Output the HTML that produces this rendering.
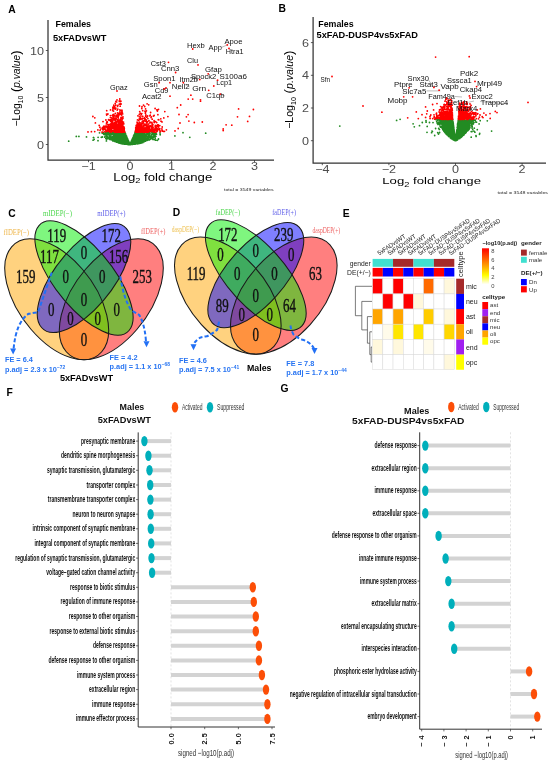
<!DOCTYPE html>
<html><head><meta charset="utf-8"><style>
html,body{margin:0;padding:0;background:#fff;}
svg{display:block;font-family:"Liberation Sans",sans-serif;will-change:transform;}
</style></head><body>
<svg width="550" height="763" viewBox="0 0 550 763">
<rect width="550" height="763" fill="#fff"/>
<text transform="translate(8.20,12.50)" font-size="10.3" text-anchor="start" fill="#000" font-weight="bold">A</text>
<text transform="translate(278.60,12.30)" font-size="10.3" text-anchor="start" fill="#000" font-weight="bold">B</text>
<text transform="translate(8.20,216.80)" font-size="10.3" text-anchor="start" fill="#000" font-weight="bold">C</text>
<text transform="translate(172.80,215.50)" font-size="10.3" text-anchor="start" fill="#000" font-weight="bold">D</text>
<text transform="translate(342.70,216.90)" font-size="10.3" text-anchor="start" fill="#000" font-weight="bold">E</text>
<text transform="translate(6.40,396.10)" font-size="10.3" text-anchor="start" fill="#000" font-weight="bold">F</text>
<text transform="translate(280.40,391.70)" font-size="10.3" text-anchor="start" fill="#000" font-weight="bold">G</text>
<path d="M148.2 138.5h0M133.4 139.7h0M125.5 139.6h0M111.1 138.9h0M121.7 142.4h0M131.6 142.4h0M127.0 140.3h0M120.0 132.8h0M134.0 138.2h0M138.3 140.3h0M129.8 144.0h0M134.6 140.9h0M127.9 141.5h0M147.3 134.2h0M127.4 140.0h0M121.5 136.1h0M137.6 141.4h0M130.4 144.2h0M103.8 133.3h0M120.8 134.2h0M132.1 141.0h0M125.5 139.8h0M129.8 144.1h0M142.4 133.8h0M131.4 142.9h0M127.7 140.6h0M134.9 134.2h0M127.6 141.3h0M131.7 142.0h0M135.9 142.0h0M114.6 134.6h0M120.8 133.2h0M111.0 133.4h0M136.1 132.7h0M109.9 133.8h0M132.6 144.1h0M144.1 141.2h0M132.8 143.0h0M142.4 141.3h0M126.2 139.9h0M144.9 132.6h0M136.5 141.5h0M132.8 139.8h0M122.3 136.0h0M142.1 136.6h0M124.1 136.2h0M131.6 142.3h0M118.2 137.6h0M129.5 144.0h0M136.5 134.9h0M126.7 144.2h0M127.4 143.1h0M122.3 139.3h0M128.6 141.4h0M131.6 143.1h0M143.3 137.5h0M111.0 135.8h0M124.0 137.4h0M108.8 132.6h0M139.3 135.1h0M120.7 134.3h0M130.0 144.5h0M148.3 138.3h0M136.6 140.3h0M145.7 136.1h0M142.1 138.1h0M127.8 140.8h0M143.3 140.6h0M126.8 141.3h0M134.0 141.2h0M121.1 133.0h0M152.1 137.6h0M124.5 140.1h0M117.4 137.0h0M137.4 142.4h0M132.6 140.3h0M130.9 142.5h0M127.2 140.8h0M130.6 144.4h0M125.2 142.3h0M126.5 136.7h0M125.9 144.2h0M137.0 139.1h0M145.1 139.5h0M137.4 139.1h0M130.8 143.1h0M139.5 139.3h0M131.0 143.3h0M127.0 140.7h0M136.9 138.8h0M149.3 135.6h0M149.4 139.9h0M126.1 137.2h0M136.3 137.4h0M133.1 138.1h0M144.3 136.7h0M139.1 136.0h0M120.8 136.0h0M118.7 134.6h0M139.0 143.2h0M135.3 134.0h0M132.1 141.3h0M127.1 141.9h0M136.5 143.1h0M135.5 133.7h0M139.9 141.8h0M122.1 133.5h0M124.5 140.9h0M130.0 144.4h0M127.9 142.0h0M127.9 140.8h0M128.1 140.9h0M139.8 138.5h0M111.8 138.2h0M128.4 143.7h0M134.4 142.5h0M113.4 133.2h0M128.2 143.9h0M118.3 138.5h0M136.3 135.4h0M123.6 136.5h0M124.4 139.9h0M131.5 142.4h0M122.4 137.9h0M150.5 136.3h0M130.7 144.2h0M129.2 142.9h0M124.7 141.4h0M131.0 144.0h0M118.8 137.8h0M128.5 141.3h0M121.0 134.4h0M134.7 134.1h0M136.5 137.4h0M136.1 138.1h0M137.2 133.3h0M128.7 142.4h0M141.3 141.5h0M126.3 137.5h0M146.9 136.5h0M128.7 143.0h0M140.8 135.0h0M132.9 142.9h0M122.2 138.1h0M134.5 136.1h0M131.4 141.9h0M124.4 141.4h0M121.4 132.4h0M128.8 142.6h0M130.0 144.5h0M124.4 139.4h0M119.1 138.1h0M132.9 137.9h0M114.1 132.8h0M137.4 133.0h0M138.1 135.4h0M129.9 144.4h0M117.7 136.1h0M137.6 142.0h0M134.6 137.7h0M132.3 139.8h0M126.6 142.4h0M115.2 135.6h0M119.5 140.5h0M135.7 141.0h0M156.2 133.9h0M123.8 135.8h0M132.8 142.2h0M139.7 140.7h0M136.8 140.5h0M143.2 134.3h0M118.8 142.1h0M119.8 134.9h0M142.8 138.2h0M128.8 142.4h0M137.2 132.7h0M135.2 139.2h0M150.9 137.3h0M121.2 141.2h0M126.0 135.7h0M130.8 142.9h0M123.6 133.6h0M106.3 136.5h0M143.6 139.2h0M123.2 142.9h0M134.9 144.0h0M118.7 132.9h0M132.0 142.7h0M123.7 133.8h0M133.3 139.1h0M124.8 137.9h0M137.4 137.8h0M139.4 142.6h0M141.9 135.1h0M129.0 142.7h0M132.3 142.4h0M131.1 143.5h0M127.0 138.5h0M126.1 142.4h0M142.0 138.6h0M125.1 133.0h0M128.2 143.5h0M133.8 139.9h0M142.6 139.0h0M138.5 135.9h0M140.1 140.6h0M130.9 144.4h0M136.7 143.3h0M143.3 134.5h0M148.1 136.5h0M136.0 141.6h0M126.5 142.8h0M136.4 140.0h0M124.7 141.0h0M138.9 135.6h0M130.5 143.9h0M131.4 142.5h0M120.0 136.9h0M130.7 142.9h0M124.2 139.6h0M134.0 140.8h0M124.0 136.1h0M136.9 142.9h0M134.6 137.7h0M117.9 134.5h0M125.9 142.5h0M125.5 143.8h0M129.1 143.4h0M139.2 136.9h0M125.3 141.2h0M140.3 139.4h0M141.3 142.9h0M128.2 140.4h0M126.0 139.1h0M136.2 135.8h0M128.8 142.7h0M145.4 137.0h0M128.7 141.7h0M108.8 133.9h0M129.5 143.6h0M136.8 139.6h0M127.6 143.5h0M118.2 135.2h0M139.2 136.7h0M116.7 135.6h0M129.3 142.9h0M126.9 141.5h0M128.3 141.6h0M133.1 143.5h0M142.1 142.1h0M139.4 135.2h0M136.0 132.5h0M137.4 139.2h0M144.4 137.1h0M134.4 136.2h0M144.9 140.4h0M127.1 143.4h0M125.6 138.7h0M129.5 143.6h0M147.1 139.4h0M129.9 144.5h0M135.7 132.3h0M123.3 142.4h0M134.6 144.2h0M125.0 143.3h0M134.3 134.6h0M132.5 138.8h0M133.6 138.0h0M126.7 139.4h0M132.3 144.4h0M118.5 139.6h0M145.0 136.7h0M133.2 139.5h0M136.7 138.4h0M144.3 134.0h0M141.1 137.6h0M126.0 138.3h0M137.8 138.7h0M126.2 141.5h0M113.9 140.4h0M134.9 134.2h0M140.2 135.5h0M117.4 142.0h0M128.9 143.3h0M138.5 142.2h0M120.1 135.5h0M125.3 137.0h0M135.1 138.2h0M136.3 140.7h0M136.8 142.0h0M133.2 143.9h0M134.3 140.9h0M141.5 135.2h0M122.8 141.6h0M125.7 137.7h0M139.2 138.3h0M122.4 134.5h0M141.2 139.4h0M139.5 141.6h0M136.6 143.5h0M136.7 142.0h0M120.6 141.4h0M129.7 144.2h0M140.8 137.2h0M123.1 143.0h0M126.7 139.2h0M122.1 135.6h0M132.2 144.4h0M117.4 139.7h0M135.9 138.3h0M140.5 142.4h0M132.7 143.4h0M151.6 134.3h0M121.4 133.7h0M128.2 144.4h0M108.0 134.4h0M123.8 138.1h0M128.3 142.1h0M126.9 138.4h0M134.4 143.2h0M126.7 137.8h0M132.0 143.6h0M143.5 133.7h0M138.8 143.0h0M133.7 140.5h0M121.9 141.6h0M131.3 141.8h0M125.6 134.7h0M116.8 134.9h0M128.1 140.3h0M123.2 141.0h0M128.3 142.4h0M144.8 138.9h0M140.8 137.7h0M125.0 134.0h0M126.4 136.0h0M124.3 140.3h0M144.4 133.9h0M121.7 136.3h0M122.4 138.3h0M128.6 144.2h0M153.1 132.7h0M150.9 138.2h0M126.6 140.4h0M145.3 136.7h0M130.3 144.0h0M127.8 141.2h0M128.8 144.3h0M116.7 135.9h0M136.9 139.1h0M131.9 141.7h0M145.7 139.0h0M128.3 141.7h0M109.8 138.6h0M128.3 143.9h0M141.9 139.7h0M112.9 138.6h0M131.5 142.3h0M117.9 135.2h0M134.6 137.9h0M129.4 144.0h0M145.8 138.3h0M126.3 143.3h0M128.1 142.8h0M118.8 142.2h0M117.8 134.7h0M130.8 143.6h0M137.7 142.7h0M123.3 133.7h0M125.8 141.2h0M138.0 134.6h0M124.6 143.5h0M126.2 135.9h0M127.6 140.0h0M128.8 141.9h0M137.5 133.0h0M129.6 144.3h0M119.6 143.1h0M115.1 137.9h0M115.9 134.3h0M124.7 133.7h0M144.0 140.6h0M135.6 141.1h0M127.4 143.2h0M113.1 134.4h0M144.5 138.1h0M124.7 137.3h0M125.6 134.8h0M118.5 138.2h0M127.3 139.8h0M127.7 144.0h0M124.1 142.1h0M114.0 137.9h0M136.0 137.8h0M135.1 140.1h0M114.1 140.5h0M139.6 135.5h0M131.5 141.8h0M134.6 138.8h0M125.0 136.6h0M131.0 143.3h0M112.7 137.9h0M122.4 138.3h0M131.9 144.2h0M132.0 144.3h0M130.2 144.3h0M122.9 137.3h0M136.0 143.8h0M142.8 135.0h0M138.2 134.3h0M122.6 137.3h0M133.7 135.9h0M130.1 144.5h0M139.3 141.1h0M131.6 140.6h0M134.7 139.0h0M130.5 143.9h0M143.2 139.4h0M120.1 139.9h0M114.7 137.8h0M119.8 133.7h0M135.7 137.5h0M115.8 133.2h0M112.0 137.4h0M129.2 142.7h0M124.6 140.6h0M142.6 138.2h0M129.9 144.3h0M122.8 143.4h0M120.8 134.0h0M118.3 132.5h0M129.5 143.6h0M116.5 137.8h0M130.8 143.4h0M121.9 135.0h0M127.1 142.9h0M134.7 143.1h0M109.5 139.3h0M140.4 141.7h0M137.6 140.3h0M117.1 139.0h0M130.5 144.3h0M117.0 138.4h0M123.9 140.1h0M124.3 134.2h0M124.2 135.3h0M129.8 144.4h0M120.2 137.1h0M142.9 133.8h0M121.8 137.2h0M140.3 141.5h0M136.8 133.9h0M138.6 136.5h0M144.7 135.7h0M143.7 141.6h0M138.4 142.5h0M116.1 134.9h0M122.3 133.4h0M120.1 138.4h0M130.0 144.5h0M131.6 140.8h0M122.9 142.9h0M148.7 136.4h0M129.9 144.5h0M135.3 136.9h0M102.3 133.2h0M120.2 139.6h0M131.4 143.5h0M119.5 135.7h0M122.5 139.1h0M129.3 143.4h0M131.1 142.5h0M142.1 137.7h0M115.1 135.9h0M131.4 142.9h0M123.5 140.3h0M132.2 142.4h0M138.0 136.0h0M121.1 135.0h0M136.9 138.9h0M127.2 143.3h0M128.9 143.6h0M118.5 132.6h0M126.7 137.4h0M123.4 141.4h0M146.3 134.4h0M135.0 142.1h0M146.4 134.7h0M122.6 136.8h0M133.6 139.9h0M133.5 137.5h0M125.3 136.7h0M129.8 144.3h0M148.8 137.1h0M125.1 139.0h0M136.5 138.5h0M132.5 138.9h0M116.5 133.4h0M125.9 143.0h0M134.7 136.1h0M122.3 139.0h0M137.7 141.3h0M132.3 142.4h0M120.2 134.3h0M121.7 141.4h0M108.5 137.3h0M134.7 139.6h0M128.8 143.3h0M119.7 132.9h0M132.2 140.3h0M141.4 134.9h0M125.6 144.1h0M124.1 140.3h0M140.2 142.9h0M130.9 143.2h0M119.7 137.0h0M133.9 139.7h0M133.4 137.8h0M109.6 138.2h0M121.4 143.1h0M132.2 141.7h0M130.2 144.2h0M140.1 134.6h0M133.7 137.7h0M128.6 142.5h0M128.7 144.4h0M119.6 136.7h0M114.2 138.9h0M141.9 135.6h0M120.6 136.5h0M137.0 142.0h0M117.2 138.0h0M131.3 141.5h0M132.9 142.0h0M132.7 138.5h0M127.6 139.3h0M137.3 138.2h0M115.7 141.5h0M140.2 140.9h0M139.7 136.6h0M123.3 135.9h0M129.5 144.0h0M129.6 144.0h0M121.0 136.4h0M140.6 140.2h0M139.3 142.5h0M133.4 137.1h0M126.3 139.4h0M125.4 140.7h0M136.1 138.7h0M133.6 136.3h0M130.4 144.4h0M138.1 135.8h0M115.6 136.2h0M141.9 139.9h0M110.7 132.4h0M130.0 144.4h0M134.0 138.2h0M134.2 138.4h0M135.4 133.0h0M122.5 135.3h0M138.7 143.1h0M129.2 143.8h0M121.8 138.5h0M138.7 141.4h0M138.6 142.7h0M125.8 138.5h0M131.7 140.7h0M130.6 144.4h0M125.1 142.8h0M131.1 143.9h0M128.3 142.3h0M131.1 144.3h0M119.7 137.9h0M138.4 139.5h0M142.9 137.0h0M134.8 135.7h0M118.0 137.2h0M134.4 138.9h0M147.3 140.3h0M125.9 138.8h0M124.3 137.5h0M117.5 139.3h0M143.7 140.1h0M134.6 140.6h0M137.6 143.4h0M121.5 133.1h0M131.7 142.5h0M129.4 143.0h0M148.3 138.9h0M118.6 135.8h0M133.9 143.1h0M132.3 140.2h0M134.6 138.6h0M137.2 143.2h0M122.4 142.3h0M125.6 137.0h0M129.5 143.6h0M131.8 144.0h0M115.7 132.5h0M122.6 141.7h0M130.8 144.3h0M135.0 132.6h0M141.6 141.5h0M145.0 137.2h0M125.8 136.4h0M140.0 138.6h0M139.3 140.1h0M136.4 137.7h0M133.5 138.0h0M136.2 137.0h0M133.1 141.9h0M135.3 144.1h0M134.9 134.8h0M122.4 143.5h0M128.7 141.5h0M121.9 138.8h0M115.7 132.6h0M129.7 143.9h0M124.4 134.0h0M133.8 137.5h0M120.1 139.9h0M123.7 136.5h0M136.1 132.6h0M150.9 138.3h0M126.6 142.8h0M131.0 143.0h0M140.0 136.9h0M126.4 141.5h0M126.9 139.2h0M124.1 143.1h0M129.2 144.2h0M138.6 135.3h0M121.4 139.9h0M130.1 144.4h0M133.6 141.9h0M128.4 142.3h0M112.8 133.6h0M121.4 132.5h0M142.7 132.4h0M125.2 142.5h0M129.2 144.0h0M135.0 136.8h0M131.1 142.2h0M136.5 133.8h0M143.8 132.4h0M138.1 138.6h0M116.9 139.5h0M123.5 140.7h0M139.7 141.5h0M121.8 133.4h0M141.1 140.7h0M115.8 133.1h0M128.5 144.1h0M138.1 143.1h0M140.9 134.0h0M134.3 136.0h0M121.0 139.3h0M135.1 139.1h0M137.3 138.5h0M139.4 132.6h0M130.9 143.8h0M137.2 133.1h0M132.0 142.3h0M129.2 142.8h0M153.4 137.2h0M128.9 142.1h0M123.9 135.5h0M128.6 142.9h0M121.4 142.1h0M136.9 137.7h0M136.4 139.0h0M133.1 143.8h0M135.4 142.0h0M128.3 141.2h0M118.0 133.3h0M134.4 142.2h0M129.4 143.3h0M131.0 143.5h0M127.8 141.6h0M132.2 144.0h0M126.6 136.7h0M136.9 133.2h0M131.8 142.0h0M128.8 143.3h0M138.5 134.4h0M137.2 140.8h0M122.4 139.1h0M126.8 137.5h0M123.0 133.5h0M129.8 144.4h0M120.7 136.8h0M133.1 143.7h0M129.2 144.3h0M129.3 144.3h0M135.2 139.0h0M133.1 138.5h0M126.6 141.3h0M151.9 138.5h0M131.8 143.9h0M128.5 141.3h0M132.9 141.2h0M142.3 132.7h0M119.6 138.2h0M129.7 143.7h0M131.4 144.1h0M123.1 141.0h0M121.9 140.2h0M130.5 143.3h0M137.8 142.3h0M123.4 142.1h0M144.4 139.5h0M132.3 139.5h0M131.7 144.3h0M129.3 143.4h0M122.3 142.4h0M133.1 142.3h0M137.8 139.4h0M121.9 134.4h0M135.0 141.3h0M136.7 141.9h0M144.6 133.8h0M117.8 133.1h0M113.1 137.2h0M119.5 132.7h0M112.1 134.0h0M138.3 143.0h0M133.5 138.6h0M142.6 142.1h0M139.0 137.3h0M132.6 140.8h0M132.7 140.0h0M119.2 142.9h0M140.1 134.4h0M134.9 138.9h0M123.4 136.0h0M130.8 143.9h0M133.5 140.2h0M119.4 134.2h0M127.4 141.4h0M113.9 138.8h0M121.5 139.9h0M129.9 144.4h0M125.2 140.5h0M121.0 137.3h0M133.6 135.9h0M134.4 140.0h0M134.4 142.9h0M138.5 143.6h0M147.6 133.0h0M133.6 138.4h0M130.8 143.0h0M131.2 142.8h0M124.8 137.6h0M139.8 143.2h0M123.6 140.0h0M136.8 138.2h0M126.3 140.1h0M137.3 136.3h0M143.9 136.8h0M127.6 144.3h0M129.7 143.9h0M139.0 135.1h0M142.5 136.8h0M127.9 143.8h0M130.7 143.1h0M125.9 144.1h0M128.9 142.4h0M126.8 142.4h0M135.9 138.4h0M130.9 144.1h0M138.2 132.9h0M115.6 137.6h0M141.9 139.9h0M133.1 138.2h0M117.3 139.7h0M116.4 139.0h0M123.7 142.3h0M147.5 133.6h0M127.4 139.4h0M120.5 135.8h0M133.2 140.9h0M124.6 140.6h0M130.8 144.1h0M128.6 143.3h0M129.0 143.9h0M137.4 135.6h0M141.0 135.2h0M144.4 138.5h0M125.6 144.0h0M122.7 139.5h0M113.7 139.4h0M122.6 138.1h0M143.1 132.8h0M137.2 141.9h0M126.8 140.3h0M114.9 133.3h0M130.5 143.6h0M125.0 137.5h0M128.5 142.5h0M131.9 144.0h0M131.8 142.7h0M141.0 132.6h0M131.4 141.3h0M113.0 141.0h0M142.6 135.2h0M106.5 134.0h0M126.5 143.8h0M131.4 144.1h0M124.9 142.7h0M115.1 140.9h0M121.5 141.4h0M114.8 141.4h0M136.7 142.4h0M137.0 141.8h0M133.6 142.5h0M150.0 133.3h0M142.7 142.5h0M130.6 143.7h0M135.0 143.1h0M136.2 139.9h0M151.4 135.8h0M146.7 139.8h0M134.1 135.8h0M136.3 143.2h0M123.1 137.5h0M132.4 142.7h0M136.5 139.0h0M124.4 134.2h0M133.5 143.0h0M133.1 142.7h0M128.2 144.4h0M108.7 134.5h0M129.4 144.4h0M133.4 143.9h0M124.9 134.3h0M136.7 141.7h0M136.7 143.4h0M131.6 142.1h0M129.2 144.1h0M127.8 142.4h0M107.6 132.3h0M143.9 133.7h0M125.8 141.8h0M135.4 143.5h0M145.9 135.0h0M123.2 135.3h0M143.6 141.0h0M144.6 136.6h0M132.8 139.3h0M131.5 143.2h0M150.4 137.9h0M126.0 142.5h0M142.0 134.5h0M134.9 136.6h0M121.5 134.8h0M144.3 135.5h0M130.4 144.5h0M117.2 134.7h0M114.2 139.5h0M116.8 134.1h0M125.2 138.1h0M127.8 140.5h0M144.1 138.2h0M119.6 140.0h0M132.4 140.9h0M125.8 138.7h0M134.5 134.4h0M133.7 143.8h0M128.2 141.9h0M129.8 144.4h0M132.3 140.9h0M129.2 142.7h0M151.0 136.5h0M133.8 141.8h0M141.5 138.8h0M122.3 133.9h0M134.4 135.7h0M115.1 141.1h0M135.4 143.0h0M117.5 142.1h0M137.2 142.6h0M125.5 141.0h0M117.6 136.1h0M132.4 140.3h0M130.5 143.4h0M131.5 143.7h0M124.6 132.7h0M122.4 132.5h0M125.5 135.6h0M121.4 133.3h0M125.1 134.8h0M126.6 136.6h0M137.6 142.0h0M140.8 141.2h0M120.2 139.3h0M135.1 137.3h0M116.8 137.3h0M145.2 139.4h0M115.9 136.0h0M137.1 137.8h0M114.8 137.9h0M114.0 134.7h0M149.2 133.6h0M116.1 141.0h0M133.7 140.8h0M134.8 141.8h0M127.7 139.3h0M120.1 135.2h0M118.6 135.1h0M127.6 141.6h0M128.9 142.0h0M121.3 135.7h0M147.7 139.0h0M131.2 142.5h0M135.4 139.5h0M127.9 140.0h0M118.8 134.5h0M140.3 138.3h0M128.8 143.7h0M125.6 142.0h0M125.9 142.0h0M128.9 142.1h0M148.8 133.9h0M126.3 136.6h0M145.1 139.6h0M131.1 143.8h0M116.2 141.6h0M127.9 139.9h0M145.2 137.0h0M128.2 144.3h0M133.4 138.5h0M116.7 134.1h0M130.3 144.1h0M125.9 143.7h0M139.2 141.3h0M124.2 136.7h0M145.3 139.9h0M121.6 136.0h0M121.2 135.5h0M125.6 136.7h0M131.4 142.6h0M122.3 141.2h0M140.4 141.9h0M131.9 140.1h0M119.7 138.3h0M138.1 136.5h0M154.4 133.8h0M119.3 137.2h0M134.4 138.8h0M110.8 136.3h0M134.5 144.0h0M123.8 143.3h0M124.1 139.6h0M127.5 142.5h0M124.9 138.7h0M139.3 138.9h0M129.0 144.1h0M137.8 141.9h0M133.4 143.4h0M132.7 139.0h0M118.1 134.8h0M117.9 133.7h0M122.1 143.2h0M137.0 132.6h0M143.5 136.7h0M130.1 144.4h0M131.0 143.1h0M120.0 139.3h0M127.1 143.6h0M123.6 135.8h0M127.1 142.4h0M118.6 134.5h0M127.3 143.9h0M131.6 142.0h0M130.8 143.1h0M137.9 142.9h0M128.9 142.2h0M132.9 140.2h0M138.6 137.7h0M131.9 141.9h0M114.1 138.7h0M120.9 137.1h0M124.6 139.6h0M119.3 137.7h0M136.5 138.9h0M117.8 141.0h0M138.0 136.5h0M134.2 134.6h0M144.2 137.0h0M116.4 132.8h0M123.8 134.4h0M134.3 142.5h0M125.4 138.8h0M117.3 140.4h0M137.8 143.0h0M133.5 137.8h0M126.0 138.3h0M121.0 138.3h0M124.4 139.0h0M129.6 144.3h0M147.3 134.2h0M122.6 135.1h0M121.4 139.3h0M120.8 142.8h0M130.1 144.3h0M139.1 133.2h0M119.5 134.7h0M133.5 137.3h0M121.7 140.0h0M128.8 144.0h0M127.3 142.7h0M134.2 142.2h0M110.4 134.2h0M125.6 144.2h0M135.6 133.5h0M140.6 137.7h0M130.8 144.1h0M135.2 141.1h0M131.0 143.5h0M124.2 142.5h0M137.3 143.5h0M137.6 135.6h0M149.6 134.0h0M139.6 134.6h0M137.2 136.8h0M134.8 134.7h0M131.8 143.4h0M132.4 144.2h0M141.3 135.8h0M136.9 137.5h0M121.6 143.2h0M135.0 140.7h0M129.8 144.3h0M139.1 139.3h0M120.9 140.0h0M118.3 142.8h0M123.9 137.9h0M135.2 143.6h0M129.1 144.5h0M120.8 139.5h0M131.6 141.9h0M123.9 139.1h0M131.3 144.3h0M141.4 133.8h0M110.4 137.7h0M113.1 138.8h0M124.0 135.5h0M133.8 142.4h0M138.4 136.9h0M134.8 140.2h0M134.6 136.6h0M118.6 134.3h0M134.4 143.4h0M131.6 141.8h0M136.7 137.9h0M123.1 135.1h0M109.2 135.4h0M134.3 138.0h0M124.4 141.2h0M137.9 139.6h0M120.1 140.5h0M131.6 141.2h0M135.5 136.4h0M129.9 144.5h0M137.0 132.6h0M133.7 141.2h0M124.7 144.0h0M133.6 144.1h0M155.9 136.2h0M125.1 139.2h0M120.3 142.8h0M137.3 132.9h0M127.4 140.0h0M131.6 144.3h0M146.3 136.8h0M128.4 142.7h0M149.1 139.5h0M134.8 139.5h0M132.1 142.3h0M147.7 138.4h0M117.4 137.0h0M106.9 135.3h0M137.5 132.4h0M149.7 134.4h0M134.6 141.7h0M137.8 139.6h0M137.8 134.6h0M142.9 142.4h0M128.3 141.8h0M127.0 138.6h0M127.3 143.9h0M134.6 136.9h0M140.4 137.1h0M119.8 140.9h0M141.0 133.8h0M120.1 135.8h0M120.8 138.9h0M121.7 136.0h0M119.1 133.5h0M125.6 140.7h0M139.6 140.5h0M135.1 136.4h0M136.5 134.5h0M128.7 141.5h0M137.6 138.1h0M131.8 143.9h0M131.2 144.0h0M120.9 143.5h0M133.0 139.6h0M121.2 136.6h0M135.7 137.6h0M125.6 137.9h0M117.1 142.1h0M141.9 133.9h0M123.7 142.8h0M136.2 141.8h0M141.0 141.6h0M128.5 141.6h0M137.9 134.5h0M144.1 138.5h0M123.8 136.7h0M125.5 140.5h0M121.0 141.9h0M123.6 134.7h0M136.1 133.9h0M138.1 141.4h0M125.5 138.3h0M135.3 143.5h0M126.3 143.2h0M142.6 140.6h0M131.1 142.3h0M129.2 142.7h0M136.7 136.3h0M126.9 142.4h0M119.9 135.8h0M129.9 144.2h0M107.8 133.9h0M120.3 135.3h0M119.6 140.2h0M130.8 143.9h0M111.0 132.9h0M127.0 144.2h0M123.5 133.7h0M135.9 140.9h0M138.3 135.0h0M147.7 133.7h0M124.5 138.7h0M127.2 140.0h0M113.3 136.0h0M112.2 138.2h0M131.3 144.3h0M142.8 141.9h0M122.1 142.0h0M113.7 136.4h0M125.8 142.5h0M119.1 136.3h0M123.7 143.8h0M119.3 139.6h0M123.4 132.7h0M135.2 135.0h0M121.2 134.0h0M128.8 142.8h0M123.6 140.8h0M127.1 143.0h0M138.9 134.4h0M129.5 144.2h0M125.4 136.7h0M137.2 143.0h0M116.4 141.6h0M125.4 142.4h0M122.6 142.9h0M120.3 132.7h0M131.1 142.5h0M119.8 138.5h0M117.1 135.7h0M139.1 140.3h0M129.8 144.1h0M123.1 136.4h0M127.4 143.0h0M134.2 138.8h0M128.8 144.5h0M116.7 140.0h0M143.3 135.0h0M124.0 134.6h0M143.2 133.9h0M142.7 139.8h0M144.5 139.2h0M126.8 139.2h0M134.5 142.0h0M149.1 136.7h0M140.0 142.8h0M112.8 136.7h0M128.5 141.9h0M145.5 136.8h0M126.9 140.9h0M129.0 142.9h0M109.2 137.0h0M139.8 139.2h0M121.1 135.1h0M129.6 143.9h0M121.7 138.6h0M134.1 135.5h0M141.7 135.9h0M116.6 142.0h0M132.8 138.2h0M140.8 135.5h0M136.7 140.2h0M130.8 143.2h0M128.3 142.9h0M116.7 140.2h0M130.8 142.8h0M121.6 137.0h0M131.7 141.9h0M119.9 133.2h0M103.6 133.6h0M134.5 136.9h0M133.5 141.8h0M128.5 144.5h0M128.7 142.1h0M128.9 143.2h0M126.1 141.4h0M125.9 137.5h0M114.5 138.2h0M116.0 141.8h0M122.3 136.2h0M154.6 132.5h0M126.5 138.5h0M140.9 138.1h0M139.7 133.2h0M141.0 140.4h0M136.6 138.1h0M126.8 137.3h0M134.7 143.2h0M134.6 143.8h0M127.7 139.3h0M125.7 135.6h0M137.0 133.5h0M138.1 133.2h0M116.6 139.8h0M147.9 139.8h0M130.9 143.2h0M120.2 133.9h0M133.9 144.2h0M136.7 134.7h0M132.5 138.6h0M113.4 136.3h0M132.0 144.0h0M128.2 141.5h0M138.9 137.1h0M114.8 134.5h0M123.0 143.8h0M142.1 141.2h0M129.4 143.8h0M115.5 140.5h0M139.0 141.0h0M148.9 133.9h0M133.9 140.7h0M124.2 141.8h0M115.0 138.1h0M135.3 141.8h0M135.4 138.8h0M119.1 140.8h0M138.5 135.7h0M125.5 141.4h0M116.5 133.8h0M127.8 142.4h0M130.1 144.3h0M114.2 140.1h0M113.0 134.3h0M136.9 135.3h0M134.8 135.8h0M133.6 136.3h0M128.6 142.3h0M145.6 141.2h0M133.5 139.7h0M132.0 141.2h0M128.3 144.4h0M137.9 138.9h0M130.8 143.0h0M141.6 134.0h0M129.5 144.1h0M127.4 138.3h0M137.4 133.8h0M139.6 136.7h0M129.2 143.4h0M136.8 137.8h0M146.5 132.6h0M118.2 132.9h0M110.0 137.9h0M127.7 141.5h0M114.2 136.2h0M132.6 144.2h0M124.8 139.2h0M146.6 135.1h0M114.9 141.3h0M124.9 139.5h0M125.8 139.5h0M126.1 141.8h0M114.9 136.2h0M143.6 137.4h0M124.4 138.9h0M140.3 139.3h0M110.7 138.2h0M123.1 139.3h0M117.9 140.0h0M132.1 141.7h0M116.0 134.7h0M128.7 144.3h0M140.2 134.7h0M141.6 137.9h0M144.0 137.3h0M120.7 137.7h0M131.3 142.8h0M135.7 140.5h0M120.5 135.0h0M135.6 135.6h0M127.2 141.5h0M143.9 140.1h0M131.9 140.6h0M136.2 135.6h0M125.9 141.7h0M127.0 140.1h0M134.1 144.2h0M131.6 140.9h0M140.8 140.7h0M149.5 134.8h0M136.5 142.6h0M124.6 137.4h0M139.4 142.3h0M129.5 143.6h0M133.0 140.5h0M123.8 137.6h0M137.0 135.2h0M117.6 135.7h0M134.3 140.9h0M124.3 135.0h0M148.7 138.1h0M126.1 138.3h0M124.8 133.7h0M124.8 142.2h0M137.6 141.0h0M120.6 132.7h0M120.1 134.8h0M128.1 143.2h0M138.0 142.4h0M118.0 135.8h0M112.5 133.2h0M134.1 140.1h0M120.8 142.9h0M115.3 140.2h0M146.8 134.7h0M144.2 138.0h0M116.2 134.3h0M136.0 142.1h0M126.6 139.6h0M126.3 141.8h0M134.9 140.2h0M111.8 137.5h0M125.2 140.4h0M112.4 140.2h0M143.0 132.5h0M133.1 141.5h0M136.1 138.3h0M131.9 143.4h0M141.1 139.4h0M132.2 143.5h0M130.0 144.5h0M131.3 141.9h0M128.6 142.9h0M132.1 142.8h0M133.4 137.6h0M122.6 143.4h0M126.7 144.2h0M131.1 142.2h0M131.5 141.9h0M128.2 143.8h0M107.6 137.1h0M123.6 137.7h0M131.3 141.7h0M115.4 138.0h0M141.8 142.0h0M140.5 135.7h0M127.0 141.0h0M142.9 136.1h0M120.1 134.1h0M142.4 133.8h0M133.2 138.1h0M131.1 143.1h0M133.7 140.5h0M142.0 139.0h0M122.3 139.7h0M132.3 140.7h0M142.7 136.2h0M131.4 144.1h0M121.3 135.3h0M131.2 142.4h0M136.5 136.0h0M126.1 140.1h0M148.2 136.2h0M135.5 140.0h0M127.8 143.1h0M114.1 138.5h0M132.0 142.5h0M140.9 135.1h0M133.5 138.4h0M118.8 138.7h0M142.1 132.5h0M120.1 135.3h0M148.6 139.8h0M133.4 141.5h0M131.9 141.7h0M124.8 137.5h0M148.7 134.4h0M132.4 144.0h0M125.4 134.7h0M128.3 142.2h0M117.8 134.2h0M119.6 132.9h0M130.6 144.5h0M134.0 135.8h0M147.7 139.1h0M120.0 139.6h0M122.8 143.8h0M138.8 139.2h0M126.1 136.6h0M132.6 143.2h0M118.1 141.2h0M113.7 139.3h0M119.0 133.4h0M136.7 142.5h0M130.6 143.7h0M125.2 136.5h0M116.3 136.9h0M134.7 139.1h0M135.0 139.3h0M103.5 133.8h0M141.9 135.1h0M138.0 135.4h0M154.9 136.1h0M144.2 137.9h0M135.9 141.0h0M126.3 142.4h0M135.1 138.8h0M118.2 142.5h0M118.3 138.0h0M127.2 140.1h0M118.1 132.7h0M139.5 133.4h0M131.7 143.6h0M149.4 133.7h0M134.2 143.4h0M126.9 143.5h0M118.0 140.1h0M111.3 134.3h0M133.4 138.6h0M132.8 144.1h0M122.9 139.1h0M125.9 140.3h0M143.4 134.5h0M124.5 141.8h0M132.5 139.1h0M112.3 138.7h0M129.5 143.5h0M121.3 134.2h0M138.1 141.4h0M130.5 143.4h0M147.1 136.7h0M129.3 143.8h0M137.7 138.7h0M125.5 134.7h0M128.3 142.0h0M120.0 138.4h0M143.3 141.7h0M127.7 142.6h0M134.7 143.6h0M114.2 136.5h0M122.9 133.1h0M134.7 141.9h0M139.8 140.1h0M119.6 137.8h0M139.5 142.1h0M127.7 142.8h0M114.7 137.0h0M138.1 132.4h0M137.5 136.1h0M132.1 142.0h0M120.1 138.4h0M137.8 138.0h0M140.8 133.2h0M138.5 140.0h0M129.7 144.0h0M132.7 141.4h0M120.7 134.0h0M124.6 132.9h0M138.9 135.2h0M133.9 136.8h0M124.3 133.0h0M128.2 140.9h0M128.5 142.3h0M134.1 141.9h0M139.0 137.1h0M139.0 135.5h0M130.8 142.9h0M148.8 133.7h0M132.7 140.0h0M120.9 141.9h0M133.8 136.7h0M131.7 143.7h0M132.5 142.6h0M151.5 136.7h0M116.6 136.3h0M137.2 139.0h0M130.8 143.3h0M145.8 139.0h0M125.3 143.4h0M135.0 135.7h0M122.5 142.8h0M121.9 138.2h0M147.3 136.8h0M127.9 140.3h0M127.1 144.1h0M127.0 138.6h0M134.3 136.1h0M112.0 138.9h0M129.2 143.8h0M105.7 134.4h0M133.8 137.7h0M124.1 136.1h0M142.0 134.1h0M132.9 140.6h0M132.0 144.1h0M111.6 138.4h0M128.3 141.2h0M122.6 132.4h0M129.8 144.3h0M125.7 139.5h0M128.3 140.4h0M128.9 143.5h0M138.0 132.5h0M118.8 136.6h0M114.7 136.5h0M134.1 137.3h0M124.1 144.0h0M118.3 139.8h0M138.6 143.3h0M128.7 142.6h0M130.3 144.2h0M125.7 140.6h0M135.4 139.7h0M138.7 136.6h0M143.4 136.3h0M119.3 138.8h0M121.3 135.3h0M112.9 140.2h0M137.3 140.4h0M140.6 133.9h0M136.6 135.8h0M128.2 140.5h0M141.1 138.5h0M124.7 134.5h0M144.4 141.6h0M126.5 138.2h0M133.6 137.3h0M127.3 141.8h0M124.0 142.4h0M133.4 142.3h0M141.0 138.8h0M136.1 136.0h0M114.0 136.1h0M148.1 138.6h0M129.0 143.7h0M130.6 144.4h0M139.2 136.3h0M136.5 142.6h0M138.0 138.3h0M122.9 143.5h0M123.8 134.5h0M121.2 137.7h0M123.4 132.5h0M127.6 141.7h0M142.6 137.0h0M139.0 140.6h0M136.3 139.6h0M120.8 143.3h0M131.2 144.1h0M137.7 132.5h0M132.6 144.2h0M127.2 142.5h0M130.5 143.3h0M137.0 135.1h0M138.7 141.4h0M126.6 143.8h0M130.8 143.0h0M133.0 139.2h0M114.2 134.9h0M121.2 138.4h0M130.7 144.4h0M129.3 144.4h0M130.2 144.2h0M126.3 140.5h0M140.3 139.5h0M142.1 141.8h0M134.5 143.1h0M132.6 142.8h0M128.1 141.5h0M131.6 142.3h0M134.5 137.7h0M122.8 141.1h0M152.4 134.7h0M131.1 142.7h0M131.8 143.8h0M131.2 143.0h0M123.3 138.7h0M129.5 143.8h0M123.8 136.8h0M114.7 137.1h0M113.1 139.3h0M121.1 132.9h0M126.8 142.0h0M119.2 138.6h0M131.1 144.2h0M121.0 133.0h0M134.1 137.8h0M128.2 144.5h0M117.5 142.2h0M132.4 140.2h0M117.8 135.0h0M130.4 144.2h0M125.8 141.8h0M126.9 143.4h0M133.6 138.2h0M134.8 143.0h0M145.3 137.2h0M124.0 132.5h0M128.3 143.3h0M136.6 139.2h0M129.7 144.4h0M127.9 140.1h0M121.0 132.4h0M144.2 139.1h0M116.9 135.4h0M131.6 140.6h0M122.1 141.7h0M134.7 140.6h0M139.8 134.3h0M132.7 140.7h0M119.0 134.3h0M136.5 140.1h0M132.1 141.4h0M147.5 137.8h0M123.4 136.6h0M125.2 139.1h0M122.2 136.8h0M115.1 134.3h0M133.9 143.6h0M123.0 142.0h0M142.3 142.1h0M129.6 143.8h0M133.4 140.6h0M137.6 140.6h0M143.4 134.2h0M132.7 141.1h0M119.2 142.0h0M140.7 132.8h0M119.6 137.3h0M114.2 133.9h0M125.3 137.0h0M127.0 138.5h0M144.4 140.3h0M119.3 136.5h0M121.4 142.7h0M111.6 139.6h0M114.0 133.0h0M142.6 136.2h0M120.1 140.0h0M116.8 138.8h0M128.5 142.3h0M123.3 133.3h0M125.9 142.1h0M124.3 143.6h0M127.0 139.0h0M134.5 143.1h0M122.0 139.3h0M126.2 143.0h0M121.4 139.5h0M127.8 139.7h0M121.4 135.4h0M135.1 136.4h0M136.0 134.1h0M148.3 132.9h0M132.5 142.0h0M132.3 142.2h0M121.9 133.2h0M129.8 144.4h0M123.6 134.6h0M133.7 142.0h0M124.8 136.6h0M114.2 138.9h0M133.1 143.4h0M135.0 136.0h0M123.6 137.0h0M125.5 139.0h0M111.6 137.5h0M121.0 141.1h0M124.6 142.3h0M141.0 141.5h0M126.7 139.9h0M139.7 140.4h0M129.3 144.3h0M130.7 143.8h0M119.7 136.4h0M131.5 142.7h0M142.9 141.2h0M123.5 142.4h0M141.0 137.3h0M112.7 132.4h0M131.7 144.0h0M127.1 139.5h0M137.0 138.4h0M106.7 134.3h0M135.4 135.4h0M124.0 140.0h0M126.2 136.3h0M141.6 133.9h0M126.7 142.9h0M138.4 138.0h0M116.5 140.5h0M149.6 132.7h0M130.2 144.4h0M128.6 142.5h0M127.2 138.9h0M132.8 141.0h0M133.9 136.0h0M118.3 136.2h0M137.2 142.0h0M141.6 139.8h0M126.1 142.0h0M125.6 136.8h0M137.8 137.0h0M125.3 135.9h0M127.6 144.1h0M142.9 142.0h0M132.3 144.4h0M134.7 139.0h0M121.6 139.5h0M128.0 141.6h0M144.9 133.7h0M127.1 138.2h0M131.6 143.1h0M139.5 143.4h0M138.3 142.0h0M146.6 134.1h0M108.2 134.3h0M113.7 135.5h0M150.4 139.1h0M119.4 142.6h0M130.0 144.5h0M123.1 143.2h0M132.6 140.5h0M128.3 144.0h0M116.1 134.0h0M138.0 135.5h0M117.9 133.7h0M119.3 141.0h0M123.8 136.8h0M136.9 137.4h0M131.7 143.3h0M137.5 143.8h0M132.2 142.3h0M129.2 142.9h0M128.5 141.5h0M131.5 143.3h0M143.5 136.2h0M132.6 143.4h0M126.7 137.2h0M127.6 139.0h0M127.1 140.0h0M118.6 134.3h0M119.4 135.1h0M135.0 132.8h0M128.9 143.0h0M136.1 139.6h0M139.2 137.8h0M131.9 141.6h0M116.3 142.0h0M143.4 133.5h0M127.4 138.4h0M130.5 144.2h0M107.9 138.5h0M125.0 143.9h0M140.4 134.6h0M127.5 143.9h0M136.8 135.6h0M131.0 143.0h0M132.9 141.4h0M135.5 135.3h0M124.5 136.9h0M134.1 139.8h0M125.4 134.9h0M130.1 144.3h0M123.7 135.8h0M122.9 136.8h0M132.1 139.6h0M137.7 141.3h0M123.7 134.0h0M116.2 132.8h0M155.3 134.6h0M125.9 142.6h0M123.2 132.7h0M126.8 140.5h0M137.8 137.0h0M117.9 139.5h0M129.8 144.4h0M122.2 135.8h0M123.0 142.1h0M138.7 136.4h0M139.5 137.9h0M135.1 143.2h0M146.7 140.0h0M137.7 137.9h0M119.9 139.8h0M123.1 138.8h0M122.4 143.8h0M137.8 133.0h0M138.1 135.4h0M119.2 141.1h0M132.5 143.8h0M134.2 141.3h0M127.8 143.5h0M137.0 135.3h0M131.6 143.6h0M137.8 142.4h0M131.5 143.9h0M126.9 142.9h0M132.2 143.3h0M119.7 136.5h0M131.6 144.3h0M114.3 134.7h0M125.5 137.8h0M123.9 143.4h0M140.6 137.0h0M124.1 139.9h0M125.4 138.8h0M138.2 135.7h0M125.6 134.0h0M134.4 135.9h0M125.9 142.0h0M138.1 138.4h0M122.0 141.0h0M106.8 132.9h0M113.8 133.4h0M105.2 134.9h0M122.1 143.2h0M136.6 139.1h0M126.7 142.7h0M122.4 139.2h0M145.0 134.9h0M121.5 139.4h0M133.1 138.3h0M129.2 143.1h0M126.6 136.5h0M130.1 144.4h0M143.7 133.8h0M139.9 133.0h0M129.8 144.4h0M133.0 142.3h0M124.2 141.2h0M118.7 137.1h0M125.4 141.1h0M117.7 141.7h0M136.1 137.5h0M122.0 135.6h0M116.5 141.8h0M132.0 143.3h0M125.1 134.9h0M140.6 135.6h0M126.2 138.3h0M113.2 133.2h0M115.9 133.2h0M126.9 137.7h0M137.9 136.6h0M133.1 138.8h0M138.3 137.1h0M143.4 139.2h0M122.1 135.9h0M134.6 138.3h0M122.6 135.5h0M129.6 143.9h0M132.0 141.6h0M113.6 136.4h0M117.9 138.7h0M128.6 141.6h0M121.2 137.4h0M107.2 136.5h0M116.1 132.3h0M138.7 140.1h0M124.5 143.5h0M141.1 141.0h0M128.3 140.5h0M129.3 144.4h0M134.0 143.9h0M133.7 143.8h0M124.1 134.3h0M132.5 144.1h0M132.2 140.1h0M134.0 139.0h0M118.0 134.7h0M135.7 139.3h0M133.5 137.3h0M136.3 137.0h0M135.6 135.9h0M132.1 144.1h0M127.9 140.1h0M127.3 138.3h0M127.7 142.1h0M118.5 132.4h0M134.8 133.9h0M132.2 144.3h0M146.6 135.1h0M129.1 144.3h0M128.3 143.1h0M131.5 141.2h0M129.6 143.5h0M133.6 140.3h0M120.8 141.7h0M119.2 142.2h0M127.1 138.5h0M121.9 141.0h0M123.9 136.3h0M134.0 141.6h0M123.8 138.2h0M128.6 141.3h0M152.1 136.7h0M126.1 139.1h0M118.5 137.2h0M131.9 141.5h0M133.4 144.0h0M114.0 135.7h0M131.5 142.3h0M129.0 142.1h0M124.5 136.7h0M127.8 141.0h0M141.9 139.3h0M103.2 132.7h0M129.4 144.2h0M130.6 144.4h0M122.2 134.8h0M122.9 133.9h0M134.8 144.2h0M138.1 142.4h0M127.5 141.3h0M126.6 139.5h0M123.7 133.8h0M133.7 139.7h0M137.3 141.7h0M138.3 140.2h0M127.7 143.8h0M140.5 139.3h0M148.5 133.4h0M127.2 140.9h0M122.5 143.5h0M122.7 139.1h0M120.6 142.7h0M151.9 132.6h0M110.8 139.5h0M124.5 139.7h0M127.6 141.5h0M134.8 136.5h0M121.9 143.6h0M135.6 136.4h0M133.1 139.8h0M140.7 135.0h0M116.1 138.6h0M133.4 137.7h0M131.7 144.4h0M125.5 142.8h0M125.5 136.2h0M129.0 144.1h0M137.0 136.9h0M123.4 133.7h0M138.6 143.3h0M107.9 134.4h0M129.9 144.4h0M126.3 137.4h0M140.6 136.9h0M132.1 144.1h0M138.6 137.5h0M120.8 141.2h0M137.0 142.4h0M141.3 137.2h0M128.6 142.2h0M128.1 140.5h0M124.3 135.4h0M128.5 142.7h0M130.1 144.4h0M125.0 134.0h0M131.2 143.1h0M152.9 133.3h0M136.3 134.8h0M123.3 133.0h0M142.0 135.7h0M129.4 143.8h0M128.5 144.4h0M128.4 143.0h0M129.8 143.9h0M130.5 144.2h0M139.8 139.9h0M140.5 135.8h0M142.1 140.1h0M120.9 137.8h0M119.2 138.1h0M126.5 142.8h0M118.2 142.4h0M127.8 143.3h0M131.8 141.0h0M142.6 139.1h0M127.0 142.8h0M122.5 140.7h0M128.5 142.5h0M126.3 137.5h0M128.6 144.3h0M119.9 132.6h0M128.6 141.8h0M118.7 141.2h0M109.0 133.5h0M129.9 144.5h0M133.1 142.8h0M132.4 143.5h0M116.5 133.5h0M135.4 138.8h0M132.5 140.2h0M126.0 143.7h0M128.8 144.0h0M133.9 138.5h0M134.7 135.7h0M135.1 132.3h0M134.1 142.0h0M131.7 142.0h0M141.1 135.3h0M134.2 139.8h0M123.2 143.4h0M130.8 143.8h0M134.2 140.6h0M126.5 143.2h0M145.7 137.5h0M116.9 139.2h0M131.6 142.1h0M138.8 140.3h0M136.5 141.9h0M134.0 135.3h0M144.0 133.3h0M128.7 143.0h0M130.7 143.3h0M130.2 144.4h0M124.9 133.9h0M130.5 143.5h0M135.8 136.1h0M131.0 142.2h0M133.8 136.3h0M128.3 141.8h0M124.4 140.8h0M135.3 135.5h0M130.8 143.7h0M131.1 142.8h0M141.4 141.6h0M127.7 139.9h0M134.6 136.5h0M125.8 141.2h0M122.9 133.8h0M122.5 143.8h0M130.3 144.1h0M131.0 144.1h0M127.8 142.8h0M123.5 134.9h0M124.8 135.2h0M153.5 132.3h0M129.9 144.5h0M134.9 137.7h0M142.3 138.0h0M149.6 135.5h0M130.6 143.2h0M114.6 132.3h0M147.4 138.8h0M121.1 133.8h0M143.1 139.0h0M134.0 138.5h0M136.7 141.5h0M131.9 142.4h0M122.6 137.1h0M132.8 138.0h0M131.0 143.6h0M123.6 138.7h0M125.6 138.4h0M138.7 142.2h0M116.5 137.7h0M117.0 133.1h0M134.4 135.1h0M122.2 137.6h0M126.5 140.6h0M137.3 137.6h0M123.1 136.6h0M128.6 143.1h0M115.8 139.6h0M129.7 144.4h0M148.3 138.2h0M141.7 134.4h0M142.7 134.6h0M126.8 144.1h0M132.5 141.2h0M144.6 137.3h0M139.4 135.9h0M130.2 144.1h0M132.9 142.8h0M141.1 142.2h0M128.8 144.1h0M135.0 140.3h0M137.4 143.4h0M143.8 137.7h0M128.7 144.1h0M126.5 143.4h0M125.7 140.2h0M128.6 143.9h0M114.0 138.0h0M135.2 135.3h0M113.6 132.5h0M129.8 144.0h0M125.9 142.3h0M130.8 143.3h0M128.6 141.8h0M127.4 142.0h0M129.7 144.2h0M119.9 137.6h0M121.4 143.2h0M136.3 138.2h0M138.7 136.2h0M133.6 138.6h0M133.7 139.7h0M142.1 138.1h0M131.4 141.2h0M135.5 135.8h0M120.9 140.7h0M134.3 142.3h0M121.7 141.1h0M111.8 139.4h0M111.1 138.8h0M115.1 135.6h0M145.2 137.4h0M129.5 143.8h0M126.9 141.4h0M122.5 141.7h0M130.9 143.7h0M122.8 134.9h0M135.2 132.4h0M130.1 144.3h0M135.9 140.0h0M120.8 133.8h0M128.0 141.0h0M137.5 141.2h0M141.6 141.1h0M137.9 142.0h0M138.3 141.6h0M127.5 140.9h0M123.5 137.4h0M126.6 140.7h0M137.8 135.9h0M129.4 143.4h0M133.6 141.9h0M135.1 138.2h0M127.3 139.1h0M123.8 133.4h0M113.2 139.8h0M124.9 133.6h0M134.5 137.2h0M133.0 139.3h0M125.2 143.2h0M132.8 144.2h0M120.2 138.6h0M112.7 136.3h0M118.9 137.5h0M127.7 144.2h0M121.2 134.1h0M127.9 139.9h0M145.1 140.3h0M141.5 142.4h0M125.7 134.3h0M126.5 137.8h0M129.4 143.9h0M131.4 142.1h0M131.4 143.1h0M128.3 140.4h0M110.9 135.4h0M131.8 143.5h0M129.3 144.2h0M135.7 139.1h0M112.8 139.7h0M113.8 133.5h0M105.1 133.7h0M120.4 142.0h0M145.7 138.3h0M132.3 142.0h0M148.7 133.0h0M143.7 138.6h0M128.9 143.1h0M120.2 133.2h0M146.6 135.7h0M135.5 138.8h0M122.1 141.8h0M134.6 143.8h0M126.9 141.8h0M133.5 138.1h0M142.3 134.4h0M137.2 138.7h0M147.4 136.8h0M120.1 140.8h0M130.9 142.8h0M107.9 134.0h0M134.1 137.4h0M131.3 142.3h0M132.0 141.4h0M147.1 134.6h0M134.5 136.4h0M143.3 138.5h0M118.6 133.7h0M127.6 141.6h0M134.1 136.2h0M110.9 138.4h0M124.3 137.2h0M130.8 143.7h0M144.0 139.2h0M122.9 137.5h0M122.1 141.9h0M131.1 143.6h0M123.0 139.0h0M132.1 144.1h0M115.9 134.3h0M131.0 143.3h0M150.3 137.8h0M140.9 143.0h0M130.2 144.3h0M139.2 143.2h0M143.9 134.0h0M138.6 134.8h0M126.1 140.0h0M138.4 138.7h0M122.4 138.8h0M122.0 136.1h0M121.2 143.5h0M121.5 138.9h0M144.6 137.4h0M125.1 139.6h0M114.1 140.9h0M139.8 138.4h0M121.1 137.2h0M124.2 142.3h0M143.7 140.5h0M135.7 133.8h0M131.7 142.0h0M130.1 144.4h0M144.3 137.2h0M130.3 144.2h0M122.0 132.4h0M127.2 138.2h0M141.5 142.1h0M131.6 143.9h0M123.8 133.6h0M131.4 143.6h0M129.6 144.4h0M130.5 143.7h0M119.1 142.5h0M124.8 135.1h0M122.5 139.4h0M121.1 134.3h0M116.8 139.6h0M129.7 144.2h0M144.7 132.4h0M123.8 139.7h0M136.5 138.9h0M139.9 136.7h0M121.0 141.5h0M142.9 140.9h0M127.2 144.3h0M134.2 143.7h0M133.0 137.8h0M123.2 141.3h0M135.0 140.6h0M132.0 142.3h0M128.2 142.3h0M133.2 140.2h0M134.7 133.8h0M127.5 139.4h0M119.4 141.4h0M132.2 141.4h0M133.2 139.4h0M136.9 140.8h0M131.6 142.5h0M131.9 140.4h0M118.3 139.3h0M122.6 136.8h0M142.9 140.4h0M105.8 132.8h0M153.8 136.5h0M99.5 132.8h0M160.2 134.8h0M93.4 137.6h0M153.1 139.0h0M155.8 140.2h0M156.5 134.2h0M152.9 139.4h0M106.9 136.6h0M154.0 134.8h0M105.5 134.2h0M107.1 137.9h0M105.1 133.2h0M155.2 138.3h0M158.5 139.0h0M154.6 136.7h0M154.3 133.9h0M174.9 135.9h0M106.1 134.7h0M160.0 133.0h0M93.7 137.7h0M104.8 137.0h0M154.5 139.7h0M155.4 133.8h0M155.2 138.0h0M103.8 134.3h0M104.6 137.1h0M157.5 140.3h0M106.4 140.9h0M101.3 137.3h0M153.9 135.4h0M156.0 133.1h0M106.9 138.2h0M102.3 137.0h0M98.1 137.3h0M105.8 138.6h0M106.7 139.0h0M160.1 134.3h0M93.1 140.2h0" stroke="#228b22" stroke-width="1.8" stroke-linecap="round" fill="none"/>
<path d="M116.6 128.5h0M110.0 129.6h0M113.9 126.4h0M123.2 124.1h0M108.2 131.0h0M116.6 101.9h0M115.9 101.4h0M111.6 120.9h0M121.5 118.4h0M117.2 131.3h0M117.2 126.7h0M120.2 106.2h0M115.0 117.9h0M119.5 130.0h0M115.3 128.1h0M110.1 124.3h0M113.8 119.8h0M119.9 112.9h0M124.3 130.7h0M117.0 125.2h0M122.2 129.0h0M121.8 120.3h0M118.6 115.7h0M121.7 129.8h0M121.0 122.1h0M120.8 122.2h0M123.5 129.6h0M121.3 127.0h0M121.9 111.8h0M121.9 110.2h0M121.3 132.3h0M115.4 113.3h0M88.0 131.9h0M118.6 125.0h0M111.0 123.4h0M117.2 120.5h0M121.7 129.7h0M123.2 129.3h0M120.1 124.7h0M116.7 131.5h0M108.8 128.8h0M117.2 132.3h0M121.1 104.0h0M120.5 110.4h0M108.0 129.1h0M120.4 125.9h0M121.7 115.0h0M112.8 110.0h0M121.5 128.5h0M110.6 120.9h0M117.2 125.6h0M112.1 119.9h0M122.2 130.7h0M116.4 127.6h0M123.9 123.8h0M103.2 129.9h0M118.1 130.4h0M112.2 130.7h0M109.1 130.5h0M111.1 130.0h0M109.0 126.3h0M114.3 128.3h0M109.6 126.4h0M116.0 129.9h0M122.9 127.8h0M122.1 127.9h0M121.9 126.8h0M118.1 127.7h0M117.9 117.2h0M114.3 130.5h0M108.3 129.0h0M110.3 127.8h0M118.3 130.4h0M116.4 126.6h0M117.2 126.1h0M119.4 131.6h0M122.9 118.4h0M122.7 131.2h0M103.4 128.2h0M110.2 129.7h0M123.4 131.9h0M116.2 128.6h0M117.7 130.5h0M120.8 127.0h0M121.9 132.0h0M112.4 128.2h0M115.6 131.2h0M105.4 129.1h0M106.1 131.6h0M105.0 127.2h0M111.4 129.8h0M122.7 126.0h0M114.9 126.8h0M122.8 131.3h0M113.4 125.9h0M116.2 129.6h0M122.4 124.5h0M111.7 127.2h0M116.2 115.7h0M124.4 131.7h0M119.8 99.0h0M114.2 124.2h0M116.9 132.3h0M123.9 131.4h0M121.5 118.7h0M103.0 127.4h0M118.7 129.0h0M118.0 121.5h0M107.1 121.6h0M113.3 117.5h0M111.5 125.5h0M118.6 129.8h0M115.1 127.3h0M110.3 129.7h0M108.3 127.6h0M112.0 128.7h0M118.0 119.7h0M121.3 130.3h0M124.1 127.5h0M122.0 110.4h0M113.8 124.9h0M123.2 122.6h0M105.3 129.6h0M113.0 114.7h0M119.8 111.8h0M122.7 129.4h0M116.1 130.3h0M112.0 122.6h0M114.2 129.7h0M120.5 131.1h0M123.2 131.0h0M107.3 122.5h0M121.3 118.7h0M110.1 129.9h0M121.1 122.3h0M122.1 129.9h0M115.2 120.5h0M121.9 114.1h0M119.7 121.1h0M123.4 129.4h0M119.4 101.4h0M119.9 120.0h0M113.0 123.5h0M122.0 132.3h0M119.7 113.5h0M124.3 131.2h0M116.8 131.9h0M121.8 128.1h0M122.1 119.8h0M117.9 126.6h0M123.4 129.1h0M117.5 128.6h0M117.1 128.6h0M118.8 132.2h0M105.0 126.5h0M116.8 130.9h0M117.2 110.1h0M111.3 125.0h0M113.8 115.0h0M116.9 130.1h0M103.7 129.4h0M102.6 129.5h0M97.9 129.9h0M114.1 130.7h0M121.6 123.6h0M122.2 129.0h0M107.8 126.5h0M121.2 121.9h0M121.4 132.2h0M119.1 125.5h0M118.5 130.1h0M119.6 130.1h0M117.6 125.2h0M117.9 114.5h0M119.4 126.8h0M115.8 108.2h0M115.9 130.7h0M120.2 131.3h0M107.0 127.5h0M115.8 123.0h0M107.6 128.4h0M119.9 121.4h0M117.1 119.7h0M108.2 129.3h0M121.4 128.1h0M111.4 132.0h0M119.1 114.1h0M117.4 127.2h0M115.3 128.8h0M122.3 121.4h0M112.0 130.8h0M118.3 125.8h0M118.9 113.5h0M116.3 125.7h0M121.7 132.2h0M118.3 128.7h0M121.8 131.3h0M113.8 108.3h0M113.6 111.1h0M107.2 129.9h0M119.6 132.0h0M122.3 121.9h0M112.5 120.0h0M120.9 117.8h0M116.4 124.3h0M118.8 128.8h0M117.6 120.4h0M123.3 126.2h0M120.1 119.4h0M117.1 126.1h0M113.6 128.1h0M117.2 128.7h0M122.6 117.4h0M108.4 128.7h0M124.1 130.9h0M116.2 118.4h0M123.7 131.9h0M109.0 120.3h0M122.3 132.0h0M115.0 127.3h0M109.5 129.6h0M120.9 101.2h0M118.0 131.9h0M116.2 129.9h0M115.2 128.2h0M119.8 129.2h0M117.9 125.7h0M114.5 131.3h0M118.1 125.2h0M117.3 130.6h0M119.9 128.3h0M122.1 131.2h0M110.1 119.8h0M121.5 130.2h0M112.2 123.9h0M117.4 130.7h0M118.4 121.1h0M120.6 103.4h0M108.0 127.6h0M116.5 115.9h0M122.3 128.7h0M111.0 130.2h0M123.0 132.1h0M119.2 132.1h0M116.3 115.2h0M119.9 114.3h0M121.1 132.1h0M122.8 124.3h0M120.9 121.7h0M116.6 123.9h0M121.6 117.8h0M123.7 132.0h0M118.8 115.3h0M120.1 120.8h0M114.4 129.6h0M123.9 131.6h0M102.8 128.3h0M123.7 126.6h0M106.1 125.9h0M120.4 130.7h0M124.1 132.2h0M123.6 130.0h0M123.0 127.4h0M112.6 128.0h0M111.2 119.6h0M122.2 125.8h0M121.9 131.0h0M121.8 117.4h0M124.3 131.3h0M118.8 130.0h0M114.0 108.5h0M117.5 128.7h0M113.4 123.9h0M122.1 124.2h0M121.8 128.2h0M121.4 131.0h0M123.5 122.1h0M105.6 130.3h0M99.9 127.2h0M115.3 125.8h0M114.6 107.1h0M121.8 130.0h0M114.2 126.6h0M122.6 113.9h0M120.4 114.2h0M123.9 129.4h0M121.9 124.9h0M119.3 120.5h0M124.0 129.9h0M118.9 130.1h0M119.3 131.4h0M121.2 114.4h0M109.2 127.4h0M112.5 125.0h0M122.2 129.1h0M122.1 123.8h0M109.2 128.7h0M121.5 124.4h0M112.4 125.8h0M115.4 129.9h0M113.1 130.8h0M100.1 130.4h0M114.9 130.5h0M113.7 130.1h0M110.0 127.0h0M121.1 112.8h0M117.9 130.0h0M122.0 128.1h0M122.8 127.1h0M120.0 129.1h0M115.1 125.3h0M123.5 128.6h0M121.8 128.9h0M113.4 131.1h0M120.2 121.6h0M117.4 127.1h0M120.3 131.7h0M113.8 130.1h0M123.4 123.9h0M116.1 125.1h0M113.1 116.6h0M118.0 131.2h0M123.6 131.0h0M122.0 118.4h0M122.2 127.0h0M119.8 123.0h0M121.8 130.6h0M123.0 117.0h0M118.7 131.3h0M124.2 129.5h0M123.0 122.7h0M123.5 128.2h0M120.1 123.5h0M124.2 130.4h0M122.8 127.2h0M117.3 127.5h0M113.0 131.2h0M114.7 106.7h0M118.2 120.0h0M113.2 122.8h0M94.7 131.6h0M116.1 124.8h0M122.9 132.0h0M109.5 127.4h0M122.1 111.9h0M117.5 131.5h0M118.0 124.4h0M118.0 131.1h0M113.8 130.1h0M115.8 126.6h0M121.8 128.4h0M122.8 131.3h0M108.3 125.1h0M121.9 131.9h0M123.5 128.4h0M121.8 125.3h0M121.9 124.2h0M118.3 132.1h0M108.4 131.2h0M109.0 124.6h0M108.6 119.6h0M121.8 129.8h0M109.9 130.4h0M117.1 130.1h0M121.8 125.0h0M119.3 100.9h0M111.7 118.0h0M108.0 124.7h0M117.2 132.2h0M115.4 131.6h0M121.8 126.1h0M116.8 129.7h0M107.2 131.3h0M103.9 126.1h0M116.9 124.2h0M122.0 112.9h0M123.7 128.0h0M111.0 130.0h0M112.0 128.1h0M119.3 104.1h0M121.4 120.3h0M118.8 120.5h0M109.2 131.3h0M118.1 116.5h0M114.9 130.5h0M115.7 131.9h0M106.5 126.8h0M115.5 118.9h0M120.6 124.3h0M118.3 127.5h0M117.3 115.3h0M114.9 122.3h0M112.0 130.6h0M106.9 131.5h0M122.1 128.8h0M121.3 124.0h0M120.7 127.8h0M121.9 129.9h0M111.3 131.4h0M124.8 131.9h0M122.3 125.6h0M116.0 125.9h0M117.0 131.1h0M113.8 126.6h0M116.4 132.0h0M114.5 126.3h0M117.6 125.1h0M123.4 128.4h0M121.9 126.1h0M120.1 125.0h0M123.6 123.9h0M114.4 132.1h0M110.8 124.2h0M121.8 130.4h0M123.0 132.2h0M123.8 128.7h0M121.6 124.3h0M114.7 124.2h0M123.1 123.1h0M117.9 105.3h0M120.5 104.1h0M106.7 122.4h0M121.4 129.8h0M119.4 132.0h0M117.2 126.9h0M123.2 131.7h0M100.5 129.1h0M118.9 131.8h0M112.9 110.7h0M118.4 125.4h0M115.5 108.3h0M117.0 99.9h0M122.8 122.4h0M91.4 131.7h0M114.2 123.0h0M116.9 131.7h0M120.0 122.1h0M121.3 130.5h0M115.6 130.0h0M124.3 128.4h0M106.8 122.1h0M118.5 116.2h0M111.8 127.1h0M116.0 131.4h0M113.5 115.7h0M122.7 123.0h0M120.2 125.4h0M119.6 124.8h0M124.6 131.7h0M116.4 125.0h0M118.2 131.9h0M109.7 131.3h0M121.1 130.6h0M124.3 132.1h0M113.5 128.2h0M118.6 123.6h0M115.4 109.1h0M102.4 132.1h0M121.5 122.6h0M118.4 130.2h0M104.8 127.6h0M122.8 129.4h0M115.7 124.7h0M118.9 128.9h0M122.4 113.1h0M120.2 120.7h0M121.6 125.1h0M109.4 129.1h0M118.6 124.7h0M113.4 123.3h0M122.0 110.8h0M102.1 128.1h0M115.8 105.2h0M117.7 120.2h0M116.5 131.0h0M123.0 123.5h0M123.3 132.2h0M110.4 115.6h0M115.0 132.0h0M123.5 127.6h0M111.4 121.2h0M122.7 123.2h0M117.6 106.4h0M104.4 131.8h0M116.4 121.9h0M116.6 122.5h0M114.8 125.7h0M119.2 127.2h0M122.2 128.3h0M122.2 112.8h0M109.6 128.7h0M112.4 124.2h0M111.3 129.2h0M112.7 128.3h0M114.8 119.0h0M124.2 127.8h0M121.1 117.4h0M116.0 122.1h0M115.2 127.1h0M121.7 130.7h0M123.0 127.7h0M110.4 117.6h0M120.3 120.8h0M110.5 131.7h0M115.2 103.4h0M115.9 130.3h0M103.5 126.7h0M115.5 132.1h0M119.1 128.1h0M121.0 129.6h0M121.6 129.6h0M118.0 131.9h0M113.0 107.1h0M117.6 112.8h0M122.0 131.1h0M121.1 129.4h0M124.0 130.4h0M109.0 127.7h0M116.2 132.0h0M119.2 132.2h0M110.0 124.7h0M120.3 131.7h0M123.1 127.4h0M120.1 129.7h0M102.0 132.1h0M122.7 127.7h0M119.5 122.7h0M112.7 121.3h0M117.8 109.1h0M123.7 131.9h0M118.3 118.0h0M119.6 122.9h0M118.0 129.8h0M113.8 105.2h0M120.6 132.0h0M106.4 123.9h0M115.9 128.9h0M122.6 125.9h0M113.2 131.0h0M112.4 131.0h0M113.9 114.4h0M110.8 121.3h0M119.9 130.4h0M118.5 122.6h0M111.1 128.9h0M119.9 109.9h0M110.3 125.9h0M114.1 115.9h0M112.2 126.7h0M121.3 127.0h0M114.1 106.6h0M118.4 121.6h0M109.7 132.0h0M122.3 129.9h0M116.2 123.1h0M114.3 126.5h0M124.1 129.1h0M105.1 128.8h0M116.2 126.0h0M120.6 101.2h0M145.9 130.5h0M152.4 130.3h0M137.3 126.5h0M155.3 127.9h0M159.8 125.6h0M147.1 126.5h0M148.3 131.9h0M139.0 130.3h0M138.2 129.8h0M140.9 125.7h0M152.0 123.6h0M152.0 129.8h0M144.8 131.6h0M152.9 124.7h0M138.0 123.6h0M156.8 125.7h0M136.2 127.5h0M141.8 108.5h0M157.5 125.0h0M141.9 128.7h0M158.5 126.4h0M140.2 125.5h0M137.6 126.1h0M151.8 127.8h0M150.9 130.6h0M137.9 129.6h0M158.8 129.5h0M148.7 120.8h0M142.8 118.4h0M149.8 129.7h0M136.2 129.3h0M137.3 132.2h0M144.6 118.0h0M146.9 132.0h0M159.8 128.7h0M142.3 123.6h0M135.5 130.3h0M147.4 132.0h0M154.5 132.1h0M143.9 130.3h0M139.7 129.8h0M142.6 128.2h0M157.9 128.6h0M146.6 121.5h0M140.3 132.2h0M150.5 130.1h0M142.0 131.4h0M150.0 129.9h0M150.3 126.1h0M149.7 122.9h0M138.0 125.7h0M150.4 131.6h0M148.5 129.7h0M151.4 116.8h0M146.3 130.1h0M138.1 132.3h0M153.1 127.5h0M166.4 129.8h0M155.8 132.2h0M149.2 128.3h0M136.4 127.6h0M137.1 131.3h0M148.1 132.0h0M158.1 128.8h0M153.3 129.7h0M148.1 130.9h0M141.4 129.7h0M137.1 122.2h0M145.6 131.1h0M143.6 131.5h0M162.4 131.0h0M149.3 129.3h0M135.9 132.0h0M136.6 129.8h0M160.0 130.9h0M146.1 129.9h0M140.2 127.1h0M160.4 131.2h0M150.8 131.5h0M138.7 125.5h0M144.4 120.7h0M138.3 130.2h0M139.4 116.8h0M144.4 129.3h0M141.2 127.1h0M145.5 132.2h0M140.9 125.4h0M137.4 124.7h0M135.6 131.9h0M141.1 127.6h0M148.3 129.8h0M143.5 132.0h0M144.1 131.8h0M139.9 130.9h0M152.8 130.5h0M144.6 124.8h0M143.4 131.1h0M140.0 130.4h0M140.6 130.4h0M136.0 131.9h0M147.4 125.1h0M144.5 130.6h0M139.3 118.9h0M137.5 119.9h0M146.4 131.8h0M138.7 130.6h0M144.6 129.7h0M144.4 130.8h0M141.3 126.8h0M154.0 129.8h0M138.3 127.3h0M150.3 122.5h0M154.8 128.8h0M139.2 122.2h0M143.5 121.2h0M147.4 132.0h0M143.0 132.1h0M155.3 126.8h0M142.8 127.4h0M146.2 121.5h0M156.6 127.5h0M154.1 122.0h0M138.0 127.5h0M149.1 131.4h0M141.5 128.0h0M149.1 130.2h0M141.8 126.7h0M136.3 131.4h0M155.1 126.8h0M150.4 131.2h0M142.3 130.0h0M144.2 128.5h0M137.1 124.8h0M138.7 128.7h0M141.1 132.0h0M140.7 131.8h0M144.8 131.5h0M137.1 127.1h0M135.5 131.9h0M147.7 130.8h0M136.9 127.8h0M149.5 126.1h0M141.1 130.3h0M147.4 129.2h0M141.1 130.8h0M154.1 129.7h0M152.1 128.0h0M150.8 125.7h0M151.3 127.3h0M145.4 113.2h0M151.5 127.5h0M141.3 130.6h0M144.5 132.1h0M151.9 129.2h0M139.9 119.1h0M152.4 127.2h0M145.0 130.6h0M153.1 131.8h0M138.4 125.0h0M146.7 126.7h0M141.2 128.1h0M142.5 128.2h0M143.2 128.7h0M147.4 122.0h0M140.4 113.3h0M143.9 121.1h0M143.9 128.9h0M144.5 118.8h0M138.4 124.6h0M151.0 129.6h0M142.9 127.4h0M147.1 126.7h0M152.7 131.5h0M154.9 130.2h0M144.9 130.8h0M137.3 128.1h0M136.2 125.5h0M137.5 130.1h0M137.9 132.2h0M136.4 131.4h0M136.2 130.0h0M140.3 131.6h0M135.9 129.5h0M145.7 130.2h0M155.3 125.4h0M149.0 120.7h0M143.2 128.9h0M149.2 127.9h0M151.7 130.4h0M145.6 119.3h0M141.5 131.4h0M142.8 116.4h0M151.5 129.9h0M142.3 127.2h0M145.6 121.2h0M143.1 131.4h0M136.9 129.3h0M141.2 126.3h0M155.5 127.7h0M142.2 121.3h0M148.7 124.9h0M138.2 125.1h0M143.4 125.3h0M142.5 130.4h0M153.8 130.6h0M145.5 129.5h0M141.6 129.5h0M150.0 130.8h0M140.6 117.8h0M157.4 130.8h0M144.3 128.2h0M135.6 131.5h0M137.6 127.9h0M139.7 131.8h0M135.3 131.6h0M144.9 125.7h0M135.9 131.9h0M140.9 125.7h0M143.4 122.7h0M141.4 127.5h0M138.5 130.8h0M145.3 130.7h0M138.7 131.2h0M154.1 131.5h0M137.5 124.2h0M137.5 131.8h0M146.9 129.3h0M138.2 128.8h0M143.8 129.0h0M136.0 132.0h0M142.6 130.6h0M143.1 130.0h0M141.0 131.6h0M147.4 127.8h0M139.7 127.1h0M143.5 125.9h0M144.8 117.9h0M160.2 131.7h0M146.1 124.0h0M145.0 127.7h0M144.0 129.9h0M146.9 129.8h0M135.4 131.5h0M136.7 130.9h0M140.3 128.0h0M136.7 127.5h0M149.1 127.1h0M141.5 131.7h0M143.6 130.6h0M144.4 129.1h0M149.8 130.6h0M141.6 130.4h0M158.3 124.8h0M141.0 118.7h0M141.6 125.0h0M141.3 114.3h0M139.9 131.6h0M149.3 127.0h0M148.0 123.8h0M153.0 128.4h0M136.3 131.3h0M138.3 130.7h0M137.3 123.4h0M146.8 131.4h0M152.6 126.2h0M146.8 131.5h0M162.2 127.0h0M149.8 129.3h0M145.6 108.9h0M138.2 126.0h0M149.8 115.8h0M151.1 117.6h0M144.5 131.7h0M143.1 132.3h0M140.9 129.5h0M146.5 125.8h0M139.2 124.1h0M145.9 130.4h0M155.5 130.2h0M146.6 125.7h0M140.1 131.6h0M146.2 131.0h0M139.6 128.0h0M142.5 123.6h0M143.1 121.0h0M147.7 130.2h0M137.2 129.9h0M140.5 130.1h0M139.1 131.1h0M144.7 131.4h0M142.9 130.2h0M138.6 129.5h0M152.9 129.2h0M157.1 130.1h0M146.8 125.2h0M140.0 131.5h0M137.9 115.8h0M145.5 121.2h0M136.8 127.0h0M144.8 129.7h0M137.3 132.1h0M139.2 130.7h0M143.5 126.3h0M138.3 129.2h0M159.7 129.0h0M151.0 131.4h0M145.9 130.0h0M146.2 128.1h0M151.7 129.1h0M141.4 129.1h0M151.5 128.7h0M135.7 127.9h0M148.2 126.8h0M157.1 126.1h0M149.7 129.8h0M145.4 127.9h0M142.6 129.7h0M150.6 130.3h0M138.5 131.1h0M143.8 132.0h0M150.4 130.2h0M136.9 130.7h0M137.4 131.5h0M143.1 121.9h0M143.5 131.5h0M135.9 129.3h0M145.3 125.2h0M138.6 130.9h0M155.3 127.0h0M138.9 129.2h0M152.2 119.2h0M142.7 128.8h0M156.3 131.1h0M144.0 128.9h0M164.5 131.3h0M144.6 130.0h0M141.4 126.9h0M147.0 132.2h0M140.5 119.4h0M142.4 131.5h0M138.9 126.0h0M136.3 130.2h0M139.1 131.9h0M148.6 128.4h0M154.2 131.7h0M157.1 131.4h0M137.0 129.0h0M141.6 127.7h0M144.7 130.9h0M135.6 130.6h0M138.8 120.3h0M139.2 123.1h0M144.3 124.1h0M155.1 128.7h0M146.8 117.2h0M143.7 131.3h0M145.5 124.9h0M154.0 129.9h0M135.9 127.2h0M141.6 131.9h0M139.5 122.6h0M146.1 131.9h0M141.5 124.8h0M158.5 127.1h0M138.9 130.9h0M154.1 120.7h0M146.3 129.3h0M146.2 125.4h0M145.5 131.4h0M156.2 129.2h0M139.1 131.0h0M149.6 131.3h0M151.9 122.5h0M149.5 128.3h0M137.5 126.7h0M155.6 128.0h0M143.5 132.3h0M141.7 126.9h0M141.6 125.8h0M149.3 129.5h0M143.7 130.4h0M151.8 130.8h0M178.2 128.5h0M151.7 130.7h0M145.6 116.2h0M161.0 121.2h0M157.4 111.1h0M180.0 123.0h0M154.2 122.5h0M149.3 126.0h0M188.1 114.6h0M141.8 113.6h0M156.8 109.8h0M158.5 109.3h0M167.9 116.6h0M158.9 119.8h0M150.6 112.5h0M147.9 118.6h0M150.3 115.2h0M146.6 122.4h0M150.3 122.1h0M142.1 119.0h0M145.2 131.3h0M154.1 115.5h0M160.8 118.8h0M158.3 119.7h0M155.1 108.5h0M161.9 129.0h0M158.1 109.6h0M145.9 114.9h0M163.8 117.9h0M140.8 115.9h0M140.3 129.5h0M140.4 124.2h0M139.7 111.7h0M143.5 105.1h0M147.6 116.0h0M145.6 112.1h0M146.3 119.9h0M156.7 122.6h0M144.7 106.5h0M142.0 106.7h0M142.7 110.7h0M140.7 118.5h0M142.6 116.3h0M164.8 111.6h0M156.7 128.6h0M148.7 104.8h0M155.6 121.7h0M147.1 103.8h0M152.1 124.7h0M141.1 123.0h0M157.9 114.7h0M153.5 116.0h0M143.2 130.6h0M163.4 131.3h0M162.1 130.4h0M146.4 110.8h0M162.0 121.9h0M143.5 128.0h0M145.4 113.0h0M139.5 106.0h0M145.0 111.2h0M188.9 121.1h0M142.2 126.9h0M139.3 114.5h0M114.9 116.1h0M105.9 120.0h0M113.0 118.3h0M116.6 115.5h0M111.3 125.5h0M94.8 117.8h0M116.4 130.4h0M111.6 124.1h0M106.5 114.1h0M113.3 125.4h0M108.1 128.8h0M106.7 115.0h0M110.1 126.7h0M113.4 118.7h0M114.7 125.3h0M110.6 125.1h0M110.5 109.9h0M107.9 114.0h0M112.3 115.5h0M116.4 116.5h0M106.7 110.7h0M112.8 108.0h0" stroke="#ff0000" stroke-width="1.8" stroke-linecap="round" fill="none"/>
<circle cx="190.9" cy="95.2" r="0.90" fill="#ff0000"/>
<circle cx="188.2" cy="99.1" r="0.90" fill="#ff0000"/>
<circle cx="192.7" cy="99.1" r="0.90" fill="#ff0000"/>
<circle cx="200.5" cy="99.8" r="0.90" fill="#ff0000"/>
<circle cx="200.5" cy="101.2" r="0.90" fill="#ff0000"/>
<circle cx="238.6" cy="108.9" r="0.90" fill="#ff0000"/>
<circle cx="253.4" cy="109.5" r="0.90" fill="#ff0000"/>
<circle cx="237.5" cy="116.8" r="0.90" fill="#ff0000"/>
<circle cx="249.5" cy="116.4" r="0.90" fill="#ff0000"/>
<circle cx="247.7" cy="121.4" r="0.90" fill="#ff0000"/>
<circle cx="194.3" cy="122.5" r="0.90" fill="#ff0000"/>
<circle cx="202.3" cy="122.0" r="0.90" fill="#ff0000"/>
<circle cx="226.1" cy="124.8" r="0.90" fill="#ff0000"/>
<circle cx="231.8" cy="125.2" r="0.90" fill="#ff0000"/>
<circle cx="223.2" cy="128.9" r="0.90" fill="#ff0000"/>
<circle cx="223.2" cy="130.5" r="0.90" fill="#ff0000"/>
<circle cx="186.4" cy="116.8" r="0.90" fill="#ff0000"/>
<circle cx="175.0" cy="130.9" r="0.90" fill="#ff0000"/>
<circle cx="177.3" cy="107.7" r="0.90" fill="#ff0000"/>
<circle cx="180.7" cy="105.0" r="0.90" fill="#ff0000"/>
<circle cx="179.0" cy="114.5" r="0.90" fill="#ff0000"/>
<circle cx="183.0" cy="132.7" r="0.90" fill="#228b22"/>
<circle cx="189.8" cy="137.3" r="0.90" fill="#228b22"/>
<circle cx="205.7" cy="133.2" r="0.90" fill="#228b22"/>
<circle cx="68.7" cy="141.2" r="0.90" fill="#228b22"/>
<circle cx="76.3" cy="136.4" r="0.90" fill="#228b22"/>
<circle cx="78.9" cy="136.4" r="0.90" fill="#228b22"/>
<circle cx="86.5" cy="136.9" r="0.90" fill="#228b22"/>
<circle cx="94.1" cy="139.4" r="0.90" fill="#228b22"/>
<circle cx="98.0" cy="140.7" r="0.90" fill="#228b22"/>
<circle cx="92.9" cy="116.5" r="0.90" fill="#ff0000"/>
<circle cx="95.4" cy="122.9" r="0.90" fill="#ff0000"/>
<circle cx="99.2" cy="125.4" r="0.90" fill="#ff0000"/>
<circle cx="103.0" cy="121.6" r="0.90" fill="#ff0000"/>
<path d="M48 20V160H274" stroke="#333333" stroke-width="1.25" fill="none"/>
<path d="M45.8 144.5H48" stroke="#333333" stroke-width="0.8"/>
<text transform="translate(44.00,148.50) scale(1.200,1)" font-size="10.5" text-anchor="end" fill="#4d4d4d">0</text>
<path d="M45.8 97.5H48" stroke="#333333" stroke-width="0.8"/>
<text transform="translate(44.00,101.50) scale(1.200,1)" font-size="10.5" text-anchor="end" fill="#4d4d4d">5</text>
<path d="M45.8 50.5H48" stroke="#333333" stroke-width="0.8"/>
<text transform="translate(44.00,54.50) scale(1.200,1)" font-size="10.5" text-anchor="end" fill="#4d4d4d">10</text>
<path d="M88.5 160V162.2" stroke="#333333" stroke-width="0.8"/>
<text transform="translate(88.50,170.20) scale(1.200,1)" font-size="10.5" text-anchor="middle" fill="#4d4d4d">−1</text>
<path d="M130.0 160V162.2" stroke="#333333" stroke-width="0.8"/>
<text transform="translate(130.00,170.20) scale(1.200,1)" font-size="10.5" text-anchor="middle" fill="#4d4d4d">0</text>
<path d="M171.5 160V162.2" stroke="#333333" stroke-width="0.8"/>
<text transform="translate(171.50,170.20) scale(1.200,1)" font-size="10.5" text-anchor="middle" fill="#4d4d4d">1</text>
<path d="M213.0 160V162.2" stroke="#333333" stroke-width="0.8"/>
<text transform="translate(213.00,170.20) scale(1.200,1)" font-size="10.5" text-anchor="middle" fill="#4d4d4d">2</text>
<path d="M254.5 160V162.2" stroke="#333333" stroke-width="0.8"/>
<text transform="translate(254.50,170.20) scale(1.200,1)" font-size="10.5" text-anchor="middle" fill="#4d4d4d">3</text>
<text x="113.3" y="180.7" font-size="10" fill="#000" textLength="99" lengthAdjust="spacingAndGlyphs">Log<tspan font-size="7.0" dy="2.2">2</tspan><tspan dy="-2.2"> fold change</tspan></text>
<text transform="translate(20.4,126.5) rotate(-90)" font-size="10.6" fill="#000" textLength="76" lengthAdjust="spacingAndGlyphs">−Log<tspan font-size="7.2" dy="2.4">10</tspan><tspan dy="-2.4" font-size="13.2"> (</tspan><tspan font-style="italic">p.value</tspan><tspan font-size="13.2">)</tspan></text>
<text x="55.5" y="26.7" font-size="8.9" font-weight="bold" fill="#000" textLength="35.5" lengthAdjust="spacingAndGlyphs">Females</text>
<text x="52.9" y="41.2" font-size="9.2" font-weight="bold" fill="#000" textLength="53.5" lengthAdjust="spacingAndGlyphs">5xFADvsWT</text>
<text x="224" y="190.8" font-size="4.3" fill="#222" textLength="49.6" lengthAdjust="spacingAndGlyphs">total = 3549 variables</text>
<path d="M222 47.2L227.3 44.9" stroke="#666" stroke-width="0.45"/>
<path d="M189.6 87L183.3 83" stroke="#666" stroke-width="0.45"/>
<path d="M179.4 88L177 90" stroke="#666" stroke-width="0.45"/>
<path d="M224.5 96L220.2 94.1" stroke="#666" stroke-width="0.45"/>
<text x="187" y="48.2" font-size="6.6" fill="#111" textLength="17.8" lengthAdjust="spacingAndGlyphs">Hexb</text>
<text x="208.6" y="49.8" font-size="6.6" fill="#111" textLength="13.4" lengthAdjust="spacingAndGlyphs">App</text>
<text x="224.5" y="43.9" font-size="6.6" fill="#111" textLength="17.9" lengthAdjust="spacingAndGlyphs">Apoe</text>
<text x="225.8" y="54.1" font-size="6.6" fill="#111" textLength="17.8" lengthAdjust="spacingAndGlyphs">Htra1</text>
<text x="150.7" y="65.5" font-size="6.6" fill="#111" textLength="15.3" lengthAdjust="spacingAndGlyphs">Cst3</text>
<text x="187" y="63.4" font-size="6.6" fill="#111" textLength="11" lengthAdjust="spacingAndGlyphs">Clu</text>
<text x="160.9" y="71.1" font-size="6.6" fill="#111" textLength="18.5" lengthAdjust="spacingAndGlyphs">Cnn3</text>
<text x="204.9" y="72.4" font-size="6.6" fill="#111" textLength="17" lengthAdjust="spacingAndGlyphs">Gfap</text>
<text x="153.2" y="81.3" font-size="6.6" fill="#111" textLength="22.4" lengthAdjust="spacingAndGlyphs">Spon1</text>
<text x="179.4" y="81.8" font-size="6.6" fill="#111" textLength="18.6" lengthAdjust="spacingAndGlyphs">Itm2b</text>
<text x="190.9" y="78.7" font-size="6.6" fill="#111" textLength="25.4" lengthAdjust="spacingAndGlyphs">Spock2</text>
<text x="219.4" y="78.7" font-size="6.6" fill="#111" textLength="27.5" lengthAdjust="spacingAndGlyphs">S100a6</text>
<text x="143.8" y="87.1" font-size="6.6" fill="#111" textLength="14" lengthAdjust="spacingAndGlyphs">Gsn</text>
<text x="171.8" y="88.9" font-size="6.6" fill="#111" textLength="17.8" lengthAdjust="spacingAndGlyphs">Nell2</text>
<text x="216.3" y="85.1" font-size="6.6" fill="#111" textLength="15.8" lengthAdjust="spacingAndGlyphs">Lcp1</text>
<text x="154.8" y="93.2" font-size="6.6" fill="#111" textLength="13.7" lengthAdjust="spacingAndGlyphs">Cd9</text>
<text x="192.2" y="91.4" font-size="6.6" fill="#111" textLength="14" lengthAdjust="spacingAndGlyphs">Grn</text>
<text x="142" y="99.1" font-size="6.6" fill="#111" textLength="19.6" lengthAdjust="spacingAndGlyphs">Acat2</text>
<text x="206.2" y="97.8" font-size="6.6" fill="#111" textLength="18.3" lengthAdjust="spacingAndGlyphs">C1qb</text>
<text x="110" y="90.2" font-size="6.6" fill="#111" textLength="17.6" lengthAdjust="spacingAndGlyphs">Gnaz</text>
<circle cx="192.7" cy="49" r="0.90" fill="#ff0000"/>
<circle cx="227.3" cy="44.9" r="0.90" fill="#ff0000"/>
<circle cx="229" cy="48.4" r="0.90" fill="#ff0000"/>
<circle cx="168.5" cy="62.3" r="0.90" fill="#ff0000"/>
<circle cx="198" cy="64.9" r="0.90" fill="#ff0000"/>
<circle cx="175.6" cy="72.5" r="0.90" fill="#ff0000"/>
<circle cx="208.2" cy="73.8" r="0.90" fill="#ff0000"/>
<circle cx="199.8" cy="79.6" r="0.90" fill="#ff0000"/>
<circle cx="217.6" cy="80.2" r="0.90" fill="#ff0000"/>
<circle cx="213.8" cy="86" r="0.90" fill="#ff0000"/>
<circle cx="170" cy="82.7" r="0.90" fill="#ff0000"/>
<circle cx="183.3" cy="82.7" r="0.90" fill="#ff0000"/>
<circle cx="159.1" cy="82.7" r="0.90" fill="#ff0000"/>
<circle cx="166" cy="87.8" r="0.90" fill="#ff0000"/>
<circle cx="164.2" cy="89" r="0.90" fill="#ff0000"/>
<circle cx="208.7" cy="90.3" r="0.90" fill="#ff0000"/>
<circle cx="170" cy="96.2" r="0.90" fill="#ff0000"/>
<circle cx="220.2" cy="94.1" r="0.90" fill="#ff0000"/>
<circle cx="117" cy="91" r="0.90" fill="#ff0000"/>
<path d="M450.2 122.9h0M453.8 136.6h0M463.1 129.5h0M451.8 138.0h0M460.5 119.5h0M457.3 136.8h0M449.1 119.9h0M456.9 131.7h0M454.9 138.5h0M451.3 137.3h0M450.7 133.0h0M455.1 140.4h0M458.2 122.0h0M444.6 120.8h0M449.0 136.3h0M446.9 134.7h0M455.2 139.8h0M448.5 130.8h0M448.2 130.7h0M457.0 132.3h0M463.3 122.7h0M442.2 126.4h0M448.2 127.5h0M455.8 140.1h0M453.9 129.3h0M461.9 122.1h0M460.4 120.4h0M453.3 124.4h0M465.1 130.2h0M471.7 121.6h0M461.1 129.1h0M451.5 126.3h0M464.5 124.0h0M456.8 136.7h0M459.6 134.9h0M454.5 134.3h0M456.2 136.8h0M461.5 120.5h0M447.5 123.8h0M461.9 134.1h0M449.0 122.1h0M458.3 128.4h0M447.0 120.1h0M447.5 128.9h0M455.5 140.5h0M455.1 138.0h0M452.1 132.6h0M443.3 128.7h0M453.2 137.0h0M452.4 137.8h0M450.7 122.6h0M456.6 136.1h0M456.2 138.0h0M458.7 137.1h0M467.0 128.2h0M449.2 135.8h0M455.6 140.5h0M451.3 120.8h0M455.8 139.5h0M453.3 129.1h0M468.0 126.8h0M457.2 134.9h0M448.4 123.8h0M455.4 140.1h0M452.0 138.9h0M460.3 135.3h0M461.3 133.6h0M458.8 134.9h0M459.7 121.6h0M460.2 131.3h0M453.3 128.4h0M459.7 120.6h0M455.6 140.3h0M468.5 121.3h0M448.4 121.6h0M455.7 139.5h0M452.7 133.1h0M466.1 132.0h0M453.8 133.4h0M453.0 124.0h0M457.0 134.1h0M459.7 127.1h0M447.8 127.1h0M450.8 128.9h0M444.3 128.9h0M461.6 125.2h0M461.5 119.6h0M439.6 119.8h0M452.9 131.1h0M454.7 140.2h0M455.1 139.9h0M469.9 126.9h0M449.3 132.6h0M458.2 135.7h0M451.7 129.1h0M458.7 130.2h0M458.1 130.1h0M458.9 135.1h0M468.0 127.8h0M446.6 129.5h0M465.2 120.4h0M441.5 127.1h0M455.5 140.7h0M448.7 129.3h0M460.8 119.8h0M454.3 138.0h0M467.0 120.4h0M457.7 125.7h0M454.6 134.9h0M449.8 126.1h0M455.0 140.1h0M454.2 132.3h0M464.3 128.7h0M463.3 129.5h0M456.1 138.5h0M439.5 123.9h0M462.5 131.5h0M448.2 134.9h0M451.9 130.3h0M458.5 136.2h0M451.1 135.8h0M464.3 128.3h0M459.8 138.1h0M446.9 120.5h0M459.8 133.4h0M449.5 132.7h0M456.2 135.2h0M453.2 130.6h0M457.4 134.3h0M461.9 124.4h0M464.4 129.4h0M453.3 133.4h0M458.8 123.6h0M459.2 130.3h0M450.2 131.0h0M463.4 127.3h0M460.2 126.8h0M467.0 121.8h0M454.7 138.5h0M456.3 137.6h0M461.3 134.8h0M453.6 133.4h0M463.9 121.3h0M456.0 138.6h0M439.8 120.8h0M453.3 127.0h0M456.0 137.1h0M448.3 124.8h0M461.1 125.6h0M449.5 130.5h0M456.6 139.8h0M451.5 135.2h0M462.6 132.1h0M463.5 135.2h0M450.8 137.0h0M458.6 123.1h0M454.2 131.0h0M469.4 126.4h0M447.8 132.3h0M446.2 128.7h0M450.7 127.4h0M459.0 124.6h0M446.7 125.5h0M462.4 122.7h0M458.5 129.6h0M459.1 133.8h0M447.3 127.0h0M450.6 127.1h0M450.7 133.3h0M453.3 130.2h0M446.7 124.0h0M467.9 120.6h0M459.9 132.1h0M463.1 126.2h0M460.4 125.1h0M453.7 133.1h0M445.2 131.9h0M447.2 119.6h0M456.9 137.5h0M450.9 132.3h0M451.9 138.2h0M452.8 134.4h0M452.6 123.6h0M459.0 121.1h0M451.1 137.1h0M458.4 128.9h0M455.2 139.0h0M437.5 119.9h0M457.7 135.9h0M460.3 121.6h0M455.6 140.5h0M461.4 122.6h0M458.8 138.7h0M457.3 134.3h0M452.2 123.8h0M449.8 128.0h0M466.6 123.9h0M463.4 120.3h0M460.4 135.7h0M448.4 130.7h0M448.7 133.5h0M466.1 121.8h0M455.2 138.5h0M457.6 135.0h0M466.2 127.0h0M445.2 123.1h0M462.0 132.8h0M459.0 128.8h0M454.0 129.7h0M461.6 122.3h0M456.9 131.8h0M454.2 135.9h0M465.1 133.2h0M452.3 135.4h0M460.3 127.5h0M446.8 121.0h0M452.1 138.8h0M444.3 126.2h0M457.5 135.7h0M447.6 129.4h0M464.4 130.9h0M457.5 124.8h0M450.9 122.4h0M453.3 130.0h0M459.0 128.8h0M468.9 123.8h0M464.2 123.5h0M451.2 130.0h0M461.5 136.9h0M460.7 120.2h0M456.9 131.4h0M457.8 139.1h0M451.2 126.5h0M467.6 125.4h0M451.5 137.4h0M452.7 137.4h0M457.0 130.2h0M457.9 124.8h0M459.9 128.2h0M457.2 138.6h0M449.6 121.8h0M461.0 123.1h0M459.7 120.5h0M457.8 126.0h0M458.1 133.0h0M454.1 135.9h0M453.3 135.9h0M458.5 125.8h0M464.3 130.8h0M444.9 123.3h0M461.8 128.8h0M460.5 122.5h0M449.6 132.0h0M460.0 132.5h0M449.5 130.3h0M457.4 131.2h0M456.0 138.2h0M454.3 132.1h0M458.5 130.4h0M458.3 133.9h0M449.2 128.9h0M465.4 128.5h0M444.5 127.6h0M468.7 120.6h0M455.1 138.4h0M449.2 128.2h0M456.6 140.2h0M442.3 125.0h0M450.5 137.9h0M457.1 134.1h0M464.6 129.3h0M464.4 128.9h0M451.8 122.9h0M457.4 139.9h0M442.3 124.7h0M460.4 127.5h0M453.5 129.8h0M444.0 119.7h0M462.4 126.1h0M455.8 138.4h0M448.2 130.3h0M466.9 131.0h0M457.4 130.6h0M451.7 122.7h0M453.1 122.8h0M445.9 132.2h0M464.1 134.2h0M455.8 138.5h0M451.3 133.6h0M453.4 139.3h0M455.3 140.6h0M465.8 124.7h0M457.2 129.2h0M447.9 125.9h0M459.5 134.7h0M450.4 130.3h0M448.2 133.9h0M454.9 138.6h0M462.2 128.7h0M461.5 123.7h0M456.3 140.4h0M460.6 120.5h0M457.2 134.3h0M453.5 132.8h0M450.5 128.4h0M452.2 137.8h0M448.0 132.8h0M455.1 137.6h0M461.3 119.6h0M445.3 121.7h0M456.7 133.3h0M471.8 120.5h0M457.7 125.5h0M441.1 121.8h0M450.5 132.4h0M456.2 137.5h0M469.0 123.7h0M464.0 128.7h0M458.5 127.4h0M445.9 123.4h0M450.7 131.9h0M466.4 129.2h0M450.8 130.6h0M456.3 139.9h0M451.4 131.7h0M459.9 129.2h0M463.7 130.6h0M453.3 129.8h0M458.5 127.4h0M455.1 139.6h0M459.1 136.4h0M455.9 140.5h0M461.6 135.5h0M456.7 133.5h0M460.5 123.2h0M451.0 131.6h0M450.2 122.1h0M455.0 140.4h0M451.7 124.2h0M454.8 139.7h0M450.4 137.0h0M465.7 123.5h0M451.9 129.6h0M445.8 120.4h0M453.0 134.7h0M453.7 132.1h0M457.6 131.1h0M443.9 130.2h0M460.5 124.9h0M458.5 128.2h0M460.9 134.7h0M451.8 138.7h0M451.5 132.1h0M463.9 120.5h0M467.5 127.6h0M452.5 133.4h0M463.7 127.6h0M449.3 135.1h0M456.6 133.8h0M455.7 139.7h0M452.0 129.3h0M462.9 129.3h0M446.8 124.5h0M457.4 132.6h0M467.0 126.4h0M449.0 122.2h0M464.7 122.7h0M461.4 120.6h0M456.2 138.6h0M457.7 132.5h0M458.2 135.3h0M453.9 135.1h0M457.1 134.4h0M469.2 129.0h0M453.3 127.1h0M456.2 138.5h0M456.3 139.7h0M448.3 119.9h0M453.7 131.8h0M459.4 120.6h0M467.7 127.1h0M456.6 139.6h0M453.4 138.9h0M451.5 127.6h0M442.1 125.2h0M461.5 125.3h0M456.0 137.5h0M450.3 124.5h0M456.7 134.2h0M458.9 136.4h0M458.0 125.1h0M447.7 125.6h0M449.2 130.4h0M452.1 127.9h0M450.2 123.1h0M456.7 139.2h0M467.1 129.6h0M453.5 125.5h0M448.7 134.3h0M464.8 126.1h0M460.1 119.5h0M468.0 130.2h0M453.0 139.6h0M448.8 121.3h0M457.7 133.0h0M460.7 126.8h0M448.6 124.3h0M462.6 128.3h0M451.0 127.2h0M460.7 124.0h0M454.1 133.4h0M462.6 134.9h0M471.7 126.0h0M460.6 130.6h0M461.7 125.3h0M452.6 134.5h0M451.4 128.5h0M466.3 121.8h0M448.6 134.4h0M456.7 133.4h0M456.8 139.8h0M457.6 134.9h0M443.2 123.2h0M444.8 129.1h0M457.9 135.6h0M454.7 138.2h0M468.2 128.5h0M442.8 127.3h0M458.1 137.0h0M452.7 131.4h0M459.6 126.1h0M448.5 133.7h0M444.7 124.6h0M451.3 136.9h0M452.2 131.8h0M458.2 127.1h0M463.5 127.6h0M449.2 126.0h0M440.1 119.7h0M451.5 125.3h0M475.3 120.2h0M455.5 140.6h0M452.9 130.6h0M453.3 130.4h0M452.9 130.8h0M446.4 131.4h0M454.8 136.0h0M458.0 122.3h0M453.5 135.5h0M457.1 130.5h0M442.7 129.2h0M444.8 129.7h0M460.4 127.7h0M467.0 128.4h0M448.5 123.0h0M452.7 128.1h0M466.2 121.9h0M452.7 134.1h0M462.4 119.5h0M450.1 127.8h0M460.3 121.3h0M453.6 133.6h0M463.3 123.2h0M445.9 123.9h0M449.5 131.1h0M460.1 136.9h0M467.8 125.2h0M448.4 134.5h0M461.9 119.6h0M454.6 133.7h0M463.9 128.2h0M460.9 127.8h0M457.2 132.8h0M445.0 119.7h0M453.4 139.6h0M456.4 136.5h0M462.6 119.6h0M453.2 131.7h0M456.5 137.2h0M461.3 136.2h0M456.5 133.2h0M462.4 136.0h0M465.1 131.0h0M444.3 122.0h0M456.9 136.2h0M451.5 138.1h0M458.3 123.7h0M464.8 130.5h0M451.8 124.9h0M461.4 123.3h0M456.9 138.4h0M462.6 127.0h0M465.4 124.0h0M460.2 137.1h0M457.0 130.2h0M449.6 121.8h0M462.1 127.6h0M456.7 138.9h0M453.6 137.2h0M455.9 140.4h0M456.6 135.7h0M459.8 119.9h0M457.2 137.0h0M453.4 127.2h0M451.4 124.2h0M459.6 136.0h0M467.6 120.6h0M454.5 134.6h0M442.5 126.1h0M459.2 121.0h0M464.9 130.1h0M454.5 139.0h0M457.5 128.9h0M448.6 125.1h0M460.2 120.9h0M463.4 124.3h0M456.0 137.3h0M462.3 132.1h0M462.2 128.7h0M457.2 136.3h0M454.2 132.7h0M454.4 135.4h0M456.3 139.6h0M451.9 126.7h0M463.4 130.6h0M453.9 133.5h0M461.3 135.1h0M451.7 136.7h0M465.5 122.8h0M462.4 122.0h0M461.0 137.1h0M447.8 131.5h0M452.5 136.0h0M458.4 136.6h0M461.0 129.8h0M446.7 122.7h0M452.5 138.1h0M452.6 138.1h0M456.5 134.9h0M455.5 140.5h0M455.1 138.0h0M472.0 125.4h0M450.1 123.6h0M460.3 129.1h0M461.1 121.0h0M454.7 138.9h0M450.6 125.9h0M450.5 122.0h0M466.6 130.1h0M455.5 140.7h0M452.2 135.8h0M457.6 133.9h0M461.4 128.0h0M453.2 136.0h0M443.0 124.6h0M450.8 136.1h0M450.5 125.8h0M450.9 133.4h0M459.6 121.8h0M456.5 137.1h0M448.1 129.4h0M461.7 123.4h0M462.8 134.7h0M463.0 120.2h0M463.8 122.4h0M469.3 124.6h0M457.7 126.7h0M456.7 137.5h0M453.9 138.6h0M462.1 124.0h0M456.5 136.8h0M452.1 132.0h0M452.0 121.3h0M458.6 120.4h0M452.3 130.1h0M465.6 133.0h0M460.8 129.2h0M460.6 137.6h0M454.7 136.7h0M456.8 131.1h0M455.4 140.3h0M460.1 128.7h0M446.6 120.6h0M465.6 130.4h0M458.4 133.0h0M454.6 135.1h0M445.0 120.7h0M444.9 121.3h0M462.4 121.4h0M457.4 139.8h0M456.9 130.8h0M454.0 129.9h0M446.8 129.4h0M451.6 133.6h0M453.1 125.3h0M454.3 134.6h0M458.4 135.2h0M467.7 128.7h0M451.7 138.5h0M462.5 129.5h0M460.8 121.6h0M466.1 128.0h0M463.0 129.2h0M445.1 121.4h0M457.8 127.1h0M436.7 121.4h0M463.2 134.1h0M452.4 123.4h0M455.9 139.8h0M463.0 132.1h0M452.3 120.6h0M447.2 125.6h0M464.4 129.4h0M457.1 136.3h0M451.3 124.1h0M461.7 122.4h0M455.5 140.7h0M446.3 128.2h0M452.2 124.3h0M451.6 135.7h0M456.2 138.4h0M456.2 139.6h0M453.9 133.0h0M454.4 132.7h0M449.2 127.8h0M459.4 131.7h0M453.6 128.7h0M453.5 126.3h0M452.0 121.0h0M462.5 125.7h0M452.4 137.9h0M456.6 133.1h0M454.4 136.6h0M450.0 130.0h0M458.6 128.1h0M455.6 140.7h0M454.4 134.9h0M446.8 119.8h0M459.5 137.0h0M451.7 121.5h0M449.7 121.3h0M454.8 137.7h0M454.7 137.0h0M452.5 122.9h0M453.7 139.6h0M456.2 138.2h0M446.5 119.9h0M456.9 137.5h0M442.5 125.5h0M450.7 135.2h0M457.0 135.4h0M463.2 129.8h0M446.4 124.9h0M462.5 131.1h0M446.6 126.8h0M462.7 121.7h0M444.2 125.9h0M455.1 138.8h0M457.8 131.1h0M467.1 127.0h0M456.9 140.1h0M462.8 123.7h0M458.2 137.6h0M446.5 127.8h0M459.1 136.8h0M457.4 135.7h0M456.6 134.3h0M453.1 126.8h0M450.0 131.0h0M454.5 137.2h0M456.7 136.5h0M465.5 126.3h0M449.7 134.4h0M460.1 124.3h0M462.2 123.7h0M452.2 135.1h0M444.3 128.8h0M461.2 129.6h0M453.1 130.5h0M459.5 127.0h0M455.7 139.9h0M461.9 120.1h0M455.1 139.3h0M446.6 130.3h0M453.1 123.1h0M457.1 133.8h0M471.9 123.6h0M458.1 130.4h0M462.5 124.3h0M456.6 138.8h0M451.9 135.6h0M452.8 121.3h0M445.1 128.1h0M452.2 126.4h0M464.5 128.1h0M450.9 134.3h0M456.0 136.9h0M455.2 138.1h0M450.5 123.3h0M446.6 127.4h0M451.2 133.3h0M452.1 128.4h0M458.4 131.4h0M457.0 129.6h0M444.7 128.2h0M457.3 137.0h0M452.9 124.8h0M468.7 124.4h0M452.1 120.5h0M457.0 134.3h0M463.0 123.8h0M456.9 138.9h0M461.5 120.1h0M447.0 132.3h0M453.7 135.0h0M453.0 130.1h0M460.1 119.5h0M455.4 139.8h0M448.5 131.2h0M445.3 127.7h0M461.3 124.0h0M464.0 131.6h0M465.9 123.9h0M461.9 127.4h0M458.1 122.0h0M456.1 136.7h0M454.1 132.2h0M458.1 136.9h0M469.0 119.9h0M455.9 140.4h0M459.6 133.7h0M452.9 137.2h0M456.3 137.2h0M443.1 120.0h0M460.5 125.8h0M458.2 132.0h0M451.5 137.9h0M459.3 128.6h0M449.6 127.1h0M447.5 124.3h0M447.7 125.8h0M452.7 124.4h0M440.9 121.1h0M458.5 124.5h0M444.8 127.9h0M449.2 119.9h0M452.3 129.4h0M462.8 125.2h0M460.0 126.0h0M454.0 139.7h0M450.0 133.0h0M461.4 124.3h0M463.9 132.1h0M452.6 123.6h0M439.7 124.3h0M451.2 133.5h0M465.1 131.7h0M461.4 132.1h0M460.5 125.5h0M463.1 121.3h0M458.5 130.0h0M463.3 121.5h0M456.7 135.5h0M457.7 139.6h0M443.7 121.3h0M469.5 127.2h0M442.7 124.9h0M450.0 134.6h0M455.0 140.0h0M452.6 129.3h0M456.1 140.3h0M453.3 123.8h0M454.8 139.5h0M440.9 123.0h0M453.3 123.9h0M471.7 122.2h0M444.0 120.7h0M462.1 126.8h0M448.0 129.9h0M467.7 129.9h0M443.6 127.1h0M459.8 125.4h0M456.6 133.3h0M435.9 119.6h0M454.8 135.9h0M447.3 123.6h0M454.8 136.8h0M456.6 132.0h0M451.3 129.0h0M461.5 128.8h0M454.9 137.0h0M454.3 139.5h0M460.3 126.3h0M451.3 123.4h0M455.0 138.1h0M451.4 124.3h0M449.0 129.7h0M453.5 129.7h0M454.0 134.6h0M443.6 130.6h0M455.0 139.8h0M444.4 129.4h0M446.0 125.8h0M458.7 126.9h0M450.3 134.1h0M455.9 139.7h0M442.2 124.9h0M460.6 129.6h0M458.7 121.9h0M457.8 133.5h0M457.0 130.7h0M450.4 131.8h0M456.3 134.3h0M454.3 133.9h0M452.8 132.3h0M465.7 126.3h0M445.8 133.0h0M450.7 127.6h0M460.1 137.3h0M460.9 129.8h0M461.8 126.7h0M454.5 135.6h0M465.9 129.0h0M450.9 121.7h0M458.9 133.5h0M456.2 138.5h0M460.4 134.0h0M457.4 129.7h0M458.3 121.0h0M462.7 129.1h0M457.2 127.5h0M471.4 124.0h0M464.1 134.3h0M460.1 136.1h0M451.1 137.4h0M459.7 123.9h0M458.1 128.2h0M460.1 130.0h0M468.0 127.2h0M450.2 126.8h0M456.6 138.1h0M449.3 130.7h0M457.8 124.5h0M446.7 128.8h0M454.7 136.0h0M463.0 133.4h0M459.1 126.8h0M460.1 128.1h0M460.2 128.3h0M459.0 136.0h0M448.7 128.9h0M456.6 132.3h0M447.2 125.6h0M463.7 130.8h0M455.4 140.1h0M455.8 139.4h0M451.2 129.8h0M454.3 139.4h0M453.3 130.2h0M449.8 132.5h0M463.7 125.6h0M457.0 130.0h0M458.9 121.6h0M462.8 120.7h0M451.7 127.1h0M446.7 124.1h0M462.7 129.0h0M454.1 140.1h0M460.3 137.5h0M451.5 122.3h0M450.0 134.2h0M463.4 124.6h0M459.3 132.8h0M462.7 128.0h0M458.9 137.3h0M451.8 132.7h0M459.1 132.2h0M449.7 132.8h0M448.2 125.5h0M469.1 126.0h0M461.7 129.4h0M456.2 136.5h0M454.5 134.6h0M470.0 120.4h0M464.3 124.7h0M460.5 132.5h0M450.9 137.9h0M450.5 133.2h0M448.6 136.1h0M456.8 130.8h0M467.1 127.9h0M452.3 134.5h0M461.1 137.3h0M450.0 131.4h0M455.4 139.8h0M454.3 135.1h0M458.1 129.5h0M460.8 119.8h0M454.6 140.1h0M455.1 139.3h0M453.2 124.8h0M467.4 123.4h0M455.9 138.7h0M460.8 119.9h0M446.0 129.7h0M461.5 128.9h0M450.3 121.9h0M456.5 139.0h0M459.3 137.5h0M455.3 139.9h0M452.1 124.0h0M462.1 130.8h0M457.6 132.8h0M456.3 138.5h0M452.7 125.7h0M449.3 131.3h0M442.7 121.0h0M463.7 120.8h0M453.5 136.4h0M454.0 134.0h0M463.4 120.4h0M465.7 127.8h0M454.9 138.1h0M448.2 126.6h0M461.1 124.0h0M463.5 128.2h0M463.8 126.3h0M459.9 122.2h0M455.5 140.7h0M463.5 130.6h0M463.5 132.5h0M452.6 135.3h0M442.5 123.6h0M446.0 123.4h0M461.7 133.4h0M457.3 139.7h0M453.1 129.4h0M450.9 125.4h0M463.0 125.7h0M455.6 140.5h0M459.2 124.1h0M437.9 119.5h0M457.3 140.0h0M457.2 133.5h0M457.4 128.4h0M456.0 137.9h0M458.2 137.0h0M456.9 133.5h0M452.0 121.1h0M456.8 137.5h0M454.7 134.9h0M461.1 131.5h0M458.3 134.3h0M448.3 120.7h0M456.3 139.5h0M455.3 139.4h0M455.1 139.1h0M447.9 123.8h0M459.8 125.3h0M449.5 127.9h0M455.1 139.2h0M457.9 128.1h0M454.4 135.6h0M450.7 125.1h0M461.6 135.3h0M455.9 140.0h0M462.3 134.3h0M459.9 131.7h0M463.7 125.5h0M458.7 137.8h0M449.6 131.4h0M455.2 139.1h0M458.2 130.6h0M446.0 130.9h0M463.5 134.3h0M453.3 130.3h0M444.3 125.1h0M456.1 138.7h0M460.8 130.9h0M455.8 138.9h0M463.5 120.2h0M450.5 127.4h0M455.2 139.5h0M451.6 123.5h0M452.4 129.8h0M455.9 139.0h0M448.0 119.5h0M464.2 123.6h0M459.1 127.5h0M464.2 125.9h0M450.8 132.7h0M455.9 138.9h0M457.6 139.1h0M454.9 139.0h0M459.3 136.5h0M447.5 133.2h0M469.1 124.8h0M453.9 138.6h0M457.5 129.1h0M457.5 133.7h0M472.5 123.6h0M451.6 138.5h0M438.0 124.4h0M465.9 122.7h0M455.3 140.5h0M456.4 133.6h0M465.9 123.8h0M452.5 127.3h0M455.7 140.2h0M466.6 124.0h0M461.9 122.7h0M443.8 128.5h0M456.3 138.9h0M465.2 123.7h0M458.1 129.1h0M457.4 128.9h0M460.9 126.0h0M452.1 122.6h0M461.1 127.1h0M460.6 119.5h0M457.5 139.8h0M442.4 127.3h0M458.1 129.1h0M453.2 126.9h0M455.7 140.2h0M453.1 131.8h0M459.9 127.8h0M448.7 135.8h0M458.3 133.5h0M457.3 130.9h0M459.8 121.7h0M459.8 126.4h0M450.6 129.9h0M456.2 135.3h0M446.0 123.7h0M461.3 135.8h0M461.1 128.6h0M453.5 138.0h0M449.7 123.2h0M466.8 122.2h0M460.4 133.8h0M469.0 120.0h0M462.6 131.3h0M462.7 128.0h0M449.8 129.0h0M469.5 121.8h0M463.6 133.9h0M456.9 134.3h0M473.4 123.8h0M454.3 139.5h0M461.4 131.4h0M457.4 132.0h0M448.4 128.3h0M451.7 122.9h0M459.6 138.0h0M441.1 126.9h0M457.1 133.1h0M454.2 133.5h0M444.6 122.5h0M440.0 123.5h0M451.0 124.5h0M443.4 127.5h0M464.5 131.6h0M451.9 133.5h0M445.5 125.4h0M438.8 119.8h0M450.5 123.9h0M457.6 129.3h0M447.2 127.8h0M455.2 140.1h0M453.6 137.4h0M458.7 130.6h0M461.7 130.7h0M454.8 135.6h0M449.4 131.5h0M440.0 119.6h0M449.2 134.4h0M448.2 132.8h0M466.7 126.1h0M455.0 138.5h0M442.7 125.3h0M455.6 140.2h0M464.2 125.1h0M444.2 127.9h0M455.4 140.6h0M447.7 120.8h0M468.9 127.1h0M464.2 132.9h0M452.8 129.5h0M456.5 140.1h0M453.1 135.8h0M463.1 121.1h0M461.2 132.7h0M460.1 135.2h0M460.6 132.5h0M449.1 129.0h0M455.2 139.5h0M449.9 128.5h0M471.0 120.6h0M451.6 132.6h0M450.9 121.1h0M462.9 125.3h0M456.8 135.9h0M460.9 130.5h0M456.5 136.8h0M457.6 125.8h0M458.4 121.3h0M449.4 127.1h0M462.1 135.1h0M456.7 136.3h0M467.8 126.0h0M456.7 139.2h0M446.7 124.4h0M474.5 120.2h0M467.6 124.2h0M467.5 122.8h0M457.1 131.8h0M465.3 121.5h0M458.8 132.4h0M450.2 128.3h0M455.5 140.6h0M447.4 129.1h0M440.5 122.9h0M460.7 128.5h0M457.4 136.4h0M445.4 126.2h0M460.6 120.4h0M461.7 128.1h0M469.0 127.0h0M460.9 119.6h0M450.3 122.7h0M460.8 135.7h0M451.4 119.5h0M448.1 124.0h0M447.0 120.4h0M468.2 127.7h0M459.7 120.7h0M442.3 122.1h0M447.6 129.9h0M463.4 125.5h0M457.8 127.1h0M443.6 127.5h0M457.1 139.8h0M459.9 129.4h0M456.2 137.6h0M463.7 120.9h0M442.5 121.4h0M467.6 129.8h0M453.1 122.1h0M462.2 120.7h0M458.9 123.5h0M454.4 137.4h0M458.7 129.5h0M444.7 120.8h0M456.2 139.1h0M459.6 122.3h0M459.2 134.3h0M454.7 137.6h0M454.1 131.4h0M454.0 130.9h0M443.8 122.7h0M465.0 126.6h0M469.4 128.3h0M460.2 127.0h0M448.5 127.8h0M458.6 121.0h0M449.3 133.1h0M454.6 137.8h0M453.6 128.6h0M463.3 127.9h0M464.3 123.0h0M457.6 125.6h0M461.7 135.6h0M445.1 126.8h0M447.8 134.9h0M456.9 135.0h0M455.6 140.5h0M450.9 129.0h0M456.5 139.2h0M467.3 123.8h0M454.6 138.7h0M459.5 120.9h0M468.4 123.7h0M462.5 121.8h0M460.4 126.4h0M444.3 131.5h0M451.7 132.0h0M459.6 128.8h0M453.9 138.9h0M451.9 120.0h0M440.4 122.0h0M454.0 131.3h0M441.1 121.2h0M447.8 132.8h0M449.6 122.9h0M455.1 137.7h0M457.5 138.1h0M450.5 119.7h0M463.5 133.1h0M448.0 120.9h0M451.4 138.0h0M464.9 125.8h0M456.7 139.7h0M450.3 124.4h0M450.8 129.4h0M453.2 124.5h0M455.9 138.8h0M453.8 130.9h0M459.4 124.4h0M454.9 139.2h0M455.9 139.5h0M455.2 139.9h0M445.5 125.5h0M451.2 131.7h0M457.4 135.0h0M461.6 133.4h0M460.8 126.3h0M463.8 127.4h0M458.3 126.7h0M466.3 126.1h0M467.7 126.7h0M455.5 140.6h0M471.5 123.2h0M455.7 138.9h0M450.4 135.4h0M460.0 136.7h0M454.8 139.1h0M465.8 131.5h0M463.5 133.8h0M463.8 131.3h0M447.1 134.2h0M457.1 139.8h0M464.5 132.8h0M456.5 137.3h0M451.0 135.6h0M462.2 123.1h0M454.7 140.4h0M454.7 140.2h0M454.9 140.0h0M451.8 124.1h0M448.1 125.4h0M461.2 135.8h0M453.2 139.6h0M453.2 129.8h0M447.3 126.4h0M464.5 129.0h0M455.2 139.2h0M445.1 128.6h0M461.1 134.6h0M457.9 136.5h0M453.2 131.7h0M446.1 126.1h0M449.5 119.5h0M452.8 123.2h0M460.1 126.2h0M461.0 131.2h0M448.3 125.7h0M457.6 136.3h0M457.1 136.4h0M457.1 129.7h0M462.1 134.4h0M449.8 122.2h0M458.1 126.8h0M456.7 138.6h0M452.8 124.0h0M459.6 129.0h0M463.5 125.1h0M451.3 126.6h0M449.0 123.1h0M469.6 123.4h0M467.6 126.9h0M464.1 123.2h0M456.4 135.3h0M437.2 122.9h0M458.7 134.5h0M450.6 135.8h0M459.9 130.4h0M449.2 136.0h0M449.9 133.7h0M464.2 129.4h0M452.2 130.2h0M450.2 124.2h0M457.2 132.7h0M465.9 123.8h0M460.4 136.3h0M452.7 121.3h0M455.8 138.6h0M446.7 133.3h0M448.4 130.8h0M460.9 124.9h0M452.9 137.6h0M447.3 129.5h0M446.3 130.7h0M449.0 130.3h0M448.0 130.4h0M447.6 131.2h0M449.0 119.5h0M451.6 134.2h0M456.4 137.3h0M454.8 139.9h0M448.1 126.2h0M458.0 136.3h0M458.8 122.9h0M453.2 129.4h0M455.3 139.5h0M451.5 133.1h0M463.4 120.9h0M455.8 140.4h0M447.0 124.5h0M464.1 127.4h0M453.2 124.6h0M458.6 136.4h0M452.1 121.3h0M459.3 135.3h0M460.2 129.4h0M449.8 132.1h0M458.9 120.2h0M451.3 121.4h0M454.2 132.1h0M452.6 123.2h0M460.2 127.9h0M460.6 127.0h0M463.3 122.8h0M454.4 134.3h0M456.8 136.5h0M464.0 127.9h0M453.7 131.5h0M468.7 124.4h0M458.3 120.1h0M452.7 128.4h0M455.4 140.7h0M463.4 120.3h0M466.5 126.8h0M451.1 137.3h0M446.1 123.6h0M456.2 137.7h0M451.2 132.7h0M465.0 130.0h0M454.9 137.0h0M468.9 127.0h0M460.5 129.8h0M458.2 129.8h0M460.9 128.1h0M453.4 127.2h0M443.9 131.3h0M452.9 123.6h0M460.9 128.2h0M453.8 127.5h0M449.1 132.5h0M461.9 122.8h0M443.0 123.9h0M452.3 129.3h0M461.0 135.5h0M459.6 122.4h0M459.5 122.4h0M459.6 137.9h0M449.9 136.5h0M451.0 124.7h0M451.5 119.9h0M458.3 128.2h0M453.3 132.1h0M457.3 133.3h0M450.9 130.2h0M452.7 129.7h0M456.2 140.1h0M459.0 131.1h0M458.9 121.0h0M442.9 129.4h0M453.5 133.0h0M458.2 126.4h0M460.1 126.0h0M458.5 123.5h0M459.3 138.6h0M455.1 138.9h0M470.9 122.5h0M452.4 138.9h0M458.4 121.9h0M466.5 121.2h0M467.7 119.5h0M450.9 119.9h0M456.2 137.0h0M456.2 137.8h0M462.1 133.3h0M447.3 134.2h0M464.8 123.1h0M461.9 122.5h0M457.7 123.5h0M451.9 121.2h0M450.5 122.5h0M452.2 131.0h0M446.5 125.8h0M462.3 133.6h0M461.4 134.7h0M453.8 139.7h0M448.4 124.9h0M464.7 133.6h0M447.0 124.7h0M449.2 129.0h0M455.0 136.8h0M447.3 121.5h0M467.1 126.9h0M465.5 125.0h0M455.5 140.6h0M457.6 123.9h0M437.4 123.4h0M452.8 124.1h0M445.5 123.9h0M459.6 123.4h0M460.7 122.7h0M462.9 133.2h0M454.0 136.2h0M452.8 135.7h0M448.9 125.6h0M440.4 122.0h0M450.2 136.0h0M462.7 135.6h0M455.2 139.5h0M462.9 122.5h0M451.2 136.0h0M458.3 137.7h0M453.4 128.1h0M463.4 124.3h0M454.4 138.8h0M449.7 123.3h0M465.2 120.3h0M457.1 131.0h0M451.5 137.8h0M452.8 137.3h0M455.1 137.8h0M452.5 127.1h0M463.5 123.1h0M450.1 120.0h0M461.0 120.0h0M456.5 134.9h0M457.2 130.3h0M460.0 132.1h0M453.1 130.2h0M454.5 138.3h0M464.0 131.6h0M441.4 121.4h0M458.8 120.6h0M458.0 130.3h0M459.6 130.6h0M445.0 130.8h0M448.8 120.1h0M455.3 140.0h0M447.1 133.2h0M458.8 127.2h0M451.7 132.2h0M458.7 127.2h0M455.0 139.1h0M459.0 137.6h0M456.6 139.8h0M458.6 133.0h0M460.8 129.6h0M468.4 124.6h0M454.0 129.3h0M455.6 140.2h0M452.2 123.9h0M468.9 124.2h0M452.4 137.9h0M448.8 122.6h0M454.6 136.7h0M444.9 124.0h0M454.7 139.3h0M461.3 126.5h0M457.0 136.3h0M449.2 130.5h0M454.0 132.6h0M459.5 123.5h0M450.7 121.1h0M456.5 133.8h0M450.6 119.7h0M458.8 126.6h0M468.1 119.7h0M452.0 126.3h0M450.6 131.7h0M452.2 120.7h0M466.9 130.7h0M439.5 122.8h0M450.9 123.9h0M456.7 137.9h0M458.4 122.0h0M465.0 126.4h0M463.7 131.0h0M458.8 133.2h0M462.9 127.1h0M452.9 128.5h0M458.7 137.9h0M450.5 120.4h0M461.0 137.1h0M451.1 137.5h0M455.2 140.2h0M454.4 137.5h0M446.2 129.4h0M448.0 120.3h0M450.5 136.4h0M454.2 137.4h0M448.2 126.3h0M462.6 127.3h0M464.2 121.9h0M457.9 130.6h0M451.9 136.1h0M453.2 133.7h0M460.6 137.4h0M453.0 129.4h0M462.6 122.9h0M462.4 119.6h0M457.2 134.6h0M457.0 132.9h0M462.5 134.0h0M462.4 131.6h0M459.1 123.9h0M453.3 128.5h0M464.4 123.0h0M456.6 139.8h0M450.7 134.2h0M448.3 130.3h0M458.4 129.0h0M452.7 134.6h0M458.5 128.7h0M448.2 127.6h0M448.0 120.9h0M450.5 126.8h0M455.2 140.1h0M450.5 131.9h0M467.6 120.2h0M463.9 123.7h0M460.6 127.0h0M465.9 130.1h0M462.8 135.0h0M453.5 133.3h0M469.9 121.0h0M448.4 124.4h0M454.5 137.0h0M457.3 138.1h0M454.2 136.5h0M444.9 130.5h0M450.3 134.3h0M454.0 135.1h0M444.9 130.7h0M466.2 132.2h0M461.9 134.3h0M452.0 124.9h0M453.1 138.8h0M455.4 140.5h0M463.1 126.0h0M446.5 127.8h0M447.2 127.0h0M459.9 130.6h0M452.6 138.6h0M454.1 135.4h0M466.9 131.2h0M459.2 133.0h0M462.9 127.1h0M461.4 130.1h0M451.7 127.8h0M457.4 128.9h0M453.3 133.9h0M445.2 126.7h0M460.8 127.6h0M463.8 134.1h0M467.6 121.9h0M451.0 125.2h0M457.2 138.6h0M449.8 131.2h0M456.9 131.5h0M455.7 140.7h0M466.9 125.3h0M447.1 128.7h0M457.0 132.6h0M460.7 137.2h0M450.8 137.6h0M464.2 126.0h0M452.5 132.1h0M455.3 140.7h0M455.0 139.6h0M454.7 135.1h0M455.7 139.4h0M459.3 133.0h0M458.9 123.8h0M443.7 122.7h0M457.5 132.2h0M453.3 134.0h0M453.9 137.6h0M456.9 134.3h0M460.4 131.9h0M458.5 126.0h0M457.1 139.0h0M464.8 132.5h0M449.4 123.3h0M466.3 123.5h0M461.9 128.6h0M451.3 135.3h0M458.5 122.0h0M448.5 123.1h0M464.0 126.2h0M457.9 130.0h0M447.4 120.0h0M461.5 124.4h0M447.7 127.6h0M463.0 130.4h0M448.4 134.4h0M449.5 120.4h0M459.8 134.2h0M454.4 133.3h0M452.1 128.6h0M449.4 131.0h0M463.8 128.6h0M460.7 136.2h0M448.8 134.9h0M463.4 126.4h0M447.8 134.2h0M450.2 125.0h0M454.3 135.1h0M447.1 122.7h0M450.6 129.5h0M455.3 139.5h0M464.8 122.8h0M449.6 131.6h0M454.4 133.8h0M461.1 124.0h0M455.5 140.7h0M451.8 137.5h0M450.9 134.0h0M460.8 131.5h0M463.4 133.1h0M446.5 128.9h0M452.3 121.8h0M470.8 120.5h0M462.4 123.4h0M448.1 127.4h0M456.6 135.9h0M445.2 125.4h0M449.8 132.2h0M456.8 131.8h0M459.5 120.6h0M449.2 126.8h0M443.1 124.2h0M440.9 121.4h0M451.9 132.8h0M447.7 132.3h0M457.9 139.1h0M451.2 122.7h0M453.3 137.6h0M459.2 137.9h0M465.8 131.7h0M439.0 123.3h0M454.6 139.9h0M437.5 120.2h0M454.2 137.3h0M458.4 123.8h0M453.9 135.2h0M458.6 122.0h0M454.6 140.2h0M445.2 126.5h0M451.6 122.9h0M441.2 121.0h0M446.3 134.0h0M457.4 136.7h0M450.7 129.3h0M461.3 127.8h0M451.2 138.4h0M468.0 130.4h0M451.1 131.0h0M459.4 135.3h0M457.8 135.6h0M455.1 139.5h0M447.7 124.8h0M462.4 125.0h0M455.1 140.6h0M456.8 139.0h0M444.5 122.5h0M463.9 120.9h0M452.0 130.7h0M456.2 139.5h0M456.8 134.7h0M467.9 123.3h0M454.6 137.2h0M458.8 138.4h0M455.3 140.3h0M446.0 123.0h0M448.4 124.4h0M461.9 126.1h0M456.4 134.2h0M464.3 124.5h0M460.8 132.2h0M462.8 128.9h0M467.1 125.1h0M454.7 137.1h0M451.7 121.1h0M443.7 128.8h0M461.3 122.0h0M445.3 120.6h0M453.0 130.0h0M461.4 130.2h0M459.7 125.6h0M455.8 139.8h0M454.9 137.6h0M459.0 122.3h0M448.0 126.5h0M442.0 124.2h0M447.8 125.0h0M451.7 136.2h0M448.3 132.8h0M470.2 119.5h0M450.0 120.4h0M456.4 138.7h0M464.9 125.1h0M457.2 139.7h0M463.2 127.9h0M450.4 126.2h0M447.4 123.0h0M449.4 134.5h0M462.1 122.6h0M458.8 120.7h0M450.5 121.7h0M453.2 138.6h0M452.3 121.8h0M446.3 127.2h0M459.6 135.7h0M460.6 126.1h0M473.1 121.2h0M462.0 135.9h0M452.8 119.8h0M473.3 123.1h0M456.5 138.2h0M461.0 122.4h0M468.4 128.9h0M459.3 125.2h0M462.9 127.9h0M466.6 131.3h0M455.7 140.2h0M457.5 135.5h0M454.4 139.1h0M447.7 124.6h0M457.8 138.3h0M467.7 126.5h0M448.5 119.8h0M455.0 140.2h0M458.5 121.8h0M456.7 135.7h0M450.8 137.7h0M444.9 132.5h0M461.9 132.5h0M452.8 132.6h0M458.2 126.5h0M457.2 137.3h0M461.9 135.7h0M451.4 129.8h0M450.7 128.4h0M468.6 129.7h0M464.0 134.7h0M462.4 122.5h0M448.6 134.9h0M458.6 125.1h0M460.1 121.3h0M454.3 134.0h0M447.9 134.0h0M457.8 130.6h0M447.1 122.2h0M453.6 138.4h0M455.0 140.4h0M460.2 127.6h0M459.7 138.4h0M471.0 123.5h0M448.5 132.8h0M452.1 124.5h0M449.7 129.1h0M466.6 125.1h0M463.4 119.8h0M447.7 124.3h0M460.2 132.8h0M465.9 127.6h0M465.1 131.2h0M448.8 121.5h0M459.4 123.0h0M455.4 140.2h0M462.5 128.9h0M450.9 127.3h0M460.0 132.3h0M452.4 126.6h0M458.2 134.9h0M455.2 140.1h0M446.3 132.1h0M465.8 122.2h0M460.2 129.4h0M446.5 126.7h0M449.7 121.3h0M451.0 130.3h0M456.1 139.5h0M452.8 121.5h0M460.9 127.5h0M447.6 126.5h0M458.5 134.2h0M467.9 124.3h0M450.1 120.6h0M463.6 131.7h0M459.5 137.1h0M455.7 139.6h0M453.4 139.7h0M459.1 120.5h0M450.0 121.6h0M455.4 140.5h0M454.9 137.1h0M459.2 125.4h0M460.9 120.4h0M459.8 128.5h0M454.7 134.4h0M453.3 128.2h0M457.2 134.0h0M456.4 140.4h0M449.5 134.2h0M450.4 135.9h0M462.9 127.9h0M471.3 122.1h0M452.2 119.9h0M449.4 123.6h0M456.2 137.7h0M467.5 120.4h0M447.3 130.1h0M452.6 127.4h0M456.8 134.9h0M453.8 134.2h0M448.4 125.9h0M463.9 133.8h0M455.8 140.3h0M455.9 138.2h0M453.1 136.1h0M461.0 130.5h0M458.8 122.7h0M447.7 128.5h0M457.4 127.8h0M459.8 132.2h0M452.8 134.0h0M447.9 131.9h0M463.4 133.1h0M451.5 134.5h0M470.2 123.7h0M457.8 131.6h0M451.6 131.8h0M462.2 125.2h0M449.2 131.5h0M456.6 139.0h0M473.1 124.0h0M457.0 130.4h0M461.5 135.4h0M447.0 134.0h0M456.2 138.2h0M459.4 121.1h0M456.0 136.9h0M456.4 134.8h0M459.8 120.7h0M455.6 139.9h0M455.1 138.7h0M456.6 136.3h0M451.9 122.6h0M456.0 137.9h0M452.8 137.7h0M469.5 123.4h0M453.8 131.3h0M444.9 130.5h0M454.5 135.3h0M447.8 124.4h0M447.5 127.6h0M465.9 130.0h0M462.1 133.6h0M455.2 140.1h0M463.4 120.6h0M450.1 132.3h0M464.7 132.9h0M452.8 137.7h0M455.5 140.6h0M449.2 132.6h0M452.2 127.5h0M459.9 129.6h0M445.9 123.1h0M455.0 139.0h0M452.3 134.1h0M453.0 139.1h0M458.3 125.6h0M458.8 126.0h0M451.1 121.4h0M441.0 123.8h0M454.9 137.4h0M453.9 139.8h0M446.0 133.4h0M453.5 127.0h0M452.3 132.8h0M459.8 124.9h0M442.3 128.3h0M454.0 132.3h0M466.9 122.5h0M459.3 119.5h0M453.7 133.4h0M456.0 138.5h0M456.5 136.1h0M450.8 125.9h0M451.7 126.2h0M463.1 126.4h0M460.2 130.8h0M456.4 134.9h0M458.2 120.9h0M453.3 138.3h0M460.9 121.9h0M468.5 128.9h0M461.4 119.7h0M473.4 119.9h0M450.6 123.7h0M446.2 132.8h0M459.6 119.6h0M448.3 120.2h0M459.6 131.4h0M465.0 130.1h0M453.3 131.5h0M455.0 137.1h0M459.4 127.9h0M452.0 136.8h0M451.5 129.9h0M439.7 120.6h0M455.6 140.4h0M449.6 129.6h0M455.3 139.6h0M456.2 139.4h0M452.0 131.6h0M466.0 130.8h0M466.0 128.1h0M461.7 121.0h0M452.5 125.5h0M456.5 133.8h0M440.9 122.6h0M472.2 119.7h0M467.5 124.9h0M446.4 121.0h0M467.6 129.2h0M453.9 140.0h0M448.0 135.5h0M456.7 132.4h0M460.9 124.6h0M442.9 128.8h0M450.7 135.1h0M449.0 135.4h0M452.9 137.5h0M456.2 139.4h0M440.0 125.9h0M448.9 125.2h0M455.4 139.8h0M455.4 140.3h0M442.1 127.9h0M454.1 139.4h0M473.5 120.7h0M449.2 122.5h0M445.2 131.9h0M461.2 136.2h0M455.5 140.6h0M456.7 132.2h0M446.0 133.8h0M459.7 129.4h0M460.9 133.8h0M457.7 138.7h0M462.1 135.4h0M457.3 130.7h0M457.9 131.5h0M452.2 127.0h0M449.4 126.2h0M460.0 128.9h0M457.4 127.0h0M460.3 126.9h0M453.9 134.9h0M458.5 130.3h0M456.7 133.3h0M454.6 135.9h0M462.1 123.8h0M452.7 122.9h0M455.2 140.4h0M451.2 121.4h0M459.9 122.3h0M447.1 125.4h0M447.7 120.1h0M457.5 130.2h0M455.6 140.1h0M459.9 132.4h0M457.7 135.4h0M463.3 132.3h0M452.4 125.5h0M473.8 122.6h0M461.0 130.8h0M454.7 134.3h0M468.3 125.4h0M452.4 132.8h0M451.1 123.8h0M446.8 130.6h0M458.1 133.6h0M450.1 120.9h0M444.1 129.0h0M454.2 131.7h0M458.9 138.0h0M455.8 138.8h0M455.5 140.5h0M453.6 136.9h0M446.4 128.9h0M455.3 139.5h0M466.1 122.3h0M458.6 128.8h0M459.1 120.6h0M464.8 129.3h0M451.5 122.2h0M446.0 131.3h0M464.6 127.2h0M466.7 120.2h0M462.3 125.0h0M453.2 124.1h0M462.8 123.2h0M450.1 125.4h0M450.8 130.4h0M457.0 133.1h0M463.4 129.2h0M461.0 130.3h0M457.2 136.9h0M450.8 137.3h0M448.9 126.4h0M457.4 130.7h0M449.0 129.3h0M454.3 135.0h0M457.9 123.4h0M464.7 119.7h0M453.1 135.8h0M455.6 140.4h0M459.2 132.9h0M465.1 126.1h0M447.0 119.8h0M456.1 139.4h0M456.5 137.0h0M456.3 136.8h0M458.2 126.9h0M453.8 128.4h0M463.4 123.4h0M450.4 137.0h0M464.0 133.2h0M456.1 140.4h0M458.8 120.3h0M457.0 136.3h0M451.6 137.5h0M441.6 119.6h0M452.3 119.9h0M447.0 130.4h0M459.0 138.6h0M446.4 127.6h0M456.9 139.4h0M463.9 122.7h0M464.0 122.8h0M462.0 122.5h0M443.0 128.4h0M458.5 124.3h0M450.3 132.4h0M451.3 121.6h0M462.3 132.6h0M453.9 138.5h0M459.1 120.2h0M455.3 140.3h0M458.3 132.7h0M449.9 125.0h0M464.7 126.8h0M447.2 133.4h0M455.5 140.7h0M453.6 130.5h0M460.8 130.4h0M454.4 140.2h0M453.3 139.1h0M460.9 121.6h0M451.7 123.8h0M438.5 122.1h0M451.7 123.1h0M448.3 126.7h0M454.5 139.1h0M464.0 134.6h0M451.3 123.3h0M457.4 129.2h0M455.0 139.1h0M464.3 129.1h0M454.0 134.2h0M462.6 126.4h0M460.0 134.2h0M456.8 132.4h0M464.7 121.2h0M464.1 127.0h0M450.0 120.1h0M455.0 138.5h0M459.8 135.9h0M458.8 123.5h0M461.5 133.7h0M447.0 120.4h0M442.9 129.0h0M454.6 138.1h0M454.3 137.8h0M443.7 122.9h0M448.7 136.4h0M450.3 127.2h0M449.3 121.7h0M464.1 134.1h0M457.0 130.4h0M445.5 119.5h0M448.6 132.0h0M458.4 136.7h0M449.6 133.7h0M449.6 133.4h0M463.3 120.1h0M443.0 122.0h0M455.4 140.6h0M451.7 132.3h0M448.7 128.1h0M468.6 121.9h0M450.5 131.0h0M460.6 123.9h0M445.8 132.3h0M458.8 134.4h0M450.2 123.2h0M462.8 128.9h0M451.2 128.0h0M452.5 133.0h0M453.6 133.3h0M458.6 136.5h0M448.4 134.4h0M460.4 123.0h0M466.1 121.5h0M460.5 131.3h0M460.1 133.0h0M457.1 132.3h0M452.3 128.7h0M442.5 120.3h0M447.9 129.1h0M455.1 138.3h0M456.0 139.1h0M457.5 134.5h0M453.0 124.9h0M455.8 140.3h0M460.6 132.0h0M456.8 130.4h0M457.8 125.9h0M453.2 129.3h0M460.3 126.4h0M451.8 127.4h0M450.0 129.0h0M457.5 137.0h0M471.7 125.9h0M458.1 123.7h0M450.1 131.1h0M468.5 119.6h0M455.2 138.9h0M456.7 139.5h0M458.3 132.9h0M451.1 126.4h0M449.7 125.0h0M458.6 136.9h0M459.4 120.1h0M454.0 135.0h0M443.6 124.0h0M457.9 131.4h0M464.6 130.6h0M463.1 120.5h0M451.4 126.4h0M450.8 136.7h0M455.6 139.9h0M457.7 126.5h0M442.7 119.9h0M465.2 120.5h0M454.5 137.3h0M453.3 134.6h0M459.8 133.0h0M469.9 127.7h0M449.5 136.7h0M452.1 120.6h0M459.8 128.2h0M444.1 129.5h0M452.1 119.5h0M459.7 129.0h0M454.9 138.9h0M458.7 138.2h0M451.5 131.2h0M455.9 139.7h0M458.7 138.3h0M461.6 129.8h0M451.5 120.0h0M457.3 133.3h0M455.6 140.5h0M460.4 122.9h0M445.5 125.5h0M456.1 136.4h0M454.5 139.5h0M440.9 119.5h0M460.5 136.2h0M455.7 139.6h0M462.1 131.9h0M463.2 126.9h0M449.3 128.7h0M458.3 135.5h0M459.1 134.8h0M457.5 130.5h0M452.7 135.3h0M457.3 129.3h0M466.1 127.8h0M448.1 133.0h0M450.2 132.8h0M452.1 134.1h0M469.3 123.4h0M455.4 140.3h0M449.0 134.4h0M468.3 126.6h0M449.2 128.2h0M453.0 126.7h0M465.6 128.4h0M464.3 132.1h0M451.9 122.4h0M455.5 140.6h0M447.3 132.4h0M449.7 136.3h0M469.3 128.7h0M458.9 128.8h0M449.4 130.6h0M452.7 121.6h0M451.3 121.3h0M457.0 137.6h0M449.0 129.6h0M467.7 124.1h0M457.7 131.8h0M462.7 133.4h0M461.4 135.5h0M448.8 131.8h0M455.9 138.1h0M443.5 120.5h0M444.9 122.2h0M458.1 123.0h0M445.3 126.5h0M453.8 133.4h0M460.9 136.4h0M442.9 129.7h0M448.2 135.0h0M460.5 123.0h0M451.9 119.9h0M459.0 131.0h0M463.6 135.0h0M458.7 119.7h0M455.6 140.6h0M452.0 138.2h0M459.0 128.1h0M459.4 122.4h0M458.8 124.0h0M457.3 127.8h0M457.2 131.2h0M453.1 132.1h0M466.6 130.4h0M450.4 123.1h0M459.9 123.5h0M451.5 124.3h0M458.8 133.7h0M458.3 130.5h0M440.6 127.2h0M450.4 133.7h0M465.8 130.4h0M453.6 126.4h0M452.1 127.6h0M456.2 138.6h0M458.3 133.7h0M465.1 126.5h0M454.9 136.1h0M458.4 133.0h0M469.5 124.2h0M446.3 122.6h0M465.2 121.8h0M458.8 123.7h0M447.6 128.8h0M459.7 132.7h0M464.2 123.4h0M451.3 128.3h0M448.7 131.5h0M448.8 125.6h0M470.0 125.6h0M467.1 128.9h0M465.3 126.2h0M447.6 120.9h0M461.3 128.6h0M451.1 128.1h0M443.1 127.1h0M453.4 128.9h0M465.2 132.2h0M456.2 139.6h0M460.4 135.5h0M462.0 132.7h0M452.7 127.7h0M459.8 129.3h0M453.8 134.4h0M453.9 137.2h0M459.4 120.0h0M460.8 124.7h0M457.0 132.7h0M446.7 131.3h0M451.5 120.6h0M451.8 127.3h0M454.3 132.7h0M456.8 137.2h0M437.7 132.7h0M472.2 126.7h0M431.6 132.7h0M480.2 120.7h0M487.3 120.8h0M426.1 122.2h0M472.7 129.6h0M434.7 135.5h0M473.9 131.1h0M471.2 121.8h0M438.5 134.0h0M476.1 136.4h0M439.6 132.5h0M429.5 122.5h0M479.5 134.3h0M471.2 131.6h0M427.0 132.3h0M435.6 128.5h0M475.5 121.9h0M432.0 131.1h0M471.2 137.2h0M477.3 129.7h0M472.0 131.6h0M438.7 128.4h0M479.1 123.9h0M476.5 122.2h0M432.4 131.4h0M427.2 126.4h0M479.7 133.3h0M433.0 122.6h0M491.6 131.1h0M439.4 129.4h0M474.9 132.2h0M472.0 128.0h0M426.0 120.7h0M422.3 122.5h0M476.0 135.7h0M474.3 128.2h0" stroke="#228b22" stroke-width="1.8" stroke-linecap="round" fill="none"/>
<path d="M443.8 109.7h0M436.6 113.1h0M447.7 106.7h0M441.6 112.7h0M442.1 113.8h0M450.3 116.6h0M443.0 112.9h0M442.1 107.2h0M446.8 111.6h0M445.6 112.2h0M449.5 119.0h0M449.5 114.7h0M451.1 110.8h0M450.6 107.0h0M450.3 116.2h0M446.0 112.1h0M451.0 118.7h0M448.9 105.1h0M445.9 112.9h0M451.1 103.7h0M445.9 115.0h0M439.9 113.1h0M448.1 106.2h0M452.2 110.0h0M447.2 103.0h0M444.2 116.5h0M446.5 114.9h0M451.9 113.6h0M445.0 105.2h0M446.9 118.5h0M439.1 111.9h0M451.7 118.2h0M452.4 114.8h0M444.7 112.7h0M443.7 117.3h0M451.5 113.1h0M450.3 113.1h0M442.5 119.0h0M449.5 114.7h0M447.3 116.8h0M451.1 105.9h0M443.6 106.7h0M444.8 116.4h0M451.5 105.1h0M446.9 98.5h0M450.7 114.4h0M449.0 109.3h0M445.6 117.9h0M445.8 99.5h0M443.0 111.1h0M449.1 116.0h0M451.8 105.0h0M448.7 112.3h0M449.7 116.2h0M447.2 110.1h0M442.4 108.1h0M445.0 115.7h0M447.8 117.6h0M452.1 116.2h0M446.5 112.7h0M446.7 109.0h0M450.7 99.5h0M444.2 108.4h0M449.0 109.5h0M449.4 117.5h0M444.5 107.7h0M449.8 115.8h0M446.2 119.2h0M451.7 115.9h0M446.7 113.1h0M436.5 117.4h0M450.6 105.0h0M441.7 116.2h0M445.1 115.2h0M451.8 112.2h0M450.7 116.1h0M450.6 107.6h0M450.0 114.5h0M452.3 118.9h0M448.3 118.6h0M447.4 114.2h0M451.4 114.3h0M436.7 116.5h0M443.2 116.3h0M443.5 114.2h0M443.9 118.3h0M451.5 115.1h0M441.1 119.0h0M439.5 110.0h0M451.2 113.7h0M439.4 118.4h0M447.2 118.3h0M449.3 113.9h0M451.6 118.2h0M446.9 103.5h0M443.6 111.1h0M452.2 108.8h0M448.0 112.8h0M450.2 118.4h0M446.1 116.2h0M450.4 114.9h0M443.3 114.0h0M441.5 111.0h0M450.0 118.5h0M434.2 116.6h0M442.0 116.1h0M450.8 115.5h0M451.4 115.6h0M450.9 115.6h0M451.5 113.8h0M442.7 118.1h0M446.4 106.6h0M449.3 116.6h0M448.0 117.3h0M435.5 118.2h0M449.5 119.2h0M448.2 100.2h0M446.6 116.0h0M436.8 117.2h0M450.8 117.2h0M449.0 118.1h0M451.8 101.9h0M440.0 117.6h0M451.6 107.6h0M448.5 104.8h0M450.5 107.6h0M452.5 116.1h0M443.0 117.9h0M446.8 118.2h0M451.6 103.3h0M438.6 115.6h0M447.3 108.4h0M449.9 119.0h0M445.2 119.0h0M441.7 118.4h0M448.0 117.1h0M445.9 111.8h0M444.7 113.8h0M442.2 109.8h0M452.4 113.1h0M446.8 117.3h0M450.0 113.6h0M452.0 111.9h0M451.7 116.4h0M434.0 114.8h0M448.5 102.0h0M445.9 112.9h0M447.4 119.4h0M450.6 118.2h0M446.7 113.7h0M443.0 112.7h0M449.5 105.6h0M447.5 107.8h0M439.8 112.9h0M448.2 114.0h0M451.1 117.4h0M442.3 119.4h0M450.4 110.6h0M446.6 116.0h0M451.6 117.2h0M452.3 114.5h0M450.8 118.8h0M452.2 114.2h0M441.8 116.4h0M446.5 119.3h0M434.7 119.2h0M447.3 109.0h0M448.3 114.3h0M442.8 113.9h0M443.5 117.4h0M448.7 109.8h0M449.8 118.8h0M448.5 117.7h0M440.9 117.2h0M451.6 112.1h0M441.5 119.2h0M440.3 114.2h0M448.2 100.6h0M450.0 118.9h0M448.3 118.2h0M436.7 115.0h0M448.1 117.9h0M449.6 111.8h0M450.3 117.6h0M452.1 105.2h0M451.1 117.6h0M444.6 118.3h0M451.5 118.6h0M444.5 114.5h0M450.9 117.2h0M440.9 116.6h0M448.6 119.2h0M452.2 115.6h0M441.2 117.7h0M449.9 103.6h0M450.1 116.8h0M446.6 117.3h0M451.2 110.5h0M447.3 114.9h0M452.4 117.3h0M443.3 117.0h0M444.8 118.4h0M449.8 104.7h0M450.2 104.3h0M448.1 108.4h0M443.1 115.2h0M441.8 107.9h0M445.1 111.6h0M452.2 113.0h0M450.0 113.1h0M452.1 119.4h0M450.7 113.8h0M447.7 114.0h0M440.4 116.4h0M452.5 118.2h0M446.8 97.9h0M446.7 115.2h0M447.7 116.4h0M450.3 115.1h0M447.7 118.5h0M440.5 109.4h0M445.9 118.9h0M440.9 119.0h0M444.6 106.9h0M446.3 112.3h0M450.4 111.1h0M448.0 119.4h0M452.3 115.3h0M442.4 108.9h0M443.2 119.2h0M448.7 115.8h0M449.0 100.2h0M452.1 117.7h0M450.2 113.2h0M451.0 117.1h0M447.4 112.9h0M452.0 115.4h0M452.7 119.1h0M447.6 111.6h0M447.5 116.3h0M448.7 117.0h0M447.3 117.2h0M450.1 104.9h0M448.7 119.4h0M450.8 114.5h0M449.0 114.6h0M446.3 114.7h0M441.4 113.0h0M442.6 114.0h0M449.5 106.0h0M443.5 107.4h0M443.0 113.0h0M448.1 115.2h0M434.1 117.4h0M437.7 118.3h0M445.4 112.5h0M440.2 116.7h0M440.8 114.4h0M448.1 107.9h0M450.3 114.3h0M443.9 104.8h0M451.1 115.7h0M444.4 119.4h0M442.7 114.5h0M449.8 118.5h0M448.7 116.9h0M447.9 117.8h0M448.4 118.5h0M444.7 107.4h0M447.6 112.1h0M446.3 116.8h0M450.1 115.9h0M451.4 110.2h0M447.0 114.1h0M446.7 102.0h0M450.3 115.3h0M446.2 114.5h0M442.5 115.9h0M452.4 115.0h0M452.0 114.2h0M440.4 112.3h0M451.1 114.2h0M430.1 118.5h0M451.7 111.9h0M445.6 118.3h0M449.3 117.9h0M446.5 118.4h0M449.6 119.2h0M444.0 119.0h0M452.6 119.0h0M448.2 107.0h0M449.9 109.9h0M449.9 118.1h0M444.3 104.5h0M442.3 114.5h0M451.7 110.8h0M450.7 115.1h0M447.6 104.5h0M446.3 115.5h0M446.2 117.7h0M440.5 118.9h0M445.1 116.2h0M443.2 114.0h0M450.0 112.5h0M445.2 117.1h0M447.1 111.3h0M447.5 116.9h0M444.5 118.5h0M449.3 110.3h0M450.2 116.8h0M451.8 117.2h0M449.8 118.5h0M443.4 114.1h0M451.7 117.8h0M451.8 115.1h0M446.4 104.6h0M445.0 119.1h0M448.2 117.3h0M448.9 112.4h0M450.4 104.2h0M444.3 119.2h0M439.3 115.0h0M448.1 117.4h0M440.6 117.5h0M448.4 116.4h0M445.2 113.3h0M448.8 115.9h0M442.1 118.2h0M449.3 111.8h0M451.5 100.4h0M452.3 110.2h0M445.5 118.1h0M449.3 115.4h0M449.0 100.2h0M447.9 115.4h0M447.7 102.9h0M443.6 111.3h0M447.2 113.7h0M450.5 115.3h0M452.1 116.3h0M452.2 112.6h0M448.3 117.8h0M452.0 116.4h0M449.0 114.4h0M451.3 110.9h0M448.6 118.4h0M449.8 119.2h0M451.5 101.9h0M448.5 117.9h0M445.7 109.6h0M445.0 101.2h0M450.7 118.6h0M445.0 116.7h0M448.4 117.4h0M449.6 116.6h0M445.9 117.4h0M451.8 108.1h0M452.2 112.9h0M451.9 114.1h0M445.9 111.9h0M447.0 114.6h0M451.2 118.5h0M448.1 106.2h0M447.5 112.1h0M450.3 117.6h0M438.5 117.7h0M450.6 109.4h0M441.5 115.8h0M443.9 116.6h0M451.6 118.8h0M449.3 118.5h0M448.2 102.8h0M448.9 116.7h0M450.6 115.5h0M443.7 117.5h0M445.0 109.1h0M426.7 113.8h0M451.5 118.2h0M448.5 116.1h0M444.2 118.3h0M445.6 104.8h0M441.8 114.5h0M441.6 116.3h0M445.4 112.9h0M449.7 111.8h0M440.6 106.6h0M448.4 115.9h0M449.2 115.8h0M441.4 113.1h0M449.5 111.0h0M461.4 112.4h0M460.4 115.3h0M471.5 119.4h0M464.8 115.0h0M465.4 117.0h0M462.6 114.0h0M469.8 108.5h0M458.8 119.4h0M462.1 109.4h0M458.9 119.4h0M458.7 116.8h0M463.4 105.4h0M465.9 113.5h0M460.1 108.8h0M462.6 117.6h0M463.9 116.2h0M466.8 118.4h0M464.9 112.1h0M459.6 103.2h0M459.8 114.8h0M459.7 119.3h0M467.1 112.8h0M464.0 112.0h0M463.0 115.7h0M464.0 111.9h0M459.4 116.6h0M459.9 108.5h0M467.7 119.3h0M471.6 118.9h0M463.4 108.8h0M470.2 116.0h0M470.5 107.5h0M464.6 117.9h0M466.3 116.2h0M464.1 118.2h0M473.8 118.6h0M459.7 113.0h0M466.5 117.9h0M461.1 117.2h0M463.2 114.0h0M460.2 113.9h0M467.3 116.5h0M460.1 118.1h0M476.0 115.7h0M466.3 118.3h0M462.4 111.6h0M461.9 119.3h0M458.8 118.5h0M460.5 105.8h0M461.5 114.7h0M459.5 114.5h0M462.2 106.3h0M459.2 114.8h0M463.2 104.4h0M462.4 118.8h0M459.6 111.7h0M465.2 115.1h0M462.2 118.5h0M459.3 117.5h0M459.7 114.9h0M462.8 112.2h0M465.7 107.5h0M470.0 106.8h0M463.0 111.5h0M464.1 117.8h0M463.6 102.0h0M463.9 117.6h0M466.2 117.1h0M473.4 116.6h0M466.0 110.8h0M464.0 117.7h0M460.5 114.6h0M462.7 116.1h0M460.4 108.4h0M466.3 114.0h0M459.5 110.1h0M459.4 107.7h0M462.4 118.6h0M460.8 108.2h0M459.5 110.3h0M470.5 107.7h0M464.1 116.8h0M473.9 117.6h0M459.3 118.5h0M472.2 118.3h0M461.8 112.2h0M458.7 116.3h0M459.8 119.1h0M458.8 119.1h0M460.1 118.3h0M462.5 111.7h0M458.5 117.8h0M458.4 118.5h0M462.1 103.5h0M462.2 111.8h0M469.7 117.4h0M460.8 113.8h0M470.8 115.5h0M466.7 110.8h0M464.8 118.6h0M475.8 112.6h0M462.8 118.1h0M471.0 117.0h0M464.7 107.8h0M467.1 113.3h0M472.0 117.9h0M466.7 111.5h0M459.3 113.6h0M458.7 108.4h0M466.2 107.3h0M473.3 118.9h0M466.0 110.2h0M465.7 116.3h0M459.6 104.0h0M471.2 118.7h0M459.9 117.2h0M465.2 113.1h0M464.5 116.7h0M459.0 115.1h0M460.3 118.6h0M463.6 115.8h0M459.0 117.9h0M460.7 109.3h0M468.4 119.1h0M467.6 113.2h0M459.0 109.9h0M459.4 115.8h0M458.5 116.2h0M462.8 119.1h0M473.7 119.1h0M458.8 118.9h0M479.4 117.2h0M462.5 113.5h0M465.1 115.2h0M465.3 117.7h0M466.6 110.9h0M464.9 113.4h0M462.0 116.8h0M459.7 114.8h0M460.5 118.7h0M467.5 118.6h0M463.3 113.0h0M459.9 114.1h0M465.5 106.9h0M464.3 115.1h0M473.6 114.5h0M459.0 106.5h0M466.8 116.5h0M461.2 118.1h0M459.2 111.0h0M470.1 116.3h0M463.9 118.2h0M466.7 102.0h0M466.9 104.1h0M469.2 118.2h0M466.5 116.1h0M466.4 114.8h0M460.1 116.4h0M460.7 118.0h0M461.4 114.0h0M463.6 103.9h0M465.7 113.4h0M466.0 112.9h0M459.2 117.2h0M459.0 114.1h0M462.3 115.1h0M463.4 117.5h0M476.4 118.7h0M464.4 106.2h0M461.5 118.0h0M466.9 119.3h0M463.2 107.0h0M477.8 113.6h0M461.7 116.3h0M459.0 116.0h0M465.8 111.1h0M468.0 117.1h0M469.1 113.3h0M473.6 113.0h0M465.1 114.6h0M464.3 112.4h0M463.1 119.2h0M468.6 111.2h0M467.7 117.6h0M462.3 118.6h0M463.6 113.1h0M460.8 112.1h0M463.4 117.5h0M462.2 116.3h0M470.3 117.9h0M463.9 117.1h0M466.0 117.6h0M461.9 115.2h0M460.3 117.6h0M464.6 108.9h0M478.6 118.8h0M465.5 111.8h0M470.2 112.8h0M465.4 114.7h0M460.8 119.4h0M460.2 119.3h0M468.3 114.3h0M467.9 117.8h0M463.3 106.9h0M467.5 114.7h0M473.0 119.0h0M463.1 118.5h0M468.0 119.3h0M462.2 118.4h0M466.1 114.6h0M475.2 114.4h0M462.5 114.0h0M460.4 109.7h0M471.2 114.5h0M460.9 116.8h0M464.0 110.7h0M459.7 117.2h0M460.2 103.9h0M468.6 115.4h0M460.5 106.3h0M469.9 109.6h0M466.8 109.2h0M463.2 115.8h0M460.1 112.8h0M473.0 118.0h0M462.2 114.7h0M463.0 118.8h0M471.4 111.5h0M461.7 109.4h0M461.0 115.2h0M461.9 111.4h0M471.0 115.1h0M465.0 107.0h0M459.9 112.8h0M458.8 117.9h0M469.3 108.4h0M465.1 117.8h0M472.5 117.7h0M459.3 118.4h0M469.3 115.0h0M460.9 110.7h0M459.9 113.1h0M459.9 111.2h0M458.7 118.4h0M465.8 111.5h0M474.9 116.8h0M464.3 117.9h0M460.6 117.3h0M464.0 114.3h0M462.0 111.1h0M472.4 117.6h0M462.8 112.6h0M471.5 114.0h0M468.1 107.1h0M465.1 117.3h0M460.2 108.8h0M459.6 115.0h0M464.2 109.6h0M459.6 119.4h0M463.1 117.8h0M460.7 118.5h0M461.5 108.0h0M459.1 109.0h0M463.7 117.8h0M466.0 114.9h0M460.8 107.3h0M460.0 113.3h0M467.0 111.9h0M462.5 110.4h0M463.2 116.8h0M463.5 115.2h0M470.0 116.4h0M461.4 117.8h0M459.0 113.3h0M463.6 115.7h0M461.9 111.7h0M465.8 117.4h0M463.1 110.8h0M462.3 117.9h0M465.4 118.6h0M460.7 108.7h0M463.5 113.8h0M462.7 114.9h0M461.9 109.9h0M463.1 114.8h0M460.7 113.1h0M462.5 117.5h0M458.5 118.3h0M466.0 103.7h0M467.3 118.2h0M467.2 104.4h0M458.5 117.9h0M460.8 118.3h0M467.8 117.5h0M460.5 116.8h0M463.5 119.4h0M459.8 118.7h0M468.6 109.9h0M474.4 112.9h0M471.3 118.1h0M467.2 109.7h0M482.2 116.7h0M462.4 118.0h0M469.0 113.9h0M462.3 119.0h0M465.4 114.6h0M465.4 118.8h0M466.7 116.7h0M467.9 113.9h0M471.6 114.1h0M459.0 113.0h0M459.8 112.2h0M464.3 119.1h0M468.7 115.9h0M461.7 102.4h0M460.7 106.3h0M458.3 118.8h0M467.2 103.7h0M461.5 117.7h0M459.3 109.8h0M460.5 117.1h0M463.2 105.6h0M459.8 114.9h0M464.9 117.1h0M460.7 112.9h0M464.2 115.5h0M469.4 116.5h0M461.6 116.8h0M460.2 116.5h0M459.6 115.7h0M466.4 106.7h0M464.1 114.0h0M464.9 118.1h0M459.4 119.1h0M464.5 107.0h0M462.8 103.2h0M467.1 119.3h0M473.1 113.8h0M459.7 115.5h0M463.6 118.9h0M461.5 117.7h0M467.6 107.1h0M463.1 118.6h0M460.2 113.4h0M459.6 104.1h0M465.5 117.9h0M463.8 117.1h0M461.2 112.9h0M459.7 105.4h0M458.8 111.7h0M480.4 108.9h0M440.6 115.8h0M490.2 118.4h0M440.5 112.7h0M495.3 111.4h0M437.0 103.6h0M436.5 118.3h0M472.6 112.4h0M441.8 116.6h0M433.6 109.9h0M437.5 116.4h0M469.4 95.9h0M471.1 105.4h0M432.7 118.6h0M430.0 116.5h0M477.4 114.0h0M469.7 113.6h0M432.6 104.5h0M477.3 109.9h0M416.3 111.9h0M430.8 114.9h0M422.0 114.7h0M436.3 114.0h0M470.0 103.9h0M469.2 56.7h0M497.0 112.6h0M483.9 113.1h0M473.4 117.7h0M425.6 106.9h0M412.6 96.8h0" stroke="#ff0000" stroke-width="1.8" stroke-linecap="round" fill="none"/>
<circle cx="363.0" cy="106.0" r="0.90" fill="#ff0000"/>
<circle cx="381.9" cy="112.2" r="0.90" fill="#ff0000"/>
<circle cx="407.7" cy="117.8" r="0.90" fill="#ff0000"/>
<circle cx="418.3" cy="118.6" r="0.90" fill="#ff0000"/>
<circle cx="425.6" cy="117.4" r="0.90" fill="#ff0000"/>
<circle cx="427.3" cy="111.0" r="0.90" fill="#ff0000"/>
<circle cx="339.8" cy="126.1" r="0.90" fill="#228b22"/>
<circle cx="396.6" cy="120.4" r="0.90" fill="#228b22"/>
<circle cx="400.1" cy="119.3" r="0.90" fill="#228b22"/>
<circle cx="413.1" cy="123.8" r="0.90" fill="#228b22"/>
<circle cx="419.5" cy="125.7" r="0.90" fill="#228b22"/>
<circle cx="414.3" cy="126.8" r="0.90" fill="#228b22"/>
<circle cx="476.0" cy="114.0" r="0.90" fill="#ff0000"/>
<circle cx="480.0" cy="115.0" r="0.90" fill="#ff0000"/>
<circle cx="486.0" cy="115.0" r="0.90" fill="#ff0000"/>
<circle cx="490.0" cy="113.6" r="0.90" fill="#ff0000"/>
<circle cx="483.0" cy="117.6" r="0.90" fill="#ff0000"/>
<path d="M313.1 17V163H546" stroke="#333333" stroke-width="1.25" fill="none"/>
<path d="M310.90000000000003 140.7H313.1" stroke="#333333" stroke-width="0.8"/>
<text transform="translate(309.10,144.70) scale(1.200,1)" font-size="10.5" text-anchor="end" fill="#4d4d4d">0</text>
<path d="M310.90000000000003 108.0H313.1" stroke="#333333" stroke-width="0.8"/>
<text transform="translate(309.10,112.00) scale(1.200,1)" font-size="10.5" text-anchor="end" fill="#4d4d4d">2</text>
<path d="M310.90000000000003 75.3H313.1" stroke="#333333" stroke-width="0.8"/>
<text transform="translate(309.10,79.30) scale(1.200,1)" font-size="10.5" text-anchor="end" fill="#4d4d4d">4</text>
<path d="M310.90000000000003 42.6H313.1" stroke="#333333" stroke-width="0.8"/>
<text transform="translate(309.10,46.60) scale(1.200,1)" font-size="10.5" text-anchor="end" fill="#4d4d4d">6</text>
<path d="M322.3 163V165.2" stroke="#333333" stroke-width="0.8"/>
<text transform="translate(322.30,173.40) scale(1.200,1)" font-size="10.5" text-anchor="middle" fill="#4d4d4d">−4</text>
<path d="M388.9 163V165.2" stroke="#333333" stroke-width="0.8"/>
<text transform="translate(388.90,173.40) scale(1.200,1)" font-size="10.5" text-anchor="middle" fill="#4d4d4d">−2</text>
<path d="M455.5 163V165.2" stroke="#333333" stroke-width="0.8"/>
<text transform="translate(455.50,173.40) scale(1.200,1)" font-size="10.5" text-anchor="middle" fill="#4d4d4d">0</text>
<path d="M522.1 163V165.2" stroke="#333333" stroke-width="0.8"/>
<text transform="translate(522.10,173.40) scale(1.200,1)" font-size="10.5" text-anchor="middle" fill="#4d4d4d">2</text>
<text x="382.3" y="184.4" font-size="9.8" fill="#000" textLength="98.7" lengthAdjust="spacingAndGlyphs">Log<tspan font-size="6.9" dy="2.2">2</tspan><tspan dy="-2.2"> fold change</tspan></text>
<text transform="translate(293.4,128.8) rotate(-90)" font-size="10.8" fill="#000" textLength="78.3" lengthAdjust="spacingAndGlyphs">−Log<tspan font-size="7.3" dy="2.4">10</tspan><tspan dy="-2.4" font-size="13.5"> (</tspan><tspan font-style="italic">p.value</tspan><tspan font-size="13.5">)</tspan></text>
<text x="318.3" y="27" font-size="8.9" font-weight="bold" fill="#000" textLength="35.3" lengthAdjust="spacingAndGlyphs">Females</text>
<text x="316.5" y="37.9" font-size="9.2" font-weight="bold" fill="#000" textLength="101.5" lengthAdjust="spacingAndGlyphs">5xFAD-DUSP4vs5xFAD</text>
<text x="497.5" y="194.2" font-size="4.3" fill="#222" textLength="50.5" lengthAdjust="spacingAndGlyphs">total = 3548 variables</text>
<path d="M428.5 80L433.9 87.4" stroke="#666" stroke-width="0.45"/>
<path d="M426.6 90.9L440.3 90.9" stroke="#666" stroke-width="0.45"/>
<path d="M455 96.5L462 97" stroke="#666" stroke-width="0.45"/>
<path d="M468.5 102.3L474 101" stroke="#666" stroke-width="0.45"/>
<path d="M508 104L480 101.5" stroke="#666" stroke-width="0.45"/>
<text x="320.5" y="82.4" font-size="6.6" fill="#111" textLength="9.5" lengthAdjust="spacingAndGlyphs">Sfn</text>
<text x="407.6" y="80.6" font-size="6.6" fill="#111" textLength="21.4" lengthAdjust="spacingAndGlyphs">Snx30</text>
<text x="460" y="76.4" font-size="6.6" fill="#111" textLength="18.2" lengthAdjust="spacingAndGlyphs">Pdk2</text>
<text x="394" y="86.9" font-size="6.6" fill="#111" textLength="18.7" lengthAdjust="spacingAndGlyphs">Ptpre</text>
<text x="419.6" y="86.6" font-size="6.6" fill="#111" textLength="18.2" lengthAdjust="spacingAndGlyphs">Stat3</text>
<text x="447" y="83.3" font-size="6.6" fill="#111" textLength="24.8" lengthAdjust="spacingAndGlyphs">Sssca1</text>
<text x="477" y="86.2" font-size="6.6" fill="#111" textLength="25" lengthAdjust="spacingAndGlyphs">Mrpl49</text>
<text x="402.2" y="93.9" font-size="6.6" fill="#111" textLength="24.2" lengthAdjust="spacingAndGlyphs">Slc7a5</text>
<text x="440.6" y="89.4" font-size="6.6" fill="#111" textLength="18.1" lengthAdjust="spacingAndGlyphs">Vapb</text>
<text x="459.8" y="92.0" font-size="6.6" fill="#111" textLength="22.2" lengthAdjust="spacingAndGlyphs">Ckap4</text>
<text x="428.2" y="98.8" font-size="6.6" fill="#111" textLength="26.7" lengthAdjust="spacingAndGlyphs">Fam49a</text>
<text x="471.5" y="98.8" font-size="6.6" fill="#111" textLength="21.4" lengthAdjust="spacingAndGlyphs">Exoc2</text>
<text x="387.5" y="102.9" font-size="6.6" fill="#111" textLength="20" lengthAdjust="spacingAndGlyphs">Mobp</text>
<text x="447.8" y="104.6" font-size="6.6" fill="#111" textLength="20" lengthAdjust="spacingAndGlyphs">Eef1b</text>
<text x="480.8" y="104.6" font-size="6.6" fill="#111" textLength="27.5" lengthAdjust="spacingAndGlyphs">Trappc4</text>
<text x="456" y="110.8" font-size="6.6" fill="#111" textLength="21.4" lengthAdjust="spacingAndGlyphs">Mark4</text>
<circle cx="332" cy="76.5" r="0.90" fill="#ff0000"/>
<circle cx="435.6" cy="57.1" r="0.90" fill="#ff0000"/>
<circle cx="409.1" cy="87.8" r="0.90" fill="#ff0000"/>
<circle cx="403.7" cy="96.8" r="0.90" fill="#ff0000"/>
<circle cx="475" cy="81.4" r="0.90" fill="#ff0000"/>
<circle cx="476.6" cy="86.6" r="0.90" fill="#ff0000"/>
<circle cx="470" cy="98" r="0.90" fill="#ff0000"/>
<circle cx="528" cy="102.4" r="0.90" fill="#ff0000"/>
<circle cx="433.9" cy="87.4" r="0.90" fill="#ff0000"/>
<circle cx="439.1" cy="90.2" r="0.90" fill="#ff0000"/>
<g transform="translate(111.30,299.26) scale(182.00,212.00) rotate(-45)"><ellipse rx="0.35" ry="0.2" fill="#ff0000" fill-opacity="0.5"/></g>
<g transform="translate(56.70,299.26) scale(182.00,212.00) rotate(-135)"><ellipse rx="0.35" ry="0.2" fill="#ffa500" fill-opacity="0.5"/></g>
<g transform="translate(84.00,278.06) scale(182.00,212.00) rotate(-45)"><ellipse rx="0.33" ry="0.15" fill="#0000ff" fill-opacity="0.5"/></g>
<g transform="translate(84.00,278.06) scale(182.00,212.00) rotate(-135)"><ellipse rx="0.35" ry="0.15" fill="#00ee00" fill-opacity="0.5"/></g>
<g transform="translate(111.30,299.26) scale(182.00,212.00) rotate(-45)"><ellipse rx="0.35" ry="0.2" fill="none" stroke="#1a1a1a" stroke-width="1.05" vector-effect="non-scaling-stroke"/></g>
<g transform="translate(56.70,299.26) scale(182.00,212.00) rotate(-135)"><ellipse rx="0.35" ry="0.2" fill="none" stroke="#1a1a1a" stroke-width="1.05" vector-effect="non-scaling-stroke"/></g>
<g transform="translate(84.00,278.06) scale(182.00,212.00) rotate(-45)"><ellipse rx="0.33" ry="0.15" fill="none" stroke="#1a1a1a" stroke-width="1.05" vector-effect="non-scaling-stroke"/></g>
<g transform="translate(84.00,278.06) scale(182.00,212.00) rotate(-135)"><ellipse rx="0.35" ry="0.15" fill="none" stroke="#1a1a1a" stroke-width="1.05" vector-effect="non-scaling-stroke"/></g>
<text transform="translate(56.70,242.26) scale(0.670,1)" font-size="19.3" text-anchor="middle" fill="#111" font-family="Liberation Serif" stroke="#111" stroke-width="0.4">119</text>
<text transform="translate(84.00,259.22) scale(0.670,1)" font-size="19.3" text-anchor="middle" fill="#111" font-family="Liberation Serif" stroke="#111" stroke-width="0.4">0</text>
<text transform="translate(111.30,242.26) scale(0.670,1)" font-size="19.3" text-anchor="middle" fill="#111" font-family="Liberation Serif" stroke="#111" stroke-width="0.4">172</text>
<text transform="translate(49.42,263.46) scale(0.670,1)" font-size="19.3" text-anchor="middle" fill="#111" font-family="Liberation Serif" stroke="#111" stroke-width="0.4">117</text>
<text transform="translate(65.80,282.54) scale(0.670,1)" font-size="19.3" text-anchor="middle" fill="#111" font-family="Liberation Serif" stroke="#111" stroke-width="0.4">0</text>
<text transform="translate(84.00,305.86) scale(0.670,1)" font-size="19.3" text-anchor="middle" fill="#111" font-family="Liberation Serif" stroke="#111" stroke-width="0.4">0</text>
<text transform="translate(102.20,282.54) scale(0.670,1)" font-size="19.3" text-anchor="middle" fill="#111" font-family="Liberation Serif" stroke="#111" stroke-width="0.4">0</text>
<text transform="translate(118.58,263.46) scale(0.670,1)" font-size="19.3" text-anchor="middle" fill="#111" font-family="Liberation Serif" stroke="#111" stroke-width="0.4">156</text>
<text transform="translate(25.76,282.54) scale(0.670,1)" font-size="19.3" text-anchor="middle" fill="#111" font-family="Liberation Serif" stroke="#111" stroke-width="0.4">159</text>
<text transform="translate(51.24,316.46) scale(0.670,1)" font-size="19.3" text-anchor="middle" fill="#111" font-family="Liberation Serif" stroke="#111" stroke-width="0.4">0</text>
<text transform="translate(70.35,324.94) scale(0.670,1)" font-size="19.3" text-anchor="middle" fill="#111" font-family="Liberation Serif" stroke="#111" stroke-width="0.4">0</text>
<text transform="translate(84.00,346.14) scale(0.670,1)" font-size="19.3" text-anchor="middle" fill="#111" font-family="Liberation Serif" stroke="#111" stroke-width="0.4">0</text>
<text transform="translate(97.65,324.94) scale(0.670,1)" font-size="19.3" text-anchor="middle" fill="#111" font-family="Liberation Serif" stroke="#111" stroke-width="0.4">0</text>
<text transform="translate(116.76,316.46) scale(0.670,1)" font-size="19.3" text-anchor="middle" fill="#111" font-family="Liberation Serif" stroke="#111" stroke-width="0.4">0</text>
<text transform="translate(142.24,282.54) scale(0.670,1)" font-size="19.3" text-anchor="middle" fill="#111" font-family="Liberation Serif" stroke="#111" stroke-width="0.4">253</text>
<text x="16.2" y="234.5" font-size="8.6" text-anchor="middle" fill="#eeb548" font-family="Liberation Serif" textLength="25.5" lengthAdjust="spacingAndGlyphs">fIDEP(−)</text>
<text x="57.5" y="216.3" font-size="8.6" text-anchor="middle" fill="#4bd64b" font-family="Liberation Serif" textLength="29" lengthAdjust="spacingAndGlyphs">mIDEP(−)</text>
<text x="111.4" y="216.1" font-size="8.6" text-anchor="middle" fill="#5c5ce8" font-family="Liberation Serif" textLength="28.2" lengthAdjust="spacingAndGlyphs">mIDEP(+)</text>
<text x="153.2" y="234.1" font-size="8.6" text-anchor="middle" fill="#ee6262" font-family="Liberation Serif" textLength="24.6" lengthAdjust="spacingAndGlyphs">fIDEP(+)</text>
<g transform="translate(283.79,295.60) scale(186.60,204.90) rotate(-45)"><ellipse rx="0.35" ry="0.2" fill="#ff0000" fill-opacity="0.5"/></g>
<g transform="translate(227.81,295.60) scale(186.60,204.90) rotate(-135)"><ellipse rx="0.35" ry="0.2" fill="#ffa500" fill-opacity="0.5"/></g>
<g transform="translate(255.80,275.11) scale(186.60,204.90) rotate(-45)"><ellipse rx="0.33" ry="0.15" fill="#0000ff" fill-opacity="0.5"/></g>
<g transform="translate(255.80,275.11) scale(186.60,204.90) rotate(-135)"><ellipse rx="0.35" ry="0.15" fill="#00ee00" fill-opacity="0.5"/></g>
<g transform="translate(283.79,295.60) scale(186.60,204.90) rotate(-45)"><ellipse rx="0.35" ry="0.2" fill="none" stroke="#1a1a1a" stroke-width="1.05" vector-effect="non-scaling-stroke"/></g>
<g transform="translate(227.81,295.60) scale(186.60,204.90) rotate(-135)"><ellipse rx="0.35" ry="0.2" fill="none" stroke="#1a1a1a" stroke-width="1.05" vector-effect="non-scaling-stroke"/></g>
<g transform="translate(255.80,275.11) scale(186.60,204.90) rotate(-45)"><ellipse rx="0.33" ry="0.15" fill="none" stroke="#1a1a1a" stroke-width="1.05" vector-effect="non-scaling-stroke"/></g>
<g transform="translate(255.80,275.11) scale(186.60,204.90) rotate(-135)"><ellipse rx="0.35" ry="0.15" fill="none" stroke="#1a1a1a" stroke-width="1.05" vector-effect="non-scaling-stroke"/></g>
<text transform="translate(227.81,240.73) scale(0.670,1)" font-size="19.3" text-anchor="middle" fill="#111" font-family="Liberation Serif" stroke="#111" stroke-width="0.4">172</text>
<text transform="translate(255.80,257.12) scale(0.670,1)" font-size="19.3" text-anchor="middle" fill="#111" font-family="Liberation Serif" stroke="#111" stroke-width="0.4">0</text>
<text transform="translate(283.79,240.73) scale(0.670,1)" font-size="19.3" text-anchor="middle" fill="#111" font-family="Liberation Serif" stroke="#111" stroke-width="0.4">239</text>
<text transform="translate(220.35,261.22) scale(0.670,1)" font-size="19.3" text-anchor="middle" fill="#111" font-family="Liberation Serif" stroke="#111" stroke-width="0.4">0</text>
<text transform="translate(237.14,279.66) scale(0.670,1)" font-size="19.3" text-anchor="middle" fill="#111" font-family="Liberation Serif" stroke="#111" stroke-width="0.4">0</text>
<text transform="translate(255.80,302.20) scale(0.670,1)" font-size="19.3" text-anchor="middle" fill="#111" font-family="Liberation Serif" stroke="#111" stroke-width="0.4">0</text>
<text transform="translate(274.46,279.66) scale(0.670,1)" font-size="19.3" text-anchor="middle" fill="#111" font-family="Liberation Serif" stroke="#111" stroke-width="0.4">0</text>
<text transform="translate(291.25,261.22) scale(0.670,1)" font-size="19.3" text-anchor="middle" fill="#111" font-family="Liberation Serif" stroke="#111" stroke-width="0.4">0</text>
<text transform="translate(196.09,279.66) scale(0.670,1)" font-size="19.3" text-anchor="middle" fill="#111" font-family="Liberation Serif" stroke="#111" stroke-width="0.4">119</text>
<text transform="translate(222.21,312.44) scale(0.670,1)" font-size="19.3" text-anchor="middle" fill="#111" font-family="Liberation Serif" stroke="#111" stroke-width="0.4">89</text>
<text transform="translate(241.81,320.64) scale(0.670,1)" font-size="19.3" text-anchor="middle" fill="#111" font-family="Liberation Serif" stroke="#111" stroke-width="0.4">0</text>
<text transform="translate(255.80,341.13) scale(0.670,1)" font-size="19.3" text-anchor="middle" fill="#111" font-family="Liberation Serif" stroke="#111" stroke-width="0.4">0</text>
<text transform="translate(269.80,320.64) scale(0.670,1)" font-size="19.3" text-anchor="middle" fill="#111" font-family="Liberation Serif" stroke="#111" stroke-width="0.4">0</text>
<text transform="translate(289.39,312.44) scale(0.670,1)" font-size="19.3" text-anchor="middle" fill="#111" font-family="Liberation Serif" stroke="#111" stroke-width="0.4">64</text>
<text transform="translate(315.51,279.66) scale(0.670,1)" font-size="19.3" text-anchor="middle" fill="#111" font-family="Liberation Serif" stroke="#111" stroke-width="0.4">63</text>
<text x="185.5" y="232.3" font-size="8.6" text-anchor="middle" fill="#eec050" font-family="Liberation Serif" textLength="27.3" lengthAdjust="spacingAndGlyphs">daspDEP(−)</text>
<text x="227.8" y="214.7" font-size="8.6" text-anchor="middle" fill="#4bd64b" font-family="Liberation Serif" textLength="24.4" lengthAdjust="spacingAndGlyphs">faDEP(−)</text>
<text x="284.2" y="214.9" font-size="8.6" text-anchor="middle" fill="#5c5ce8" font-family="Liberation Serif" textLength="23.7" lengthAdjust="spacingAndGlyphs">faDEP(+)</text>
<text x="326.3" y="233.2" font-size="8.6" text-anchor="middle" fill="#ee6262" font-family="Liberation Serif" textLength="27.8" lengthAdjust="spacingAndGlyphs">daspDEP(+)</text>
<path d="M51.8 272.5L38 312.4Q33 313 28.8 313.7Q16 322 13.6 349" stroke="#2270f5" stroke-width="2" fill="none" stroke-dasharray="4 2.2"/>
<path d="M10.1 348.4L16.1 348.4L13.1 354.4Z" fill="#2270f5"/>
<path d="M120.3 276.4Q124 300 131.5 310.5Q136 313 139.3 315Q145 325 146 342" stroke="#2270f5" stroke-width="2" fill="none" stroke-dasharray="4 2.2"/>
<path d="M143.5 341.2L149.5 341.2L146.5 347.2Z" fill="#2270f5"/>
<path d="M219 321.6Q218 327 217.1 329.9Q212 334 206.9 336.3Q200 337 199.3 338.2Q194 342 193.6 345" stroke="#2270f5" stroke-width="2" fill="none" stroke-dasharray="4 2.2"/>
<path d="M190.5 344.3L196.5 344.3L193.5 350.3Z" fill="#2270f5"/>
<path d="M290.4 325.5Q291 330 293.5 334.4Q297 337.5 301.8 339.5Q307 341 309.5 343.3Q313 346 314.2 349" stroke="#2270f5" stroke-width="2" fill="none" stroke-dasharray="4 2.2"/>
<path d="M311.5 348.1L317.5 348.1L314.5 354.1Z" fill="#2270f5"/>
<text transform="translate(4.90,362.40)" font-size="7.35" text-anchor="start" fill="#2774f2" font-weight="bold">FE = 6.4</text>
<text x="4.9" y="371.7" font-size="7.35" font-weight="bold" fill="#2774f2">p.adj = 2.3 x 10<tspan font-size="4.9" dy="-3">−72</tspan></text>
<text transform="translate(109.60,359.80)" font-size="7.35" text-anchor="start" fill="#2774f2" font-weight="bold">FE = 4.2</text>
<text x="109.6" y="369.1" font-size="7.35" font-weight="bold" fill="#2774f2">p.adj = 1.1 x 10<tspan font-size="4.9" dy="-3">−68</tspan></text>
<text transform="translate(178.90,362.50)" font-size="7.35" text-anchor="start" fill="#2774f2" font-weight="bold">FE = 4.6</text>
<text x="178.9" y="371.8" font-size="7.35" font-weight="bold" fill="#2774f2">p.adj = 7.5 x 10<tspan font-size="4.9" dy="-3">−41</tspan></text>
<text transform="translate(286.30,365.90)" font-size="7.35" text-anchor="start" fill="#2774f2" font-weight="bold">FE = 7.8</text>
<text x="286.3" y="375.2" font-size="7.35" font-weight="bold" fill="#2774f2">p.adj = 1.7 x 10<tspan font-size="4.9" dy="-3">−44</tspan></text>
<text transform="translate(59.90,381.10)" font-size="9.2" text-anchor="start" fill="#000" font-weight="bold">5xFADvsWT</text>
<text transform="translate(247.00,370.50)" font-size="8.8" text-anchor="start" fill="#000" font-weight="bold">Males</text>
<rect x="372.60" y="278.70" width="10.21" height="15.20" fill="#ff0000" stroke="#d9d9d9" stroke-width="0.5"/>
<rect x="382.81" y="278.70" width="10.21" height="15.20" fill="#ffffff" stroke="#d9d9d9" stroke-width="0.5"/>
<rect x="393.03" y="278.70" width="10.21" height="15.20" fill="#ff0000" stroke="#d9d9d9" stroke-width="0.5"/>
<rect x="403.24" y="278.70" width="10.21" height="15.20" fill="#ffffff" stroke="#d9d9d9" stroke-width="0.5"/>
<rect x="413.45" y="278.70" width="10.21" height="15.20" fill="#ffffff" stroke="#d9d9d9" stroke-width="0.5"/>
<rect x="423.66" y="278.70" width="10.21" height="15.20" fill="#ff6a00" stroke="#d9d9d9" stroke-width="0.5"/>
<rect x="433.88" y="278.70" width="10.21" height="15.20" fill="#ffffff" stroke="#d9d9d9" stroke-width="0.5"/>
<rect x="444.09" y="278.70" width="10.21" height="15.20" fill="#fff8dc" stroke="#d9d9d9" stroke-width="0.5"/>
<rect x="372.60" y="293.90" width="10.21" height="15.10" fill="#ffffff" stroke="#d9d9d9" stroke-width="0.5"/>
<rect x="382.81" y="293.90" width="10.21" height="15.10" fill="#ff0000" stroke="#d9d9d9" stroke-width="0.5"/>
<rect x="393.03" y="293.90" width="10.21" height="15.10" fill="#ffffff" stroke="#d9d9d9" stroke-width="0.5"/>
<rect x="403.24" y="293.90" width="10.21" height="15.10" fill="#ff0000" stroke="#d9d9d9" stroke-width="0.5"/>
<rect x="413.45" y="293.90" width="10.21" height="15.10" fill="#fff8dc" stroke="#d9d9d9" stroke-width="0.5"/>
<rect x="423.66" y="293.90" width="10.21" height="15.10" fill="#ffffff" stroke="#d9d9d9" stroke-width="0.5"/>
<rect x="433.88" y="293.90" width="10.21" height="15.10" fill="#ffffff" stroke="#d9d9d9" stroke-width="0.5"/>
<rect x="444.09" y="293.90" width="10.21" height="15.10" fill="#ffffff" stroke="#d9d9d9" stroke-width="0.5"/>
<rect x="372.60" y="309.00" width="10.21" height="15.20" fill="#ffa500" stroke="#d9d9d9" stroke-width="0.5"/>
<rect x="382.81" y="309.00" width="10.21" height="15.20" fill="#ffffff" stroke="#d9d9d9" stroke-width="0.5"/>
<rect x="393.03" y="309.00" width="10.21" height="15.20" fill="#ffa500" stroke="#d9d9d9" stroke-width="0.5"/>
<rect x="403.24" y="309.00" width="10.21" height="15.20" fill="#ffffff" stroke="#d9d9d9" stroke-width="0.5"/>
<rect x="413.45" y="309.00" width="10.21" height="15.20" fill="#ffffff" stroke="#d9d9d9" stroke-width="0.5"/>
<rect x="423.66" y="309.00" width="10.21" height="15.20" fill="#ffcc00" stroke="#d9d9d9" stroke-width="0.5"/>
<rect x="433.88" y="309.00" width="10.21" height="15.20" fill="#ffffff" stroke="#d9d9d9" stroke-width="0.5"/>
<rect x="444.09" y="309.00" width="10.21" height="15.20" fill="#fff8dc" stroke="#d9d9d9" stroke-width="0.5"/>
<rect x="372.60" y="324.20" width="10.21" height="15.20" fill="#ffffff" stroke="#d9d9d9" stroke-width="0.5"/>
<rect x="382.81" y="324.20" width="10.21" height="15.20" fill="#fffbea" stroke="#d9d9d9" stroke-width="0.5"/>
<rect x="393.03" y="324.20" width="10.21" height="15.20" fill="#ffe600" stroke="#d9d9d9" stroke-width="0.5"/>
<rect x="403.24" y="324.20" width="10.21" height="15.20" fill="#ffffff" stroke="#d9d9d9" stroke-width="0.5"/>
<rect x="413.45" y="324.20" width="10.21" height="15.20" fill="#ffe600" stroke="#d9d9d9" stroke-width="0.5"/>
<rect x="423.66" y="324.20" width="10.21" height="15.20" fill="#ffffff" stroke="#d9d9d9" stroke-width="0.5"/>
<rect x="433.88" y="324.20" width="10.21" height="15.20" fill="#ffffff" stroke="#d9d9d9" stroke-width="0.5"/>
<rect x="444.09" y="324.20" width="10.21" height="15.20" fill="#ffd700" stroke="#d9d9d9" stroke-width="0.5"/>
<rect x="372.60" y="339.40" width="10.21" height="15.20" fill="#fff8dc" stroke="#d9d9d9" stroke-width="0.5"/>
<rect x="382.81" y="339.40" width="10.21" height="15.20" fill="#ffffff" stroke="#d9d9d9" stroke-width="0.5"/>
<rect x="393.03" y="339.40" width="10.21" height="15.20" fill="#fff8dc" stroke="#d9d9d9" stroke-width="0.5"/>
<rect x="403.24" y="339.40" width="10.21" height="15.20" fill="#ffffff" stroke="#d9d9d9" stroke-width="0.5"/>
<rect x="413.45" y="339.40" width="10.21" height="15.20" fill="#ffffff" stroke="#d9d9d9" stroke-width="0.5"/>
<rect x="423.66" y="339.40" width="10.21" height="15.20" fill="#fffbea" stroke="#d9d9d9" stroke-width="0.5"/>
<rect x="433.88" y="339.40" width="10.21" height="15.20" fill="#ffffff" stroke="#d9d9d9" stroke-width="0.5"/>
<rect x="444.09" y="339.40" width="10.21" height="15.20" fill="#ffffff" stroke="#d9d9d9" stroke-width="0.5"/>
<rect x="372.60" y="354.60" width="10.21" height="15.10" fill="#ffffff" stroke="#d9d9d9" stroke-width="0.5"/>
<rect x="382.81" y="354.60" width="10.21" height="15.10" fill="#ffffff" stroke="#d9d9d9" stroke-width="0.5"/>
<rect x="393.03" y="354.60" width="10.21" height="15.10" fill="#ffffff" stroke="#d9d9d9" stroke-width="0.5"/>
<rect x="403.24" y="354.60" width="10.21" height="15.10" fill="#ffffff" stroke="#d9d9d9" stroke-width="0.5"/>
<rect x="413.45" y="354.60" width="10.21" height="15.10" fill="#ffffff" stroke="#d9d9d9" stroke-width="0.5"/>
<rect x="423.66" y="354.60" width="10.21" height="15.10" fill="#ffffff" stroke="#d9d9d9" stroke-width="0.5"/>
<rect x="433.88" y="354.60" width="10.21" height="15.10" fill="#ffffff" stroke="#d9d9d9" stroke-width="0.5"/>
<rect x="444.09" y="354.60" width="10.21" height="15.10" fill="#fff8dc" stroke="#d9d9d9" stroke-width="0.5"/>
<rect x="372.60" y="258.9" width="20.42" height="7.9" fill="#40e0d0"/>
<rect x="393.03" y="258.9" width="20.42" height="7.9" fill="#a52a2a"/>
<rect x="413.45" y="258.9" width="20.42" height="7.9" fill="#40e0d0"/>
<rect x="433.88" y="258.9" width="20.42" height="7.9" fill="#a52a2a"/>
<rect x="372.60" y="267.9" width="10.26" height="8.6" fill="#ff0000"/>
<rect x="382.81" y="267.9" width="10.26" height="8.6" fill="#0000ff"/>
<rect x="393.03" y="267.9" width="10.26" height="8.6" fill="#ff0000"/>
<rect x="403.24" y="267.9" width="10.26" height="8.6" fill="#0000ff"/>
<rect x="413.45" y="267.9" width="10.26" height="8.6" fill="#ff0000"/>
<rect x="423.66" y="267.9" width="10.26" height="8.6" fill="#0000ff"/>
<rect x="433.88" y="267.9" width="10.26" height="8.6" fill="#ff0000"/>
<rect x="444.09" y="267.9" width="10.26" height="8.6" fill="#0000ff"/>
<text x="370.8" y="265.6" font-size="6.9" text-anchor="end" fill="#222" textLength="21" lengthAdjust="spacingAndGlyphs">gender</text>
<text x="370.8" y="274.8" font-size="6.9" text-anchor="end" fill="#222" textLength="23.7" lengthAdjust="spacingAndGlyphs">DE(+/−)</text>
<text transform="translate(379.21,255.6) rotate(-34)" font-size="6.3" fill="#222" textLength="32.5" lengthAdjust="spacingAndGlyphs">5xFADvsWT</text>
<text transform="translate(389.42,255.6) rotate(-34)" font-size="6.3" fill="#222" textLength="32.5" lengthAdjust="spacingAndGlyphs">5xFADvsWT</text>
<text transform="translate(399.63,255.6) rotate(-34)" font-size="6.3" fill="#222" textLength="32.5" lengthAdjust="spacingAndGlyphs">5xFADvsWT</text>
<text transform="translate(409.84,255.6) rotate(-34)" font-size="6.3" fill="#222" textLength="32.5" lengthAdjust="spacingAndGlyphs">5xFADvsWT</text>
<text transform="translate(420.06,255.6) rotate(-34)" font-size="6.3" fill="#222" textLength="60.5" lengthAdjust="spacingAndGlyphs">5xFAD−DUSP4vs5xFAD</text>
<text transform="translate(430.27,255.6) rotate(-34)" font-size="6.3" fill="#222" textLength="60.5" lengthAdjust="spacingAndGlyphs">5xFAD−DUSP4vs5xFAD</text>
<text transform="translate(440.48,255.6) rotate(-34)" font-size="6.3" fill="#222" textLength="60.5" lengthAdjust="spacingAndGlyphs">5xFAD−DUSP4vs5xFAD</text>
<text transform="translate(450.69,255.6) rotate(-34)" font-size="6.3" fill="#222" textLength="60.5" lengthAdjust="spacingAndGlyphs">5xFAD−DUSP4vs5xFAD</text>
<rect x="456.2" y="278.70" width="7.8" height="15.25" fill="#a52a2a"/>
<text transform="translate(465.90,288.80)" font-size="7.0" text-anchor="start" fill="#222">mic</text>
<rect x="456.2" y="293.90" width="7.8" height="15.15" fill="#0000ff"/>
<text transform="translate(465.90,303.95)" font-size="7.0" text-anchor="start" fill="#222">neu</text>
<rect x="456.2" y="309.00" width="7.8" height="15.25" fill="#ff0000"/>
<text transform="translate(465.90,319.10)" font-size="7.0" text-anchor="start" fill="#222">ast</text>
<rect x="456.2" y="324.20" width="7.8" height="15.25" fill="#ffa500"/>
<text transform="translate(465.90,334.30)" font-size="7.0" text-anchor="start" fill="#222">oli</text>
<rect x="456.2" y="339.40" width="7.8" height="15.25" fill="#a020f0"/>
<text transform="translate(465.90,349.50)" font-size="7.0" text-anchor="start" fill="#222">end</text>
<rect x="456.2" y="354.60" width="7.8" height="15.15" fill="#ffff00"/>
<text transform="translate(465.90,364.65)" font-size="7.0" text-anchor="start" fill="#222">opc</text>
<text transform="translate(462.8,276.9) rotate(-90)" font-size="7" fill="#222" textLength="25.5" lengthAdjust="spacingAndGlyphs">celltype</text>
<path d="M372 347.0H371.2V362.1H372" stroke="#444" stroke-width="0.7" fill="none"/>
<path d="M372 331.8H369.8V354.6H371.2" stroke="#444" stroke-width="0.7" fill="none"/>
<path d="M372 316.6H367.4V343.2H369.8" stroke="#444" stroke-width="0.7" fill="none"/>
<path d="M372 301.4H361.8V329.9H367.4" stroke="#444" stroke-width="0.7" fill="none"/>
<path d="M372 286.3H355.4V315.7H361.8" stroke="#444" stroke-width="0.7" fill="none"/>
<text transform="translate(482.40,245.40)" font-size="5.6" text-anchor="start" fill="#222" font-weight="bold">−log10(p.adj)</text>
<defs><linearGradient id="cb" x1="0" y1="1" x2="0" y2="0"><stop offset="0" stop-color="#ffffff"/><stop offset="0.25" stop-color="#ffff00"/><stop offset="0.5" stop-color="#ffa500"/><stop offset="1" stop-color="#ff0000"/></linearGradient></defs>
<rect x="482" y="248.3" width="7" height="36" fill="url(#cb)"/>
<text transform="translate(491.20,253.10)" font-size="5.8" text-anchor="start" fill="#444">8</text>
<text transform="translate(491.20,261.50)" font-size="5.8" text-anchor="start" fill="#444">6</text>
<text transform="translate(491.20,270.00)" font-size="5.8" text-anchor="start" fill="#444">4</text>
<text transform="translate(491.20,278.50)" font-size="5.8" text-anchor="start" fill="#444">2</text>
<text transform="translate(491.20,287.50)" font-size="5.8" text-anchor="start" fill="#444">0</text>
<text transform="translate(521.00,245.40)" font-size="6.2" text-anchor="start" fill="#222" font-weight="bold">gender</text>
<rect x="521" y="249.6" width="5.8" height="6" fill="#a52a2a"/>
<rect x="521" y="256.8" width="5.8" height="6" fill="#40e0d0"/>
<text transform="translate(529.00,254.80)" font-size="6.1" text-anchor="start" fill="#333">female</text>
<text transform="translate(529.00,262.00)" font-size="6.1" text-anchor="start" fill="#333">male</text>
<text transform="translate(521.00,275.00)" font-size="6.2" text-anchor="start" fill="#222" font-weight="bold">DE(+/−)</text>
<rect x="521" y="279" width="5.8" height="6.2" fill="#0000ff"/>
<rect x="521" y="286.2" width="5.8" height="6.2" fill="#ff0000"/>
<text transform="translate(529.00,284.40)" font-size="6.1" text-anchor="start" fill="#333">Dn</text>
<text transform="translate(529.00,291.60)" font-size="6.1" text-anchor="start" fill="#333">Up</text>
<text transform="translate(482.20,298.60)" font-size="6.2" text-anchor="start" fill="#222" font-weight="bold">celltype</text>
<rect x="482.3" y="302.00" width="5.8" height="7.1" fill="#ff0000"/>
<text transform="translate(490.00,307.40)" font-size="6.1" text-anchor="start" fill="#333">ast</text>
<rect x="482.3" y="309.12" width="5.8" height="7.1" fill="#a020f0"/>
<text transform="translate(490.00,314.52)" font-size="6.1" text-anchor="start" fill="#333">end</text>
<rect x="482.3" y="316.24" width="5.8" height="7.1" fill="#a52a2a"/>
<text transform="translate(490.00,321.64)" font-size="6.1" text-anchor="start" fill="#333">mic</text>
<rect x="482.3" y="323.36" width="5.8" height="7.1" fill="#0000ff"/>
<text transform="translate(490.00,328.76)" font-size="6.1" text-anchor="start" fill="#333">neu</text>
<rect x="482.3" y="330.48" width="5.8" height="7.1" fill="#ffa500"/>
<text transform="translate(490.00,335.88)" font-size="6.1" text-anchor="start" fill="#333">oli</text>
<rect x="482.3" y="337.60" width="5.8" height="7.1" fill="#ffff00"/>
<text transform="translate(490.00,343.00)" font-size="6.1" text-anchor="start" fill="#333">opc</text>
<path d="M171.0 432.4V727" stroke="#d0d0d0" stroke-width="0.6" stroke-dasharray="2 2"/>
<path d="M171.0 441.1H144.4" stroke="#d3d3d3" stroke-width="4"/>
<ellipse cx="144.4" cy="441.1" rx="3.2" ry="5.2" fill="#00afbb"/>
<path d="M136.0 441.1H138.2" stroke="#333" stroke-width="0.7"/>
<text x="135.2" y="443.6" font-size="8.4" font-weight="bold" fill="#111" text-anchor="end" textLength="54.2" lengthAdjust="spacingAndGlyphs">presynaptic membrane</text>
<path d="M171.0 455.7H148.4" stroke="#d3d3d3" stroke-width="4"/>
<ellipse cx="148.4" cy="455.7" rx="3.2" ry="5.2" fill="#00afbb"/>
<path d="M136.0 455.7H138.2" stroke="#333" stroke-width="0.7"/>
<text x="135.2" y="458.2" font-size="8.4" font-weight="bold" fill="#111" text-anchor="end" textLength="74.2" lengthAdjust="spacingAndGlyphs">dendritic spine morphogenesis</text>
<path d="M171.0 470.3H149.5" stroke="#d3d3d3" stroke-width="4"/>
<ellipse cx="149.5" cy="470.3" rx="3.2" ry="5.2" fill="#00afbb"/>
<path d="M136.0 470.3H138.2" stroke="#333" stroke-width="0.7"/>
<text x="135.2" y="472.8" font-size="8.4" font-weight="bold" fill="#111" text-anchor="end" textLength="88.2" lengthAdjust="spacingAndGlyphs">synaptic transmission, glutamatergic</text>
<path d="M171.0 485.0H150.2" stroke="#d3d3d3" stroke-width="4"/>
<ellipse cx="150.2" cy="485.0" rx="3.2" ry="5.2" fill="#00afbb"/>
<path d="M136.0 485.0H138.2" stroke="#333" stroke-width="0.7"/>
<text x="135.2" y="487.5" font-size="8.4" font-weight="bold" fill="#111" text-anchor="end" textLength="48.7" lengthAdjust="spacingAndGlyphs">transporter complex</text>
<path d="M171.0 499.6H150.4" stroke="#d3d3d3" stroke-width="4"/>
<ellipse cx="150.4" cy="499.6" rx="3.2" ry="5.2" fill="#00afbb"/>
<path d="M136.0 499.6H138.2" stroke="#333" stroke-width="0.7"/>
<text x="135.2" y="502.1" font-size="8.4" font-weight="bold" fill="#111" text-anchor="end" textLength="87.4" lengthAdjust="spacingAndGlyphs">transmembrane transporter complex</text>
<path d="M171.0 514.2H150.6" stroke="#d3d3d3" stroke-width="4"/>
<ellipse cx="150.6" cy="514.2" rx="3.2" ry="5.2" fill="#00afbb"/>
<path d="M136.0 514.2H138.2" stroke="#333" stroke-width="0.7"/>
<text x="135.2" y="516.7" font-size="8.4" font-weight="bold" fill="#111" text-anchor="end" textLength="62.7" lengthAdjust="spacingAndGlyphs">neuron to neuron synapse</text>
<path d="M171.0 528.8H150.8" stroke="#d3d3d3" stroke-width="4"/>
<ellipse cx="150.8" cy="528.8" rx="3.2" ry="5.2" fill="#00afbb"/>
<path d="M136.0 528.8H138.2" stroke="#333" stroke-width="0.7"/>
<text x="135.2" y="531.3" font-size="8.4" font-weight="bold" fill="#111" text-anchor="end" textLength="102.6" lengthAdjust="spacingAndGlyphs">intrinsic component of synaptic membrane</text>
<path d="M171.0 543.4H151.2" stroke="#d3d3d3" stroke-width="4"/>
<ellipse cx="151.2" cy="543.4" rx="3.2" ry="5.2" fill="#00afbb"/>
<path d="M136.0 543.4H138.2" stroke="#333" stroke-width="0.7"/>
<text x="135.2" y="545.9" font-size="8.4" font-weight="bold" fill="#111" text-anchor="end" textLength="100.8" lengthAdjust="spacingAndGlyphs">integral component of synaptic membrane</text>
<path d="M171.0 558.1H151.5" stroke="#d3d3d3" stroke-width="4"/>
<ellipse cx="151.5" cy="558.1" rx="3.2" ry="5.2" fill="#00afbb"/>
<path d="M136.0 558.1H138.2" stroke="#333" stroke-width="0.7"/>
<text x="135.2" y="560.6" font-size="8.4" font-weight="bold" fill="#111" text-anchor="end" textLength="119.9" lengthAdjust="spacingAndGlyphs">regulation of synaptic transmission, glutamatergic</text>
<path d="M171.0 572.7H152.1" stroke="#d3d3d3" stroke-width="4"/>
<ellipse cx="152.1" cy="572.7" rx="3.2" ry="5.2" fill="#00afbb"/>
<path d="M136.0 572.7H138.2" stroke="#333" stroke-width="0.7"/>
<text x="135.2" y="575.2" font-size="8.4" font-weight="bold" fill="#111" text-anchor="end" textLength="88.9" lengthAdjust="spacingAndGlyphs">voltage−gated cation channel activity</text>
<path d="M171.0 587.3H252.8" stroke="#d3d3d3" stroke-width="4"/>
<ellipse cx="252.8" cy="587.3" rx="3.2" ry="5.2" fill="#fc4e07"/>
<path d="M136.0 587.3H138.2" stroke="#333" stroke-width="0.7"/>
<text x="135.2" y="589.8" font-size="8.4" font-weight="bold" fill="#111" text-anchor="end" textLength="65.2" lengthAdjust="spacingAndGlyphs">response to biotic stimulus</text>
<path d="M171.0 601.9H253.8" stroke="#d3d3d3" stroke-width="4"/>
<ellipse cx="253.8" cy="601.9" rx="3.2" ry="5.2" fill="#fc4e07"/>
<path d="M136.0 601.9H138.2" stroke="#333" stroke-width="0.7"/>
<text x="135.2" y="604.4" font-size="8.4" font-weight="bold" fill="#111" text-anchor="end" textLength="74.6" lengthAdjust="spacingAndGlyphs">regulation of immune response</text>
<path d="M171.0 616.5H255.8" stroke="#d3d3d3" stroke-width="4"/>
<ellipse cx="255.8" cy="616.5" rx="3.2" ry="5.2" fill="#fc4e07"/>
<path d="M136.0 616.5H138.2" stroke="#333" stroke-width="0.7"/>
<text x="135.2" y="619.0" font-size="8.4" font-weight="bold" fill="#111" text-anchor="end" textLength="66.5" lengthAdjust="spacingAndGlyphs">response to other organism</text>
<path d="M171.0 631.2H255.8" stroke="#d3d3d3" stroke-width="4"/>
<ellipse cx="255.8" cy="631.2" rx="3.2" ry="5.2" fill="#fc4e07"/>
<path d="M136.0 631.2H138.2" stroke="#333" stroke-width="0.7"/>
<text x="135.2" y="633.7" font-size="8.4" font-weight="bold" fill="#111" text-anchor="end" textLength="85.6" lengthAdjust="spacingAndGlyphs">response to external biotic stimulus</text>
<path d="M171.0 645.8H258.9" stroke="#d3d3d3" stroke-width="4"/>
<ellipse cx="258.9" cy="645.8" rx="3.2" ry="5.2" fill="#fc4e07"/>
<path d="M136.0 645.8H138.2" stroke="#333" stroke-width="0.7"/>
<text x="135.2" y="648.3" font-size="8.4" font-weight="bold" fill="#111" text-anchor="end" textLength="42.3" lengthAdjust="spacingAndGlyphs">defense response</text>
<path d="M171.0 660.4H258.9" stroke="#d3d3d3" stroke-width="4"/>
<ellipse cx="258.9" cy="660.4" rx="3.2" ry="5.2" fill="#fc4e07"/>
<path d="M136.0 660.4H138.2" stroke="#333" stroke-width="0.7"/>
<text x="135.2" y="662.9" font-size="8.4" font-weight="bold" fill="#111" text-anchor="end" textLength="86.8" lengthAdjust="spacingAndGlyphs">defense response to other organism</text>
<path d="M171.0 675.0H261.9" stroke="#d3d3d3" stroke-width="4"/>
<ellipse cx="261.9" cy="675.0" rx="3.2" ry="5.2" fill="#fc4e07"/>
<path d="M136.0 675.0H138.2" stroke="#333" stroke-width="0.7"/>
<text x="135.2" y="677.5" font-size="8.4" font-weight="bold" fill="#111" text-anchor="end" textLength="58.3" lengthAdjust="spacingAndGlyphs">immune system process</text>
<path d="M171.0 689.6H266.0" stroke="#d3d3d3" stroke-width="4"/>
<ellipse cx="266.0" cy="689.6" rx="3.2" ry="5.2" fill="#fc4e07"/>
<path d="M136.0 689.6H138.2" stroke="#333" stroke-width="0.7"/>
<text x="135.2" y="692.1" font-size="8.4" font-weight="bold" fill="#111" text-anchor="end" textLength="46.1" lengthAdjust="spacingAndGlyphs">extracellular region</text>
<path d="M171.0 704.3H267.4" stroke="#d3d3d3" stroke-width="4"/>
<ellipse cx="267.4" cy="704.3" rx="3.2" ry="5.2" fill="#fc4e07"/>
<path d="M136.0 704.3H138.2" stroke="#333" stroke-width="0.7"/>
<text x="135.2" y="706.8" font-size="8.4" font-weight="bold" fill="#111" text-anchor="end" textLength="43.1" lengthAdjust="spacingAndGlyphs">immune response</text>
<path d="M171.0 718.9H267.4" stroke="#d3d3d3" stroke-width="4"/>
<ellipse cx="267.4" cy="718.9" rx="3.2" ry="5.2" fill="#fc4e07"/>
<path d="M136.0 718.9H138.2" stroke="#333" stroke-width="0.7"/>
<text x="135.2" y="721.4" font-size="8.4" font-weight="bold" fill="#111" text-anchor="end" textLength="59.4" lengthAdjust="spacingAndGlyphs">immune effector process</text>
<path d="M138.2 432.4V727H275" stroke="#333" stroke-width="1" fill="none"/>
<path d="M171.0 727V729.2" stroke="#333" stroke-width="0.7"/>
<text transform="translate(173.6,733.3) rotate(-90)" font-size="7.3" font-weight="bold" fill="#111" text-anchor="end" textLength="11.2" lengthAdjust="spacing">0.0</text>
<path d="M204.7 727V729.2" stroke="#333" stroke-width="0.7"/>
<text transform="translate(207.3,733.3) rotate(-90)" font-size="7.3" font-weight="bold" fill="#111" text-anchor="end" textLength="11.2" lengthAdjust="spacing">2.5</text>
<path d="M238.4 727V729.2" stroke="#333" stroke-width="0.7"/>
<text transform="translate(241.0,733.3) rotate(-90)" font-size="7.3" font-weight="bold" fill="#111" text-anchor="end" textLength="11.2" lengthAdjust="spacing">5.0</text>
<path d="M272.0 727V729.2" stroke="#333" stroke-width="0.7"/>
<text transform="translate(274.6,733.3) rotate(-90)" font-size="7.3" font-weight="bold" fill="#111" text-anchor="end" textLength="11.2" lengthAdjust="spacing">7.5</text>
<text x="178" y="755.5" font-size="9" fill="#333" textLength="56" lengthAdjust="spacingAndGlyphs">signed −log10(p.adj)</text>
<text x="119.6" y="410.2" font-size="8.6" font-weight="bold" fill="#111" textLength="24.7" lengthAdjust="spacingAndGlyphs">Males</text>
<text x="97.7" y="423" font-size="9.0" font-weight="bold" fill="#111" textLength="53.3" lengthAdjust="spacingAndGlyphs">5xFADvsWT</text>
<ellipse cx="175" cy="407.2" rx="3.2" ry="5.3" fill="#fc4e07"/>
<text x="182" y="410.3" font-size="8.6" fill="#333" textLength="20.4" lengthAdjust="spacingAndGlyphs">Activated</text>
<ellipse cx="210" cy="407.2" rx="3.2" ry="5.3" fill="#00afbb"/>
<text x="217" y="410.3" font-size="8.6" fill="#333" textLength="27.4" lengthAdjust="spacingAndGlyphs">Suppressed</text>
<path d="M510.5 432.3V729.2" stroke="#d0d0d0" stroke-width="0.6" stroke-dasharray="2 2"/>
<path d="M510.5 445.6H425.3" stroke="#d3d3d3" stroke-width="4"/>
<ellipse cx="425.3" cy="445.6" rx="3.2" ry="5.2" fill="#00afbb"/>
<path d="M417.5 445.6H419.7" stroke="#333" stroke-width="0.7"/>
<text x="416.7" y="448.1" font-size="8.4" font-weight="bold" fill="#111" text-anchor="end" textLength="42.2" lengthAdjust="spacingAndGlyphs">defense response</text>
<path d="M510.5 468.2H425.3" stroke="#d3d3d3" stroke-width="4"/>
<ellipse cx="425.3" cy="468.2" rx="3.2" ry="5.2" fill="#00afbb"/>
<path d="M417.5 468.2H419.7" stroke="#333" stroke-width="0.7"/>
<text x="416.7" y="470.7" font-size="8.4" font-weight="bold" fill="#111" text-anchor="end" textLength="45.1" lengthAdjust="spacingAndGlyphs">extracellular region</text>
<path d="M510.5 490.8H425.3" stroke="#d3d3d3" stroke-width="4"/>
<ellipse cx="425.3" cy="490.8" rx="3.2" ry="5.2" fill="#00afbb"/>
<path d="M417.5 490.8H419.7" stroke="#333" stroke-width="0.7"/>
<text x="416.7" y="493.3" font-size="8.4" font-weight="bold" fill="#111" text-anchor="end" textLength="42.2" lengthAdjust="spacingAndGlyphs">immune response</text>
<path d="M510.5 513.3H425.3" stroke="#d3d3d3" stroke-width="4"/>
<ellipse cx="425.3" cy="513.3" rx="3.2" ry="5.2" fill="#00afbb"/>
<path d="M417.5 513.3H419.7" stroke="#333" stroke-width="0.7"/>
<text x="416.7" y="515.8" font-size="8.4" font-weight="bold" fill="#111" text-anchor="end" textLength="44.2" lengthAdjust="spacingAndGlyphs">extracellular space</text>
<path d="M510.5 535.9H438.6" stroke="#d3d3d3" stroke-width="4"/>
<ellipse cx="438.6" cy="535.9" rx="3.2" ry="5.2" fill="#00afbb"/>
<path d="M417.5 535.9H419.7" stroke="#333" stroke-width="0.7"/>
<text x="416.7" y="538.4" font-size="8.4" font-weight="bold" fill="#111" text-anchor="end" textLength="84.9" lengthAdjust="spacingAndGlyphs">defense response to other organism</text>
<path d="M510.5 558.5H445.6" stroke="#d3d3d3" stroke-width="4"/>
<ellipse cx="445.6" cy="558.5" rx="3.2" ry="5.2" fill="#00afbb"/>
<path d="M417.5 558.5H419.7" stroke="#333" stroke-width="0.7"/>
<text x="416.7" y="561.0" font-size="8.4" font-weight="bold" fill="#111" text-anchor="end" textLength="57.7" lengthAdjust="spacingAndGlyphs">innate immune response</text>
<path d="M510.5 581.1H448.3" stroke="#d3d3d3" stroke-width="4"/>
<ellipse cx="448.3" cy="581.1" rx="3.2" ry="5.2" fill="#00afbb"/>
<path d="M417.5 581.1H419.7" stroke="#333" stroke-width="0.7"/>
<text x="416.7" y="583.6" font-size="8.4" font-weight="bold" fill="#111" text-anchor="end" textLength="56.7" lengthAdjust="spacingAndGlyphs">immune system process</text>
<path d="M510.5 603.7H451.6" stroke="#d3d3d3" stroke-width="4"/>
<ellipse cx="451.6" cy="603.7" rx="3.2" ry="5.2" fill="#00afbb"/>
<path d="M417.5 603.7H419.7" stroke="#333" stroke-width="0.7"/>
<text x="416.7" y="606.2" font-size="8.4" font-weight="bold" fill="#111" text-anchor="end" textLength="45.1" lengthAdjust="spacingAndGlyphs">extracellular matrix</text>
<path d="M510.5 626.2H451.6" stroke="#d3d3d3" stroke-width="4"/>
<ellipse cx="451.6" cy="626.2" rx="3.2" ry="5.2" fill="#00afbb"/>
<path d="M417.5 626.2H419.7" stroke="#333" stroke-width="0.7"/>
<text x="416.7" y="628.7" font-size="8.4" font-weight="bold" fill="#111" text-anchor="end" textLength="75.6" lengthAdjust="spacingAndGlyphs">external encapsulating structure</text>
<path d="M510.5 648.8H454.2" stroke="#d3d3d3" stroke-width="4"/>
<ellipse cx="454.2" cy="648.8" rx="3.2" ry="5.2" fill="#00afbb"/>
<path d="M417.5 648.8H419.7" stroke="#333" stroke-width="0.7"/>
<text x="416.7" y="651.3" font-size="8.4" font-weight="bold" fill="#111" text-anchor="end" textLength="55.1" lengthAdjust="spacingAndGlyphs">interspecies interaction</text>
<path d="M510.5 671.4H529.1" stroke="#d3d3d3" stroke-width="4"/>
<ellipse cx="529.1" cy="671.4" rx="3.2" ry="5.2" fill="#fc4e07"/>
<path d="M417.5 671.4H419.7" stroke="#333" stroke-width="0.7"/>
<text x="416.7" y="673.9" font-size="8.4" font-weight="bold" fill="#111" text-anchor="end" textLength="82.7" lengthAdjust="spacingAndGlyphs">phosphoric ester hydrolase activity</text>
<path d="M510.5 694.0H534.0" stroke="#d3d3d3" stroke-width="4"/>
<ellipse cx="534.0" cy="694.0" rx="3.2" ry="5.2" fill="#fc4e07"/>
<path d="M417.5 694.0H419.7" stroke="#333" stroke-width="0.7"/>
<text x="416.7" y="696.5" font-size="8.4" font-weight="bold" fill="#111" text-anchor="end" textLength="126.9" lengthAdjust="spacingAndGlyphs">negative regulation of intracellular signal transduction</text>
<path d="M510.5 716.6H537.3" stroke="#d3d3d3" stroke-width="4"/>
<ellipse cx="537.3" cy="716.6" rx="3.2" ry="5.2" fill="#fc4e07"/>
<path d="M417.5 716.6H419.7" stroke="#333" stroke-width="0.7"/>
<text x="416.7" y="719.1" font-size="8.4" font-weight="bold" fill="#111" text-anchor="end" textLength="49.2" lengthAdjust="spacingAndGlyphs">embryo development</text>
<path d="M419.7 432.3V729.2H542" stroke="#333" stroke-width="1" fill="none"/>
<path d="M421.7 729.2V731.4000000000001" stroke="#333" stroke-width="0.7"/>
<text transform="translate(424.3,735.5) rotate(-90)" font-size="7.3" font-weight="bold" fill="#111" text-anchor="end" textLength="11.2" lengthAdjust="spacing">−4</text>
<path d="M443.9 729.2V731.4000000000001" stroke="#333" stroke-width="0.7"/>
<text transform="translate(446.5,735.5) rotate(-90)" font-size="7.3" font-weight="bold" fill="#111" text-anchor="end" textLength="11.2" lengthAdjust="spacing">−3</text>
<path d="M466.1 729.2V731.4000000000001" stroke="#333" stroke-width="0.7"/>
<text transform="translate(468.7,735.5) rotate(-90)" font-size="7.3" font-weight="bold" fill="#111" text-anchor="end" textLength="11.2" lengthAdjust="spacing">−2</text>
<path d="M488.3 729.2V731.4000000000001" stroke="#333" stroke-width="0.7"/>
<text transform="translate(490.9,735.5) rotate(-90)" font-size="7.3" font-weight="bold" fill="#111" text-anchor="end" textLength="11.2" lengthAdjust="spacing">−1</text>
<path d="M510.5 729.2V731.4000000000001" stroke="#333" stroke-width="0.7"/>
<text transform="translate(513.1,735.5) rotate(-90)" font-size="7.3" font-weight="bold" fill="#111" text-anchor="end">0</text>
<path d="M532.7 729.2V731.4000000000001" stroke="#333" stroke-width="0.7"/>
<text transform="translate(535.3,735.5) rotate(-90)" font-size="7.3" font-weight="bold" fill="#111" text-anchor="end">1</text>
<text x="455.3" y="757.5" font-size="9" fill="#333" textLength="52.7" lengthAdjust="spacingAndGlyphs">signed −log10(p.adj)</text>
<text x="404.1" y="414.2" font-size="8.4" font-weight="bold" fill="#111" textLength="25.3" lengthAdjust="spacingAndGlyphs">Males</text>
<text x="352.1" y="423.6" font-size="9.2" font-weight="bold" fill="#111" textLength="112.3" lengthAdjust="spacingAndGlyphs">5xFAD-DUSP4vs5xFAD</text>
<ellipse cx="451.3" cy="407.0" rx="3.2" ry="5.3" fill="#fc4e07"/>
<text x="458.3" y="410.1" font-size="8.6" fill="#333" textLength="20.4" lengthAdjust="spacingAndGlyphs">Activated</text>
<ellipse cx="486.3" cy="407.0" rx="3.2" ry="5.3" fill="#00afbb"/>
<text x="493.3" y="410.1" font-size="8.6" fill="#333" textLength="25.8" lengthAdjust="spacingAndGlyphs">Suppressed</text>
</svg></body></html>
